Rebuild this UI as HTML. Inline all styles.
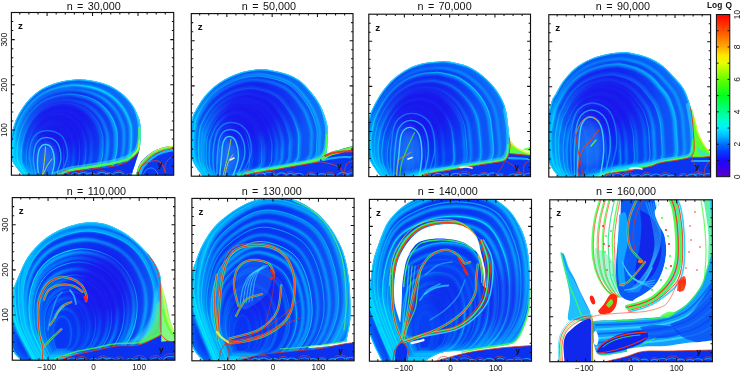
<!DOCTYPE html><html><head><meta charset="utf-8"><style>html,body{margin:0;padding:0;background:#fff;}svg{display:block;will-change:transform;}</style></head><body><svg width="742" height="372" viewBox="0 0 742 372"><defs><clipPath id="c0"><rect x="11.40" y="12.50" width="162.30" height="162.70"/></clipPath><filter id="bl" x="-5%" y="-5%" width="110%" height="110%"><feGaussianBlur stdDeviation="0.5"/></filter><filter id="bl3" x="-10%" y="-10%" width="120%" height="120%"><feGaussianBlur stdDeviation="2.5"/></filter><filter id="bl2" x="-5%" y="-5%" width="110%" height="110%"><feGaussianBlur stdDeviation="1.1"/></filter><path id="d1" d="M25.00,178.00 C22.70,174.83 13.62,165.33 11.20,159.00 C8.78,152.67 10.17,145.13 10.50,140.00 C10.83,134.87 12.20,131.78 13.20,128.20 C14.20,124.62 14.88,121.98 16.50,118.50 C18.12,115.02 20.48,110.78 22.90,107.30 C25.32,103.82 27.77,100.70 31.00,97.60 C34.23,94.50 37.73,91.25 42.30,88.70 C46.87,86.15 53.03,83.83 58.40,82.30 C63.77,80.77 69.90,79.92 74.50,79.50 C79.10,79.08 81.37,79.22 86.00,79.80 C90.63,80.38 97.43,81.52 102.30,83.00 C107.17,84.48 111.45,86.53 115.20,88.70 C118.95,90.87 121.85,93.18 124.80,96.00 C127.75,98.82 130.75,102.38 132.90,105.60 C135.05,108.82 136.48,112.33 137.70,115.30 C138.92,118.27 139.72,120.12 140.20,123.40 C140.68,126.68 140.63,131.18 140.60,135.00 C140.57,138.82 140.30,143.47 140.00,146.30 C139.70,149.13 139.28,150.12 138.80,152.00 C138.32,153.88 137.75,155.53 137.10,157.60 C136.45,159.67 135.65,162.13 134.90,164.40 C134.15,166.67 133.22,168.93 132.60,171.20 C131.98,173.47 131.43,176.87 131.20,178.00 Z"/><clipPath id="d1c"><use href="#d1"/></clipPath><linearGradient id="b1" gradientUnits="userSpaceOnUse" x1="80.0" y1="0" x2="142.0" y2="0"><stop offset="0" stop-color="#1a9cff" stop-opacity="0"/><stop offset="1" stop-color="#1a9cff" stop-opacity="0.45"/></linearGradient><radialGradient id="k1"><stop offset="0.000" stop-color="#1a14ec" stop-opacity="0.920"/><stop offset="0.400" stop-color="#1a14ec" stop-opacity="0.874"/><stop offset="0.700" stop-color="#1a14ec" stop-opacity="0.414"/><stop offset="1.000" stop-color="#1a14ec" stop-opacity="0.000"/></radialGradient><radialGradient id="g1"><stop offset="0.000" stop-color="#28b0ff" stop-opacity="0.500"/><stop offset="0.500" stop-color="#28b0ff" stop-opacity="0.400"/><stop offset="1.000" stop-color="#28b0ff" stop-opacity="0.000"/></radialGradient><clipPath id="c1"><rect x="191.30" y="13.60" width="161.70" height="162.60"/></clipPath><path id="d2" d="M204.50,179.00 C202.47,175.83 194.72,166.50 192.30,160.00 C189.88,153.50 190.05,146.78 190.00,140.00 C189.95,133.22 191.07,124.23 192.00,119.30 C192.93,114.37 194.05,113.50 195.60,110.40 C197.15,107.30 199.00,103.93 201.30,100.70 C203.60,97.47 206.45,93.95 209.40,91.00 C212.35,88.05 215.52,85.42 219.00,83.00 C222.48,80.58 226.27,78.38 230.30,76.50 C234.33,74.62 238.63,72.90 243.20,71.70 C247.77,70.50 253.52,69.63 257.70,69.30 C261.88,68.97 263.48,68.93 268.30,69.70 C273.12,70.47 281.42,72.13 286.60,73.90 C291.78,75.67 295.43,77.40 299.40,80.30 C303.37,83.20 307.05,87.35 310.40,91.30 C313.75,95.25 317.07,99.73 319.50,104.00 C321.93,108.27 323.63,112.92 325.00,116.90 C326.37,120.88 327.30,124.05 327.70,127.90 C328.10,131.75 327.58,135.92 327.40,140.00 C327.22,144.08 327.33,149.48 326.60,152.40 C325.87,155.32 324.15,155.97 323.00,157.50 C321.85,159.03 323.53,160.18 319.70,161.60 C315.87,163.02 306.62,164.60 300.00,166.00 C293.38,167.40 286.67,168.67 280.00,170.00 C273.33,171.33 265.83,172.50 260.00,174.00 C254.17,175.50 247.50,178.17 245.00,179.00 Z"/><clipPath id="d2c"><use href="#d2"/></clipPath><linearGradient id="b2" gradientUnits="userSpaceOnUse" x1="262.0" y1="0" x2="328.0" y2="0"><stop offset="0" stop-color="#1a9cff" stop-opacity="0"/><stop offset="1" stop-color="#1a9cff" stop-opacity="0.45"/></linearGradient><radialGradient id="k2"><stop offset="0.000" stop-color="#1a14ec" stop-opacity="0.920"/><stop offset="0.400" stop-color="#1a14ec" stop-opacity="0.874"/><stop offset="0.700" stop-color="#1a14ec" stop-opacity="0.414"/><stop offset="1.000" stop-color="#1a14ec" stop-opacity="0.000"/></radialGradient><radialGradient id="g2"><stop offset="0.000" stop-color="#28b0ff" stop-opacity="0.500"/><stop offset="0.500" stop-color="#28b0ff" stop-opacity="0.400"/><stop offset="1.000" stop-color="#28b0ff" stop-opacity="0.000"/></radialGradient><clipPath id="c2"><rect x="368.80" y="14.20" width="161.70" height="162.40"/></clipPath><path id="d3" d="M382.40,179.00 C380.08,175.42 371.23,164.83 368.50,157.50 C365.77,150.17 365.83,141.75 366.00,135.00 C366.17,128.25 368.63,120.92 369.50,117.00 C370.37,113.08 370.12,114.03 371.20,111.50 C372.28,108.97 374.12,105.17 376.00,101.80 C377.88,98.43 380.07,94.67 382.50,91.30 C384.93,87.93 387.63,84.57 390.60,81.60 C393.57,78.63 396.82,75.92 400.30,73.50 C403.78,71.08 407.47,68.85 411.50,67.10 C415.53,65.35 419.92,63.93 424.50,63.00 C429.08,62.07 434.95,61.73 439.00,61.50 C443.05,61.27 444.03,60.80 448.80,61.60 C453.57,62.40 461.95,63.95 467.60,66.30 C473.25,68.65 478.30,72.25 482.70,75.70 C487.10,79.15 490.72,82.92 494.00,87.00 C497.28,91.08 500.37,96.12 502.40,100.20 C504.43,104.28 505.30,107.70 506.20,111.50 C507.10,115.30 507.37,119.75 507.80,123.00 C508.23,126.25 508.53,128.50 508.80,131.00 C509.07,133.50 509.22,135.50 509.40,138.00 C509.58,140.50 509.93,143.42 509.90,146.00 C509.87,148.58 510.02,151.07 509.20,153.50 C508.38,155.93 507.50,159.07 505.00,160.60 C502.50,162.13 498.37,161.98 494.20,162.70 C490.03,163.42 486.47,163.82 480.00,164.90 C473.53,165.98 463.73,167.77 455.40,169.20 C447.07,170.63 436.73,171.87 430.00,173.50 C423.27,175.13 417.50,178.08 415.00,179.00 Z"/><clipPath id="d3c"><use href="#d3"/></clipPath><linearGradient id="b3" gradientUnits="userSpaceOnUse" x1="440.0" y1="0" x2="509.0" y2="0"><stop offset="0" stop-color="#1a9cff" stop-opacity="0"/><stop offset="1" stop-color="#1a9cff" stop-opacity="0.45"/></linearGradient><radialGradient id="k3"><stop offset="0.000" stop-color="#1a14ec" stop-opacity="0.920"/><stop offset="0.400" stop-color="#1a14ec" stop-opacity="0.874"/><stop offset="0.700" stop-color="#1a14ec" stop-opacity="0.414"/><stop offset="1.000" stop-color="#1a14ec" stop-opacity="0.000"/></radialGradient><radialGradient id="g3"><stop offset="0.000" stop-color="#28b0ff" stop-opacity="0.500"/><stop offset="0.500" stop-color="#28b0ff" stop-opacity="0.400"/><stop offset="1.000" stop-color="#28b0ff" stop-opacity="0.000"/></radialGradient><clipPath id="c3"><rect x="548.80" y="14.70" width="161.80" height="162.30"/></clipPath><path id="d4" d="M560.80,179.00 C558.83,176.12 551.47,169.87 549.00,161.70 C546.53,153.53 545.63,139.78 546.00,130.00 C546.37,120.22 549.53,109.10 551.20,103.00 C552.87,96.90 554.12,96.88 556.00,93.40 C557.88,89.92 560.07,85.60 562.50,82.10 C564.93,78.60 567.63,75.35 570.60,72.40 C573.57,69.45 576.53,66.82 580.30,64.40 C584.07,61.98 588.63,59.65 593.20,57.90 C597.77,56.15 602.87,54.83 607.70,53.90 C612.53,52.97 618.68,52.53 622.20,52.30 C625.72,52.07 624.57,51.68 628.80,52.50 C633.03,53.32 641.95,55.00 647.60,57.20 C653.25,59.40 658.30,62.40 662.70,65.70 C667.10,69.00 670.55,73.23 674.00,77.00 C677.45,80.77 680.90,84.22 683.40,88.30 C685.90,92.38 687.58,97.43 689.00,101.50 C690.42,105.57 691.28,109.45 691.90,112.70 C692.52,115.95 692.45,117.73 692.70,121.00 C692.95,124.27 693.13,127.95 693.40,132.30 C693.67,136.65 694.30,143.70 694.30,147.10 C694.30,150.50 693.87,151.00 693.40,152.70 C692.93,154.40 693.98,156.08 691.50,157.30 C689.02,158.52 683.75,159.07 678.50,160.00 C673.25,160.93 664.78,161.80 660.00,162.90 C655.22,164.00 654.82,165.32 649.80,166.60 C644.78,167.88 636.53,169.43 629.90,170.60 C623.27,171.77 615.82,172.20 610.00,173.60 C604.18,175.00 597.50,178.10 595.00,179.00 Z"/><clipPath id="d4c"><use href="#d4"/></clipPath><linearGradient id="b4" gradientUnits="userSpaceOnUse" x1="622.0" y1="0" x2="694.0" y2="0"><stop offset="0" stop-color="#1a9cff" stop-opacity="0"/><stop offset="1" stop-color="#1a9cff" stop-opacity="0.45"/></linearGradient><radialGradient id="k4"><stop offset="0.000" stop-color="#1a14ec" stop-opacity="0.920"/><stop offset="0.400" stop-color="#1a14ec" stop-opacity="0.874"/><stop offset="0.700" stop-color="#1a14ec" stop-opacity="0.414"/><stop offset="1.000" stop-color="#1a14ec" stop-opacity="0.000"/></radialGradient><radialGradient id="g4"><stop offset="0.000" stop-color="#28b0ff" stop-opacity="0.500"/><stop offset="0.500" stop-color="#28b0ff" stop-opacity="0.400"/><stop offset="1.000" stop-color="#28b0ff" stop-opacity="0.000"/></radialGradient><clipPath id="c4"><rect x="12.30" y="197.60" width="162.60" height="162.60"/></clipPath><path id="d5" d="M24.00,363.00 C22.05,360.67 14.63,356.17 12.30,349.00 C9.97,341.83 9.85,329.43 10.00,320.00 C10.15,310.57 12.30,298.43 13.20,292.40 C14.10,286.37 14.13,287.38 15.40,283.80 C16.67,280.22 18.83,275.20 20.80,270.90 C22.77,266.60 24.70,261.93 27.20,258.00 C29.70,254.07 32.57,250.70 35.80,247.30 C39.03,243.90 42.65,240.48 46.60,237.60 C50.55,234.72 54.85,232.15 59.50,230.00 C64.15,227.85 69.48,225.98 74.50,224.70 C79.52,223.42 84.48,222.42 89.60,222.30 C94.72,222.18 99.92,222.53 105.20,224.00 C110.48,225.47 116.27,228.23 121.30,231.10 C126.33,233.97 131.37,237.83 135.40,241.20 C139.43,244.57 142.47,247.93 145.50,251.30 C148.53,254.67 151.23,257.70 153.60,261.40 C155.97,265.10 158.40,268.73 159.70,273.50 C161.00,278.27 161.12,283.08 161.40,290.00 C161.68,296.92 161.43,306.67 161.40,315.00 C161.37,323.33 161.43,332.00 161.20,340.00 C160.97,348.00 160.20,359.17 160.00,363.00 Z"/><clipPath id="d5c"><use href="#d5"/></clipPath><path id="d5t" d="M42.00,364.00 C38.67,357.00 25.33,337.33 22.00,322.00 C18.67,306.67 18.17,286.33 22.00,272.00 C25.83,257.67 33.67,244.50 45.00,236.00 C56.33,227.50 75.00,221.17 90.00,221.00 C105.00,220.83 123.33,226.83 135.00,235.00 C146.67,243.17 155.33,257.50 160.00,270.00 C164.67,282.50 165.00,297.50 163.00,310.00 C161.00,322.50 155.50,336.00 148.00,345.00 C140.50,354.00 123.00,360.83 118.00,364.00 Z"/><linearGradient id="b5" gradientUnits="userSpaceOnUse" x1="118.0" y1="0" x2="162.0" y2="0"><stop offset="0" stop-color="#1a9cff" stop-opacity="0"/><stop offset="1" stop-color="#1a9cff" stop-opacity="0.40"/></linearGradient><radialGradient id="k5"><stop offset="0.000" stop-color="#1a14ec" stop-opacity="0.900"/><stop offset="0.400" stop-color="#1a14ec" stop-opacity="0.855"/><stop offset="0.700" stop-color="#1a14ec" stop-opacity="0.405"/><stop offset="1.000" stop-color="#1a14ec" stop-opacity="0.000"/></radialGradient><clipPath id="c5"><rect x="191.90" y="198.40" width="162.20" height="162.40"/></clipPath><path id="d6" d="M205.00,363.00 C202.67,359.65 193.67,353.40 191.00,342.90 C188.33,332.40 188.75,311.82 189.00,300.00 C189.25,288.18 191.55,277.90 192.50,272.00 C193.45,266.10 193.55,268.02 194.70,264.60 C195.85,261.18 197.68,255.57 199.40,251.50 C201.12,247.43 202.80,243.97 205.00,240.20 C207.20,236.43 209.77,232.35 212.60,228.90 C215.43,225.45 218.55,222.48 222.00,219.50 C225.45,216.52 229.22,213.67 233.30,211.00 C237.38,208.33 242.05,205.53 246.50,203.50 C250.95,201.47 255.75,199.92 260.00,198.80 C264.25,197.68 267.83,197.02 272.00,196.80 C276.17,196.58 280.95,196.87 285.00,197.50 C289.05,198.13 292.53,199.13 296.30,200.60 C300.07,202.07 303.83,203.93 307.60,206.30 C311.37,208.67 315.45,211.67 318.90,214.80 C322.35,217.93 325.48,221.50 328.30,225.10 C331.12,228.70 333.60,232.63 335.80,236.40 C338.00,240.17 339.93,243.93 341.50,247.70 C343.07,251.47 344.18,255.28 345.20,259.00 C346.22,262.72 346.88,265.67 347.60,270.00 C348.32,274.33 349.05,280.00 349.50,285.00 C349.95,290.00 350.17,294.25 350.30,300.00 C350.43,305.75 350.72,313.78 350.30,319.50 C349.88,325.22 348.42,330.60 347.80,334.30 C347.18,338.00 347.23,336.92 346.60,341.70 C345.97,346.48 344.43,359.45 344.00,363.00 Z"/><clipPath id="d6c"><use href="#d6"/></clipPath><path id="d6t" d="M220.00,364.00 C216.33,353.33 199.83,320.67 198.00,300.00 C196.17,279.33 201.83,255.33 209.00,240.00 C216.17,224.67 229.83,215.00 241.00,208.00 C252.17,201.00 262.67,196.67 276.00,198.00 C289.33,199.33 309.83,206.33 321.00,216.00 C332.17,225.67 338.50,240.67 343.00,256.00 C347.50,271.33 350.17,292.67 348.00,308.00 C345.83,323.33 338.33,338.67 330.00,348.00 C321.67,357.33 303.33,361.33 298.00,364.00 Z"/><linearGradient id="b6" gradientUnits="userSpaceOnUse" x1="285.0" y1="0" x2="350.0" y2="0"><stop offset="0" stop-color="#1a9cff" stop-opacity="0"/><stop offset="1" stop-color="#1a9cff" stop-opacity="0.40"/></linearGradient><radialGradient id="k6b"><stop offset="0.000" stop-color="#1a14ec" stop-opacity="0.600"/><stop offset="0.400" stop-color="#1a14ec" stop-opacity="0.570"/><stop offset="0.700" stop-color="#1a14ec" stop-opacity="0.270"/><stop offset="1.000" stop-color="#1a14ec" stop-opacity="0.000"/></radialGradient><clipPath id="c6"><rect x="369.40" y="199.40" width="162.10" height="161.80"/></clipPath><path id="d7" d="M383.20,364.00 C380.83,358.63 371.70,342.47 369.00,331.80 C366.30,321.13 366.83,307.80 367.00,300.00 C367.17,292.20 369.17,290.23 370.00,285.00 C370.83,279.77 371.25,273.43 372.00,268.60 C372.75,263.77 373.42,260.10 374.50,256.00 C375.58,251.90 377.08,248.00 378.50,244.00 C379.92,240.00 381.25,235.92 383.00,232.00 C384.75,228.08 386.00,224.50 389.00,220.50 C392.00,216.50 396.77,211.48 401.00,208.00 C405.23,204.52 409.57,202.10 414.40,199.60 C419.23,197.10 423.23,194.77 430.00,193.00 C436.77,191.23 446.67,189.17 455.00,189.00 C463.33,188.83 473.05,190.12 480.00,192.00 C486.95,193.88 491.67,197.05 496.70,200.30 C501.73,203.55 506.45,207.37 510.20,211.50 C513.95,215.63 516.75,220.58 519.20,225.10 C521.65,229.62 523.38,233.72 524.90,238.60 C526.42,243.48 527.52,248.75 528.30,254.40 C529.08,260.05 529.33,266.57 529.60,272.50 C529.87,278.43 530.08,283.68 529.90,290.00 C529.72,296.32 529.72,303.85 528.50,310.40 C527.28,316.95 524.77,324.18 522.60,329.30 C520.43,334.42 518.27,338.53 515.50,341.10 C512.73,343.67 511.52,343.52 506.00,344.70 C500.48,345.88 489.87,347.22 482.40,348.20 C474.93,349.18 468.27,349.80 461.20,350.60 C454.13,351.40 446.87,350.77 440.00,353.00 C433.13,355.23 423.33,362.17 420.00,364.00 Z"/><clipPath id="d7c"><use href="#d7"/></clipPath><path id="d7t" d="M400.00,364.00 C395.67,351.67 376.33,313.00 374.00,290.00 C371.67,267.00 378.33,241.17 386.00,226.00 C393.67,210.83 406.83,204.83 420.00,199.00 C433.17,193.17 450.83,190.17 465.00,191.00 C479.17,191.83 494.67,194.17 505.00,204.00 C515.33,213.83 523.33,232.67 527.00,250.00 C530.67,267.33 530.50,292.33 527.00,308.00 C523.50,323.67 515.50,334.67 506.00,344.00 C496.50,353.33 476.00,360.67 470.00,364.00 Z"/><linearGradient id="b7" gradientUnits="userSpaceOnUse" x1="470.0" y1="0" x2="530.0" y2="0"><stop offset="0" stop-color="#1a9cff" stop-opacity="0"/><stop offset="1" stop-color="#1a9cff" stop-opacity="0.35"/></linearGradient><radialGradient id="k7"><stop offset="0.000" stop-color="#1a14ec" stop-opacity="0.450"/><stop offset="0.400" stop-color="#1a14ec" stop-opacity="0.427"/><stop offset="0.700" stop-color="#1a14ec" stop-opacity="0.203"/><stop offset="1.000" stop-color="#1a14ec" stop-opacity="0.000"/></radialGradient><radialGradient id="g7"><stop offset="0.000" stop-color="#1020e8" stop-opacity="0.600"/><stop offset="0.500" stop-color="#1020e8" stop-opacity="0.480"/><stop offset="1.000" stop-color="#1020e8" stop-opacity="0.000"/></radialGradient><clipPath id="c7"><rect x="549.80" y="199.80" width="162.60" height="161.90"/></clipPath><linearGradient id="cbg" x1="0" y1="1" x2="0" y2="0"><stop offset="0.000" stop-color="#5a00c8"/><stop offset="0.050" stop-color="#3b00e7"/><stop offset="0.100" stop-color="#190afc"/><stop offset="0.150" stop-color="#0636ff"/><stop offset="0.200" stop-color="#006eff"/><stop offset="0.250" stop-color="#00b9ff"/><stop offset="0.300" stop-color="#00f0ff"/><stop offset="0.350" stop-color="#00ffc8"/><stop offset="0.400" stop-color="#00ff8f"/><stop offset="0.450" stop-color="#00ff56"/><stop offset="0.500" stop-color="#00ff1e"/><stop offset="0.550" stop-color="#32ff0f"/><stop offset="0.600" stop-color="#64ff00"/><stop offset="0.650" stop-color="#a5ff00"/><stop offset="0.700" stop-color="#e6ff00"/><stop offset="0.750" stop-color="#ffe600"/><stop offset="0.800" stop-color="#ffaa00"/><stop offset="0.850" stop-color="#ff7d00"/><stop offset="0.900" stop-color="#ff5000"/><stop offset="0.950" stop-color="#ff2800"/><stop offset="1.000" stop-color="#ff0000"/></linearGradient></defs><g clip-path="url(#c0)"><g clip-path="url(#d1c)"><use href="#d1" fill="#0836f2"/><use href="#d1" fill="none" stroke="#0a8cff" stroke-width="11" stroke-opacity="0.5" filter="url(#bl3)"/><g filter="url(#bl2)"><use href="#d1" transform="translate(40.00,177.00) scale(0.9053,0.9385) translate(-40.00,-177.00)" fill="none" stroke="#00d7ff" stroke-width="3.50" stroke-opacity="0.88" vector-effect="non-scaling-stroke"/><use href="#d1" transform="translate(40.00,177.00) scale(0.8351,0.8928) translate(-40.00,-177.00)" fill="none" stroke="#00d5ff" stroke-width="2.50" stroke-opacity="0.88" vector-effect="non-scaling-stroke"/><use href="#d1" transform="translate(40.00,177.00) scale(0.7530,0.8395) translate(-40.00,-177.00)" fill="none" stroke="#00d0ff" stroke-width="3.00" stroke-opacity="0.90" vector-effect="non-scaling-stroke"/><use href="#d1" transform="translate(40.00,177.00) scale(0.6713,0.7863) translate(-40.00,-177.00)" fill="none" stroke="#00d6ff" stroke-width="4.00" stroke-opacity="0.75" vector-effect="non-scaling-stroke"/><use href="#d1" transform="translate(40.00,177.00) scale(0.6086,0.7456) translate(-40.00,-177.00)" fill="none" stroke="#00baff" stroke-width="3.00" stroke-opacity="0.87" vector-effect="non-scaling-stroke"/><use href="#d1" transform="translate(40.00,177.00) scale(0.5102,0.6816) translate(-40.00,-177.00)" fill="none" stroke="#00ccff" stroke-width="2.50" stroke-opacity="0.69" vector-effect="non-scaling-stroke"/><use href="#d1" transform="translate(40.00,177.00) scale(0.4497,0.6423) translate(-40.00,-177.00)" fill="none" stroke="#00a5ff" stroke-width="2.50" stroke-opacity="0.86" vector-effect="non-scaling-stroke"/><use href="#d1" transform="translate(40.00,177.00) scale(0.3341,0.5672) translate(-40.00,-177.00)" fill="none" stroke="#00baff" stroke-width="4.00" stroke-opacity="0.83" vector-effect="non-scaling-stroke"/><use href="#d1" transform="translate(40.00,177.00) scale(0.2843,0.5348) translate(-40.00,-177.00)" fill="none" stroke="#00acff" stroke-width="4.00" stroke-opacity="0.89" vector-effect="non-scaling-stroke"/><use href="#d1" transform="translate(40.00,177.00) scale(0.1639,0.4565) translate(-40.00,-177.00)" fill="none" stroke="#00a3ff" stroke-width="2.50" stroke-opacity="0.68" vector-effect="non-scaling-stroke"/><use href="#d1" transform="translate(40.00,177.00) scale(0.0861,0.4060) translate(-40.00,-177.00)" fill="none" stroke="#00bdff" stroke-width="4.00" stroke-opacity="0.84" vector-effect="non-scaling-stroke"/></g><g filter="url(#bl)"><use href="#d1" transform="translate(40.00,177.00) scale(0.9084,0.9404) translate(-40.00,-177.00)" fill="none" stroke="#00e8ff" stroke-width="1.40" stroke-opacity="0.84" vector-effect="non-scaling-stroke"/><use href="#d1" transform="translate(40.00,177.00) scale(0.7674,0.8488) translate(-40.00,-177.00)" fill="none" stroke="#00ecff" stroke-width="1.40" stroke-opacity="0.86" vector-effect="non-scaling-stroke"/><use href="#d1" transform="translate(40.00,177.00) scale(0.6262,0.7570) translate(-40.00,-177.00)" fill="none" stroke="#00e2ff" stroke-width="1.10" stroke-opacity="0.91" vector-effect="non-scaling-stroke"/><use href="#d1" transform="translate(40.00,177.00) scale(0.4563,0.6466) translate(-40.00,-177.00)" fill="none" stroke="#00d4ff" stroke-width="0.90" stroke-opacity="0.80" vector-effect="non-scaling-stroke"/><use href="#d1" transform="translate(40.00,177.00) scale(0.3936,0.6059) translate(-40.00,-177.00)" fill="none" stroke="#00d1ff" stroke-width="0.90" stroke-opacity="0.84" vector-effect="non-scaling-stroke"/><use href="#d1" transform="translate(40.00,177.00) scale(0.2368,0.5039) translate(-40.00,-177.00)" fill="none" stroke="#00d6ff" stroke-width="1.40" stroke-opacity="0.74" vector-effect="non-scaling-stroke"/><use href="#d1" transform="translate(40.00,177.00) scale(0.1180,0.4267) translate(-40.00,-177.00)" fill="none" stroke="#00e0ff" stroke-width="1.10" stroke-opacity="0.68" vector-effect="non-scaling-stroke"/></g><rect x="80.0" y="0" width="82.0" height="372" fill="url(#b1)"/><ellipse cx="62.00" cy="124.00" rx="52.00" ry="46.00" fill="url(#k1)" transform="rotate(0.0 62.00 124.00)"/><path d="M25.00,178.00 C22.70,174.83 13.62,165.33 11.20,159.00 C8.78,152.67 10.17,145.13 10.50,140.00 C10.83,134.87 12.20,131.78 13.20,128.20 C14.20,124.62 14.88,121.98 16.50,118.50 C18.12,115.02 20.48,110.78 22.90,107.30 C25.32,103.82 27.77,100.70 31.00,97.60 C34.23,94.50 37.73,91.25 42.30,88.70 C46.87,86.15 53.03,83.83 58.40,82.30 C63.77,80.77 69.90,79.92 74.50,79.50 C79.10,79.08 81.37,79.22 86.00,79.80 C90.63,80.38 97.43,81.52 102.30,83.00 C107.17,84.48 111.45,86.53 115.20,88.70 C118.95,90.87 121.85,93.18 124.80,96.00 C127.75,98.82 130.75,102.38 132.90,105.60 C135.05,108.82 136.48,112.33 137.70,115.30 C138.92,118.27 139.72,120.12 140.20,123.40 C140.68,126.68 140.63,131.18 140.60,135.00 C140.57,138.82 140.30,143.47 140.00,146.30 C139.70,149.13 139.28,150.12 138.80,152.00 C138.32,153.88 137.75,155.53 137.10,157.60 C136.45,159.67 135.65,162.13 134.90,164.40 C134.15,166.67 133.22,168.93 132.60,171.20 C131.98,173.47 131.43,176.87 131.20,178.00 Z" fill="none" stroke="#10c0ff" stroke-width="2.60" stroke-opacity="0.90" stroke-linecap="round" stroke-linejoin="round" /><path d="M25.00,178.00 C22.70,174.83 13.62,165.33 11.20,159.00 C8.78,152.67 10.17,145.13 10.50,140.00 C10.83,134.87 12.20,131.78 13.20,128.20 C14.20,124.62 14.88,121.98 16.50,118.50 C18.12,115.02 20.48,110.78 22.90,107.30 C25.32,103.82 27.77,100.70 31.00,97.60 C34.23,94.50 37.73,91.25 42.30,88.70 C46.87,86.15 53.03,83.83 58.40,82.30 C63.77,80.77 69.90,79.92 74.50,79.50 C79.10,79.08 81.37,79.22 86.00,79.80 C90.63,80.38 97.43,81.52 102.30,83.00 C107.17,84.48 111.45,86.53 115.20,88.70 C118.95,90.87 121.85,93.18 124.80,96.00 C127.75,98.82 130.75,102.38 132.90,105.60 C135.05,108.82 136.48,112.33 137.70,115.30 C138.92,118.27 139.72,120.12 140.20,123.40 C140.68,126.68 140.63,131.18 140.60,135.00 C140.57,138.82 140.30,143.47 140.00,146.30 C139.70,149.13 139.28,150.12 138.80,152.00 C138.32,153.88 137.75,155.53 137.10,157.60 C136.45,159.67 135.65,162.13 134.90,164.40 C134.15,166.67 133.22,168.93 132.60,171.20 C131.98,173.47 131.43,176.87 131.20,178.00 Z" fill="none" stroke="#40e0ff" stroke-width="0.90" stroke-opacity="0.90" stroke-linecap="round" stroke-linejoin="round" /><path d="M137.00,110.00 C137.50,112.50 139.58,120.00 140.00,125.00 C140.42,130.00 140.17,135.67 139.50,140.00 C138.83,144.33 137.92,148.17 136.00,151.00 C134.08,153.83 132.00,155.17 128.00,157.00 C124.00,158.83 118.00,160.58 112.00,162.00 C106.00,163.42 99.00,164.33 92.00,165.50 C85.00,166.67 76.17,167.58 70.00,169.00 C63.83,170.42 57.50,173.17 55.00,174.00" fill="none" stroke="#30e0ff" stroke-width="4.50" stroke-opacity="0.60" stroke-linecap="round" stroke-linejoin="round" /><path d="M139.50,128.00 C139.50,130.33 139.92,138.08 139.50,142.00 C139.08,145.92 138.75,148.78 137.00,151.50 C135.25,154.22 132.83,156.38 129.00,158.30 C125.17,160.22 120.17,161.58 114.00,163.00 C107.83,164.42 99.33,165.55 92.00,166.80 C84.67,168.05 76.00,168.97 70.00,170.50 C64.00,172.03 58.33,175.08 56.00,176.00" fill="none" stroke="#50ff40" stroke-width="2.60" stroke-opacity="0.90" stroke-linecap="round" stroke-linejoin="round" /><path d="M139.50,140.00 C139.25,141.50 139.08,146.50 138.00,149.00 C136.92,151.50 133.83,154.00 133.00,155.00" fill="none" stroke="#e0ff30" stroke-width="1.20" stroke-opacity="0.80" stroke-linecap="round" stroke-linejoin="round" /><path d="M139.60,151.00 C138.05,152.50 133.35,157.80 130.30,160.00 C127.25,162.20 124.68,163.07 121.30,164.20 C117.92,165.33 114.98,166.00 110.00,166.80 C105.02,167.60 98.07,168.13 91.40,169.00 C84.73,169.87 75.57,170.58 70.00,172.00 C64.43,173.42 60.00,176.58 58.00,177.50 L58.00,180.00 L139.60,180.00 Z" fill="#0a30f0" fill-opacity="1.00" /><path d="M58.98,177.00 A5.46,4.37 0 0 1 69.89,177.00" fill="none" stroke="#20c0ff" stroke-width="1.10" stroke-opacity="0.70" stroke-linecap="round" stroke-linejoin="round" /><path d="M57.34,177.00 A7.09,6.38 0 0 1 71.53,177.00" fill="none" stroke="#e04020" stroke-width="0.90" stroke-opacity="0.70" stroke-linecap="round" stroke-linejoin="round" /><path d="M70.33,177.00 A5.24,4.19 0 0 1 80.81,177.00" fill="none" stroke="#20c0ff" stroke-width="1.10" stroke-opacity="0.70" stroke-linecap="round" stroke-linejoin="round" /><path d="M77.64,177.00 A5.52,4.42 0 0 1 88.68,177.00" fill="none" stroke="#20c0ff" stroke-width="1.10" stroke-opacity="0.70" stroke-linecap="round" stroke-linejoin="round" /><path d="M75.98,177.00 A7.18,6.46 0 0 1 90.33,177.00" fill="none" stroke="#e04020" stroke-width="0.90" stroke-opacity="0.70" stroke-linecap="round" stroke-linejoin="round" /><path d="M85.77,177.00 A5.35,4.28 0 0 1 96.46,177.00" fill="none" stroke="#20c0ff" stroke-width="1.10" stroke-opacity="0.70" stroke-linecap="round" stroke-linejoin="round" /><path d="M96.15,177.00 A6.00,4.80 0 0 1 108.14,177.00" fill="none" stroke="#20c0ff" stroke-width="1.10" stroke-opacity="0.70" stroke-linecap="round" stroke-linejoin="round" /><path d="M94.35,177.00 A7.80,6.60 0 0 1 109.94,177.00" fill="none" stroke="#e04020" stroke-width="0.90" stroke-opacity="0.70" stroke-linecap="round" stroke-linejoin="round" /><path d="M104.39,177.00 A4.86,3.89 0 0 1 114.12,177.00" fill="none" stroke="#20c0ff" stroke-width="1.10" stroke-opacity="0.70" stroke-linecap="round" stroke-linejoin="round" /><path d="M112.45,177.00 A6.03,4.83 0 0 1 124.52,177.00" fill="none" stroke="#20c0ff" stroke-width="1.10" stroke-opacity="0.70" stroke-linecap="round" stroke-linejoin="round" /><path d="M110.64,177.00 A7.85,6.60 0 0 1 126.33,177.00" fill="none" stroke="#e04020" stroke-width="0.90" stroke-opacity="0.70" stroke-linecap="round" stroke-linejoin="round" /><path d="M125.89,177.00 A4.26,3.41 0 0 1 134.41,177.00" fill="none" stroke="#20c0ff" stroke-width="1.10" stroke-opacity="0.70" stroke-linecap="round" stroke-linejoin="round" /><path d="M139.60,151.00 C138.05,152.50 133.35,157.80 130.30,160.00 C127.25,162.20 124.68,163.07 121.30,164.20 C117.92,165.33 114.98,166.00 110.00,166.80 C105.02,167.60 98.07,168.13 91.40,169.00 C84.73,169.87 75.57,170.58 70.00,172.00 C64.43,173.42 60.00,176.58 58.00,177.50" fill="none" stroke="#e83010" stroke-width="1.00" stroke-opacity="0.90" stroke-linecap="round" stroke-linejoin="round" /></g><ellipse cx="46.00" cy="160.00" rx="14.00" ry="22.00" fill="url(#g1)"/><path d="M39.00,178.00 C38.75,175.49 37.43,167.73 37.50,162.93 C37.57,158.12 38.09,152.26 39.42,149.19 C40.75,146.12 43.37,144.50 45.50,144.50 C47.63,144.50 50.75,146.12 52.22,149.19 C53.69,152.26 54.50,158.12 54.30,162.93 C54.10,167.73 51.55,175.49 51.00,178.00" fill="none" stroke="#40e8ff" stroke-width="1.40" stroke-opacity="0.85" stroke-linecap="round" stroke-linejoin="round" /><path d="M36.50,178.00 C36.00,174.96 33.48,165.58 33.50,159.78 C33.52,153.97 34.45,146.88 36.62,143.17 C38.79,139.46 43.03,137.50 46.50,137.50 C49.97,137.50 55.04,139.46 57.42,143.17 C59.80,146.88 61.20,153.97 60.80,159.78 C60.40,165.58 55.97,174.96 55.00,178.00" fill="none" stroke="#28c8ff" stroke-width="1.40" stroke-opacity="0.70" stroke-linecap="round" stroke-linejoin="round" /><path d="M34.00,178.00 C33.25,174.44 29.53,163.43 29.50,156.62 C29.47,149.82 30.82,141.50 33.82,137.15 C36.82,132.80 42.70,130.50 47.50,130.50 C52.30,130.50 59.32,132.80 62.62,137.15 C65.92,141.50 67.90,149.82 67.30,156.62 C66.70,163.43 60.38,174.44 59.00,178.00" fill="none" stroke="#20a8ff" stroke-width="1.40" stroke-opacity="0.55" stroke-linecap="round" stroke-linejoin="round" /><path d="M45.50,147.00 C45.33,149.17 45.00,155.33 44.50,160.00 C44.00,164.67 42.83,172.50 42.50,175.00" fill="none" stroke="#c8e030" stroke-width="1.00" stroke-opacity="0.90" stroke-linecap="round" stroke-linejoin="round" /><path d="M52.00,159.00 C51.17,160.17 48.50,163.33 47.00,166.00 C45.50,168.67 43.67,173.50 43.00,175.00" fill="none" stroke="#e0e040" stroke-width="0.90" stroke-opacity="0.90" stroke-linecap="round" stroke-linejoin="round" /><path d="M135.50,178.00 C135.58,177.42 135.35,176.77 136.00,174.50 C136.65,172.23 138.08,167.03 139.40,164.40 C140.72,161.77 142.13,160.52 143.90,158.70 C145.67,156.88 147.82,155.03 150.00,153.50 C152.18,151.97 154.17,150.67 157.00,149.50 C159.83,148.33 163.83,147.17 167.00,146.50 C170.17,145.83 174.50,145.67 176.00,145.50 L176,178 Z" fill="#0a36f2" fill-opacity="1.00" /><path d="M137.20,175.90 C137.77,174.22 139.28,168.43 140.60,165.80 C141.92,163.17 143.33,161.92 145.10,160.10 C146.87,158.28 149.02,156.43 151.20,154.90 C153.38,153.37 155.37,152.07 158.20,150.90 C161.03,149.73 165.03,148.57 168.20,147.90 C171.37,147.23 175.70,147.07 177.20,146.90" fill="none" stroke="#60ff40" stroke-width="3.00" stroke-opacity="0.95" stroke-linecap="round" stroke-linejoin="round" /><path d="M140.00,164.80 C140.75,163.85 142.73,160.92 144.50,159.10 C146.27,157.28 148.42,155.43 150.60,153.90 C152.78,152.37 154.77,151.07 157.60,149.90 C160.43,148.73 164.43,147.57 167.60,146.90 C170.77,146.23 175.10,146.07 176.60,145.90" fill="none" stroke="#f0ff30" stroke-width="1.00" stroke-opacity="0.80" stroke-linecap="round" stroke-linejoin="round" /><path d="M139.00,178.50 C139.57,176.82 141.08,171.03 142.40,168.40 C143.72,165.77 145.13,164.52 146.90,162.70 C148.67,160.88 150.82,159.03 153.00,157.50 C155.18,155.97 157.17,154.67 160.00,153.50 C162.83,152.33 166.83,151.17 170.00,150.50 C173.17,149.83 177.50,149.67 179.00,149.50" fill="none" stroke="#20d8ff" stroke-width="2.40" stroke-opacity="0.75" stroke-linecap="round" stroke-linejoin="round" /><path d="M138.00,176.00 C138.50,174.50 139.17,169.33 141.00,167.00 C142.83,164.67 146.17,163.00 149.00,162.00 C151.83,161.00 155.67,160.33 158.00,161.00 C160.33,161.67 161.67,163.50 163.00,166.00 C164.33,168.50 165.50,174.33 166.00,176.00" fill="none" stroke="#e04020" stroke-width="1.00" stroke-opacity="0.90" stroke-linecap="round" stroke-linejoin="round" /><path d="M166.00,176.00 C165.83,174.17 164.33,168.00 165.00,165.00 C165.67,162.00 168.17,159.50 170.00,158.00 C171.83,156.50 175.00,156.33 176.00,156.00" fill="none" stroke="#e04020" stroke-width="0.90" stroke-opacity="0.80" stroke-linecap="round" stroke-linejoin="round" /><path d="M137.50,177.00 C138.07,175.32 139.58,169.53 140.90,166.90 C142.22,164.27 143.63,163.02 145.40,161.20 C147.17,159.38 149.32,157.53 151.50,156.00 C153.68,154.47 155.67,153.17 158.50,152.00 C161.33,150.83 165.33,149.67 168.50,149.00 C171.67,148.33 176.00,148.17 177.50,148.00" fill="none" stroke="#f04020" stroke-width="0.90" stroke-opacity="0.85" stroke-linecap="round" stroke-linejoin="round" /><path d="M142.00,177.00 C142.67,175.83 144.33,171.50 146.00,170.00 C147.67,168.50 150.17,167.67 152.00,168.00 C153.83,168.33 156.00,170.50 157.00,172.00 C158.00,173.50 157.83,176.17 158.00,177.00" fill="none" stroke="#30d0ff" stroke-width="1.00" stroke-opacity="0.60" stroke-linecap="round" stroke-linejoin="round" /></g><g clip-path="url(#c1)"><g clip-path="url(#d2c)"><use href="#d2" fill="#0836f2"/><use href="#d2" fill="none" stroke="#0a8cff" stroke-width="11" stroke-opacity="0.5" filter="url(#bl3)"/><g filter="url(#bl2)"><use href="#d2" transform="translate(221.00,178.00) scale(0.9242,0.9507) translate(-221.00,-178.00)" fill="none" stroke="#00dfff" stroke-width="2.50" stroke-opacity="0.86" vector-effect="non-scaling-stroke"/><use href="#d2" transform="translate(221.00,178.00) scale(0.8499,0.9024) translate(-221.00,-178.00)" fill="none" stroke="#00caff" stroke-width="2.50" stroke-opacity="0.88" vector-effect="non-scaling-stroke"/><use href="#d2" transform="translate(221.00,178.00) scale(0.7356,0.8281) translate(-221.00,-178.00)" fill="none" stroke="#00cdff" stroke-width="3.00" stroke-opacity="0.75" vector-effect="non-scaling-stroke"/><use href="#d2" transform="translate(221.00,178.00) scale(0.6532,0.7746) translate(-221.00,-178.00)" fill="none" stroke="#00beff" stroke-width="3.00" stroke-opacity="0.75" vector-effect="non-scaling-stroke"/><use href="#d2" transform="translate(221.00,178.00) scale(0.5753,0.7239) translate(-221.00,-178.00)" fill="none" stroke="#00d3ff" stroke-width="4.00" stroke-opacity="0.69" vector-effect="non-scaling-stroke"/><use href="#d2" transform="translate(221.00,178.00) scale(0.5237,0.6904) translate(-221.00,-178.00)" fill="none" stroke="#00afff" stroke-width="4.00" stroke-opacity="0.68" vector-effect="non-scaling-stroke"/><use href="#d2" transform="translate(221.00,178.00) scale(0.4028,0.6118) translate(-221.00,-178.00)" fill="none" stroke="#00ccff" stroke-width="3.00" stroke-opacity="0.84" vector-effect="non-scaling-stroke"/><use href="#d2" transform="translate(221.00,178.00) scale(0.3680,0.5892) translate(-221.00,-178.00)" fill="none" stroke="#00a6ff" stroke-width="3.00" stroke-opacity="0.72" vector-effect="non-scaling-stroke"/><use href="#d2" transform="translate(221.00,178.00) scale(0.2863,0.5361) translate(-221.00,-178.00)" fill="none" stroke="#00b4ff" stroke-width="3.00" stroke-opacity="0.70" vector-effect="non-scaling-stroke"/><use href="#d2" transform="translate(221.00,178.00) scale(0.2048,0.4831) translate(-221.00,-178.00)" fill="none" stroke="#009dff" stroke-width="4.00" stroke-opacity="0.72" vector-effect="non-scaling-stroke"/><use href="#d2" transform="translate(221.00,178.00) scale(0.0932,0.4106) translate(-221.00,-178.00)" fill="none" stroke="#0094ff" stroke-width="3.00" stroke-opacity="0.72" vector-effect="non-scaling-stroke"/></g><g filter="url(#bl)"><use href="#d2" transform="translate(221.00,178.00) scale(0.9006,0.9354) translate(-221.00,-178.00)" fill="none" stroke="#00e4ff" stroke-width="0.90" stroke-opacity="0.93" vector-effect="non-scaling-stroke"/><use href="#d2" transform="translate(221.00,178.00) scale(0.7284,0.8234) translate(-221.00,-178.00)" fill="none" stroke="#00eeff" stroke-width="1.10" stroke-opacity="0.70" vector-effect="non-scaling-stroke"/><use href="#d2" transform="translate(221.00,178.00) scale(0.6413,0.7668) translate(-221.00,-178.00)" fill="none" stroke="#00daff" stroke-width="0.90" stroke-opacity="0.63" vector-effect="non-scaling-stroke"/><use href="#d2" transform="translate(221.00,178.00) scale(0.4777,0.6605) translate(-221.00,-178.00)" fill="none" stroke="#00edff" stroke-width="1.10" stroke-opacity="0.82" vector-effect="non-scaling-stroke"/><use href="#d2" transform="translate(221.00,178.00) scale(0.3826,0.5987) translate(-221.00,-178.00)" fill="none" stroke="#00dfff" stroke-width="1.40" stroke-opacity="0.68" vector-effect="non-scaling-stroke"/><use href="#d2" transform="translate(221.00,178.00) scale(0.2662,0.5230) translate(-221.00,-178.00)" fill="none" stroke="#00e0ff" stroke-width="1.40" stroke-opacity="0.92" vector-effect="non-scaling-stroke"/><use href="#d2" transform="translate(221.00,178.00) scale(0.0661,0.3930) translate(-221.00,-178.00)" fill="none" stroke="#00d3ff" stroke-width="1.40" stroke-opacity="0.93" vector-effect="non-scaling-stroke"/></g><rect x="262.0" y="0" width="86.0" height="372" fill="url(#b2)"/><ellipse cx="251.00" cy="113.00" rx="56.00" ry="46.00" fill="url(#k2)" transform="rotate(0.0 251.00 113.00)"/><path d="M204.50,179.00 C202.47,175.83 194.72,166.50 192.30,160.00 C189.88,153.50 190.05,146.78 190.00,140.00 C189.95,133.22 191.07,124.23 192.00,119.30 C192.93,114.37 194.05,113.50 195.60,110.40 C197.15,107.30 199.00,103.93 201.30,100.70 C203.60,97.47 206.45,93.95 209.40,91.00 C212.35,88.05 215.52,85.42 219.00,83.00 C222.48,80.58 226.27,78.38 230.30,76.50 C234.33,74.62 238.63,72.90 243.20,71.70 C247.77,70.50 253.52,69.63 257.70,69.30 C261.88,68.97 263.48,68.93 268.30,69.70 C273.12,70.47 281.42,72.13 286.60,73.90 C291.78,75.67 295.43,77.40 299.40,80.30 C303.37,83.20 307.05,87.35 310.40,91.30 C313.75,95.25 317.07,99.73 319.50,104.00 C321.93,108.27 323.63,112.92 325.00,116.90 C326.37,120.88 327.30,124.05 327.70,127.90 C328.10,131.75 327.58,135.92 327.40,140.00 C327.22,144.08 327.33,149.48 326.60,152.40 C325.87,155.32 324.15,155.97 323.00,157.50 C321.85,159.03 323.53,160.18 319.70,161.60 C315.87,163.02 306.62,164.60 300.00,166.00 C293.38,167.40 286.67,168.67 280.00,170.00 C273.33,171.33 265.83,172.50 260.00,174.00 C254.17,175.50 247.50,178.17 245.00,179.00 Z" fill="none" stroke="#10c0ff" stroke-width="2.60" stroke-opacity="0.90" stroke-linecap="round" stroke-linejoin="round" /><path d="M204.50,179.00 C202.47,175.83 194.72,166.50 192.30,160.00 C189.88,153.50 190.05,146.78 190.00,140.00 C189.95,133.22 191.07,124.23 192.00,119.30 C192.93,114.37 194.05,113.50 195.60,110.40 C197.15,107.30 199.00,103.93 201.30,100.70 C203.60,97.47 206.45,93.95 209.40,91.00 C212.35,88.05 215.52,85.42 219.00,83.00 C222.48,80.58 226.27,78.38 230.30,76.50 C234.33,74.62 238.63,72.90 243.20,71.70 C247.77,70.50 253.52,69.63 257.70,69.30 C261.88,68.97 263.48,68.93 268.30,69.70 C273.12,70.47 281.42,72.13 286.60,73.90 C291.78,75.67 295.43,77.40 299.40,80.30 C303.37,83.20 307.05,87.35 310.40,91.30 C313.75,95.25 317.07,99.73 319.50,104.00 C321.93,108.27 323.63,112.92 325.00,116.90 C326.37,120.88 327.30,124.05 327.70,127.90 C328.10,131.75 327.58,135.92 327.40,140.00 C327.22,144.08 327.33,149.48 326.60,152.40 C325.87,155.32 324.15,155.97 323.00,157.50 C321.85,159.03 323.53,160.18 319.70,161.60 C315.87,163.02 306.62,164.60 300.00,166.00 C293.38,167.40 286.67,168.67 280.00,170.00 C273.33,171.33 265.83,172.50 260.00,174.00 C254.17,175.50 247.50,178.17 245.00,179.00 Z" fill="none" stroke="#40e0ff" stroke-width="0.90" stroke-opacity="0.90" stroke-linecap="round" stroke-linejoin="round" /><path d="M322.00,105.00 C322.83,108.33 326.25,118.33 327.00,125.00 C327.75,131.67 327.33,139.83 326.50,145.00 C325.67,150.17 324.42,153.33 322.00,156.00 C319.58,158.67 316.20,159.67 312.00,161.00 C307.80,162.33 303.23,162.77 296.80,164.00 C290.37,165.23 281.20,166.98 273.40,168.40 C265.60,169.82 256.23,171.07 250.00,172.50 C243.77,173.93 238.33,176.25 236.00,177.00" fill="none" stroke="#30e0ff" stroke-width="4.50" stroke-opacity="0.60" stroke-linecap="round" stroke-linejoin="round" /><path d="M327.00,135.00 C326.83,137.50 327.00,146.17 326.00,150.00 C325.00,153.83 323.67,156.08 321.00,158.00 C318.33,159.92 314.03,160.45 310.00,161.50 C305.97,162.55 302.90,163.08 296.80,164.30 C290.70,165.52 281.20,167.38 273.40,168.80 C265.60,170.22 256.23,171.43 250.00,172.80 C243.77,174.17 238.33,176.30 236.00,177.00" fill="none" stroke="#50ff40" stroke-width="2.40" stroke-opacity="0.90" stroke-linecap="round" stroke-linejoin="round" /></g><ellipse cx="228.00" cy="157.00" rx="15.00" ry="24.00" fill="url(#g2)"/><path d="M219.50,178.00 C219.80,174.89 220.68,165.27 221.30,159.32 C221.92,153.38 221.89,146.11 223.22,142.31 C224.55,138.51 227.17,136.50 229.30,136.50 C231.43,136.50 234.55,138.51 236.02,142.31 C237.49,146.11 238.77,153.38 238.10,159.32 C237.43,165.27 233.02,174.89 232.00,178.00" fill="none" stroke="#40e8ff" stroke-width="1.40" stroke-opacity="0.85" stroke-linecap="round" stroke-linejoin="round" /><path d="M217.00,178.00 C217.05,174.36 216.73,163.13 217.30,156.18 C217.87,149.22 218.25,140.74 220.42,136.29 C222.59,131.84 226.83,129.50 230.30,129.50 C233.77,129.50 238.84,131.84 241.22,136.29 C243.60,140.74 245.47,149.22 244.60,156.18 C243.73,163.13 237.43,174.36 236.00,178.00" fill="none" stroke="#28c8ff" stroke-width="1.40" stroke-opacity="0.70" stroke-linecap="round" stroke-linejoin="round" /><path d="M214.50,178.00 C214.30,173.84 212.78,160.98 213.30,153.03 C213.82,145.07 214.62,135.36 217.62,130.27 C220.62,125.18 226.50,122.50 231.30,122.50 C236.10,122.50 243.12,125.18 246.42,130.27 C249.72,135.36 252.17,145.07 251.10,153.03 C250.03,160.98 241.85,173.84 240.00,178.00" fill="none" stroke="#20a8ff" stroke-width="1.40" stroke-opacity="0.55" stroke-linecap="round" stroke-linejoin="round" /><path d="M231.00,139.20 C230.50,141.83 229.35,148.87 228.00,155.00 C226.65,161.13 223.75,172.50 222.90,176.00" fill="none" stroke="#b0e030" stroke-width="1.00" stroke-opacity="0.90" stroke-linecap="round" stroke-linejoin="round" /><path d="M232.90,154.70 C232.08,156.08 229.37,159.45 228.00,163.00 C226.63,166.55 225.25,173.83 224.70,176.00" fill="none" stroke="#e0d040" stroke-width="0.90" stroke-opacity="0.90" stroke-linecap="round" stroke-linejoin="round" /><path d="M230.00,160.00 C230.67,159.67 233.33,158.33 234.00,158.00" fill="none" stroke="#ffffff" stroke-width="1.60" stroke-opacity="0.90" stroke-linecap="round" stroke-linejoin="round" /><path d="M238.00,178.00 C240.00,177.33 244.10,175.33 250.00,174.00 C255.90,172.67 265.60,171.37 273.40,170.00 C281.20,168.63 289.08,167.17 296.80,165.80 C304.52,164.43 315.88,162.47 319.70,161.80 L319.70,161.80 C320.08,161.00 320.28,158.57 322.00,157.00 C323.72,155.43 326.92,153.65 330.00,152.40 C333.08,151.15 337.00,150.47 340.50,149.50 C344.00,148.53 348.42,147.15 351.00,146.60 C353.58,146.05 355.17,146.27 356.00,146.20 L356,180 L238,180 Z" fill="#0a36f2" fill-opacity="1.00" /><path d="M322.80,158.60 C324.13,157.83 327.72,155.25 330.80,154.00 C333.88,152.75 337.80,152.07 341.30,151.10 C344.80,150.13 349.22,148.75 351.80,148.20 C354.38,147.65 355.97,147.87 356.80,147.80" fill="none" stroke="#60ff40" stroke-width="3.40" stroke-opacity="0.95" stroke-linecap="round" stroke-linejoin="round" /><path d="M325.50,155.80 C326.75,155.33 330.08,153.72 333.00,153.00 C335.92,152.28 339.83,151.80 343.00,151.50 C346.17,151.20 349.83,151.20 352.00,151.20 C354.17,151.20 355.33,151.45 356.00,151.50" fill="none" stroke="#ff2a10" stroke-width="2.20" stroke-opacity="0.95" stroke-linecap="round" stroke-linejoin="round" /><path d="M323.00,160.00 C324.83,159.67 330.33,158.50 334.00,158.00 C337.67,157.50 341.33,157.08 345.00,157.00 C348.67,156.92 354.17,157.42 356.00,157.50" fill="none" stroke="#20e0ff" stroke-width="2.20" stroke-opacity="0.70" stroke-linecap="round" stroke-linejoin="round" /><path d="M242.42,177.50 A6.28,5.02 0 0 1 254.99,177.50" fill="none" stroke="#20c0ff" stroke-width="1.10" stroke-opacity="0.70" stroke-linecap="round" stroke-linejoin="round" /><path d="M240.54,177.50 A8.17,7.35 0 0 1 256.87,177.50" fill="none" stroke="#e04020" stroke-width="0.90" stroke-opacity="0.70" stroke-linecap="round" stroke-linejoin="round" /><path d="M254.93,177.50 A5.75,4.60 0 0 1 266.43,177.50" fill="none" stroke="#20c0ff" stroke-width="1.10" stroke-opacity="0.70" stroke-linecap="round" stroke-linejoin="round" /><path d="M262.55,177.50 A6.54,5.23 0 0 1 275.63,177.50" fill="none" stroke="#20c0ff" stroke-width="1.10" stroke-opacity="0.70" stroke-linecap="round" stroke-linejoin="round" /><path d="M260.59,177.50 A8.50,7.48 0 0 1 277.59,177.50" fill="none" stroke="#e04020" stroke-width="0.90" stroke-opacity="0.70" stroke-linecap="round" stroke-linejoin="round" /><path d="M275.72,177.50 A5.83,4.67 0 0 1 287.38,177.50" fill="none" stroke="#20c0ff" stroke-width="1.10" stroke-opacity="0.70" stroke-linecap="round" stroke-linejoin="round" /><path d="M285.29,177.50 A5.14,4.11 0 0 1 295.57,177.50" fill="none" stroke="#20c0ff" stroke-width="1.10" stroke-opacity="0.70" stroke-linecap="round" stroke-linejoin="round" /><path d="M283.75,177.50 A6.68,6.01 0 0 1 297.11,177.50" fill="none" stroke="#e04020" stroke-width="0.90" stroke-opacity="0.70" stroke-linecap="round" stroke-linejoin="round" /><path d="M293.04,177.50 A5.48,4.38 0 0 1 303.99,177.50" fill="none" stroke="#20c0ff" stroke-width="1.10" stroke-opacity="0.70" stroke-linecap="round" stroke-linejoin="round" /><path d="M306.22,177.50 A4.72,3.77 0 0 1 315.65,177.50" fill="none" stroke="#20c0ff" stroke-width="1.10" stroke-opacity="0.70" stroke-linecap="round" stroke-linejoin="round" /><path d="M304.80,177.50 A6.13,5.52 0 0 1 317.06,177.50" fill="none" stroke="#e04020" stroke-width="0.90" stroke-opacity="0.70" stroke-linecap="round" stroke-linejoin="round" /><path d="M316.73,177.50 A5.13,4.10 0 0 1 326.98,177.50" fill="none" stroke="#20c0ff" stroke-width="1.10" stroke-opacity="0.70" stroke-linecap="round" stroke-linejoin="round" /><path d="M325.06,177.50 A4.65,3.72 0 0 1 334.35,177.50" fill="none" stroke="#20c0ff" stroke-width="1.10" stroke-opacity="0.70" stroke-linecap="round" stroke-linejoin="round" /><path d="M323.66,177.50 A6.04,5.44 0 0 1 335.75,177.50" fill="none" stroke="#e04020" stroke-width="0.90" stroke-opacity="0.70" stroke-linecap="round" stroke-linejoin="round" /><path d="M336.45,177.50 A6.40,5.12 0 0 1 349.26,177.50" fill="none" stroke="#20c0ff" stroke-width="1.10" stroke-opacity="0.70" stroke-linecap="round" stroke-linejoin="round" /><path d="M346.36,177.50 A6.09,4.88 0 0 1 358.55,177.50" fill="none" stroke="#20c0ff" stroke-width="1.10" stroke-opacity="0.70" stroke-linecap="round" stroke-linejoin="round" /><path d="M344.53,177.50 A7.92,7.13 0 0 1 360.38,177.50" fill="none" stroke="#e04020" stroke-width="0.90" stroke-opacity="0.70" stroke-linecap="round" stroke-linejoin="round" /><path d="M238.00,178.00 C240.00,177.33 244.10,175.33 250.00,174.00 C255.90,172.67 265.60,171.37 273.40,170.00 C281.20,168.63 289.08,167.17 296.80,165.80 C304.52,164.43 315.88,162.47 319.70,161.80" fill="none" stroke="#e83010" stroke-width="1.00" stroke-opacity="0.90" stroke-linecap="round" stroke-linejoin="round" /><path d="M319.70,161.60 C322.20,162.17 331.03,163.65 334.70,165.00 C338.37,166.35 340.15,167.70 341.70,169.70 C343.25,171.70 343.62,175.78 344.00,177.00" fill="none" stroke="#e04020" stroke-width="1.00" stroke-opacity="0.85" stroke-linecap="round" stroke-linejoin="round" /><path d="M344.00,177.00 C344.33,175.00 344.67,167.67 346.00,165.00 C347.33,162.33 350.33,161.75 352.00,161.00 C353.67,160.25 355.33,160.58 356.00,160.50" fill="none" stroke="#e04020" stroke-width="0.90" stroke-opacity="0.80" stroke-linecap="round" stroke-linejoin="round" /></g><g clip-path="url(#c2)"><g clip-path="url(#d3c)"><use href="#d3" fill="#0836f2"/><use href="#d3" fill="none" stroke="#0a8cff" stroke-width="11" stroke-opacity="0.5" filter="url(#bl3)"/><g filter="url(#bl2)"><use href="#d3" transform="translate(398.00,178.00) scale(0.9095,0.9412) translate(-398.00,-178.00)" fill="none" stroke="#00c9ff" stroke-width="2.50" stroke-opacity="0.67" vector-effect="non-scaling-stroke"/><use href="#d3" transform="translate(398.00,178.00) scale(0.8381,0.8948) translate(-398.00,-178.00)" fill="none" stroke="#00ceff" stroke-width="2.50" stroke-opacity="0.88" vector-effect="non-scaling-stroke"/><use href="#d3" transform="translate(398.00,178.00) scale(0.7405,0.8314) translate(-398.00,-178.00)" fill="none" stroke="#00bbff" stroke-width="4.00" stroke-opacity="0.67" vector-effect="non-scaling-stroke"/><use href="#d3" transform="translate(398.00,178.00) scale(0.6526,0.7742) translate(-398.00,-178.00)" fill="none" stroke="#00c7ff" stroke-width="2.50" stroke-opacity="0.89" vector-effect="non-scaling-stroke"/><use href="#d3" transform="translate(398.00,178.00) scale(0.5973,0.7383) translate(-398.00,-178.00)" fill="none" stroke="#00caff" stroke-width="2.50" stroke-opacity="0.79" vector-effect="non-scaling-stroke"/><use href="#d3" transform="translate(398.00,178.00) scale(0.5040,0.6776) translate(-398.00,-178.00)" fill="none" stroke="#00d4ff" stroke-width="2.50" stroke-opacity="0.79" vector-effect="non-scaling-stroke"/><use href="#d3" transform="translate(398.00,178.00) scale(0.4093,0.6160) translate(-398.00,-178.00)" fill="none" stroke="#00b6ff" stroke-width="2.50" stroke-opacity="0.79" vector-effect="non-scaling-stroke"/><use href="#d3" transform="translate(398.00,178.00) scale(0.3484,0.5765) translate(-398.00,-178.00)" fill="none" stroke="#00c0ff" stroke-width="2.50" stroke-opacity="0.80" vector-effect="non-scaling-stroke"/><use href="#d3" transform="translate(398.00,178.00) scale(0.2705,0.5258) translate(-398.00,-178.00)" fill="none" stroke="#00aaff" stroke-width="2.50" stroke-opacity="0.79" vector-effect="non-scaling-stroke"/><use href="#d3" transform="translate(398.00,178.00) scale(0.1877,0.4720) translate(-398.00,-178.00)" fill="none" stroke="#00abff" stroke-width="4.00" stroke-opacity="0.84" vector-effect="non-scaling-stroke"/><use href="#d3" transform="translate(398.00,178.00) scale(0.0983,0.4139) translate(-398.00,-178.00)" fill="none" stroke="#00bcff" stroke-width="3.50" stroke-opacity="0.72" vector-effect="non-scaling-stroke"/></g><g filter="url(#bl)"><use href="#d3" transform="translate(398.00,178.00) scale(0.8519,0.9037) translate(-398.00,-178.00)" fill="none" stroke="#00eaff" stroke-width="1.40" stroke-opacity="0.83" vector-effect="non-scaling-stroke"/><use href="#d3" transform="translate(398.00,178.00) scale(0.7415,0.8320) translate(-398.00,-178.00)" fill="none" stroke="#00e0ff" stroke-width="0.90" stroke-opacity="0.75" vector-effect="non-scaling-stroke"/><use href="#d3" transform="translate(398.00,178.00) scale(0.6177,0.7515) translate(-398.00,-178.00)" fill="none" stroke="#00d8ff" stroke-width="1.10" stroke-opacity="0.81" vector-effect="non-scaling-stroke"/><use href="#d3" transform="translate(398.00,178.00) scale(0.5018,0.6762) translate(-398.00,-178.00)" fill="none" stroke="#00edff" stroke-width="1.10" stroke-opacity="0.90" vector-effect="non-scaling-stroke"/><use href="#d3" transform="translate(398.00,178.00) scale(0.3333,0.5666) translate(-398.00,-178.00)" fill="none" stroke="#00eaff" stroke-width="0.90" stroke-opacity="0.92" vector-effect="non-scaling-stroke"/><use href="#d3" transform="translate(398.00,178.00) scale(0.2467,0.5103) translate(-398.00,-178.00)" fill="none" stroke="#00d1ff" stroke-width="1.10" stroke-opacity="0.64" vector-effect="non-scaling-stroke"/><use href="#d3" transform="translate(398.00,178.00) scale(0.1352,0.4379) translate(-398.00,-178.00)" fill="none" stroke="#00cdff" stroke-width="0.90" stroke-opacity="0.65" vector-effect="non-scaling-stroke"/></g><rect x="440.0" y="0" width="89.0" height="372" fill="url(#b3)"/><ellipse cx="423.00" cy="110.00" rx="54.00" ry="48.00" fill="url(#k3)" transform="rotate(0.0 423.00 110.00)"/><path d="M382.40,179.00 C380.08,175.42 371.23,164.83 368.50,157.50 C365.77,150.17 365.83,141.75 366.00,135.00 C366.17,128.25 368.63,120.92 369.50,117.00 C370.37,113.08 370.12,114.03 371.20,111.50 C372.28,108.97 374.12,105.17 376.00,101.80 C377.88,98.43 380.07,94.67 382.50,91.30 C384.93,87.93 387.63,84.57 390.60,81.60 C393.57,78.63 396.82,75.92 400.30,73.50 C403.78,71.08 407.47,68.85 411.50,67.10 C415.53,65.35 419.92,63.93 424.50,63.00 C429.08,62.07 434.95,61.73 439.00,61.50 C443.05,61.27 444.03,60.80 448.80,61.60 C453.57,62.40 461.95,63.95 467.60,66.30 C473.25,68.65 478.30,72.25 482.70,75.70 C487.10,79.15 490.72,82.92 494.00,87.00 C497.28,91.08 500.37,96.12 502.40,100.20 C504.43,104.28 505.30,107.70 506.20,111.50 C507.10,115.30 507.37,119.75 507.80,123.00 C508.23,126.25 508.53,128.50 508.80,131.00 C509.07,133.50 509.22,135.50 509.40,138.00 C509.58,140.50 509.93,143.42 509.90,146.00 C509.87,148.58 510.02,151.07 509.20,153.50 C508.38,155.93 507.50,159.07 505.00,160.60 C502.50,162.13 498.37,161.98 494.20,162.70 C490.03,163.42 486.47,163.82 480.00,164.90 C473.53,165.98 463.73,167.77 455.40,169.20 C447.07,170.63 436.73,171.87 430.00,173.50 C423.27,175.13 417.50,178.08 415.00,179.00 Z" fill="none" stroke="#10c0ff" stroke-width="2.60" stroke-opacity="0.90" stroke-linecap="round" stroke-linejoin="round" /><path d="M382.40,179.00 C380.08,175.42 371.23,164.83 368.50,157.50 C365.77,150.17 365.83,141.75 366.00,135.00 C366.17,128.25 368.63,120.92 369.50,117.00 C370.37,113.08 370.12,114.03 371.20,111.50 C372.28,108.97 374.12,105.17 376.00,101.80 C377.88,98.43 380.07,94.67 382.50,91.30 C384.93,87.93 387.63,84.57 390.60,81.60 C393.57,78.63 396.82,75.92 400.30,73.50 C403.78,71.08 407.47,68.85 411.50,67.10 C415.53,65.35 419.92,63.93 424.50,63.00 C429.08,62.07 434.95,61.73 439.00,61.50 C443.05,61.27 444.03,60.80 448.80,61.60 C453.57,62.40 461.95,63.95 467.60,66.30 C473.25,68.65 478.30,72.25 482.70,75.70 C487.10,79.15 490.72,82.92 494.00,87.00 C497.28,91.08 500.37,96.12 502.40,100.20 C504.43,104.28 505.30,107.70 506.20,111.50 C507.10,115.30 507.37,119.75 507.80,123.00 C508.23,126.25 508.53,128.50 508.80,131.00 C509.07,133.50 509.22,135.50 509.40,138.00 C509.58,140.50 509.93,143.42 509.90,146.00 C509.87,148.58 510.02,151.07 509.20,153.50 C508.38,155.93 507.50,159.07 505.00,160.60 C502.50,162.13 498.37,161.98 494.20,162.70 C490.03,163.42 486.47,163.82 480.00,164.90 C473.53,165.98 463.73,167.77 455.40,169.20 C447.07,170.63 436.73,171.87 430.00,173.50 C423.27,175.13 417.50,178.08 415.00,179.00 Z" fill="none" stroke="#40e0ff" stroke-width="0.90" stroke-opacity="0.90" stroke-linecap="round" stroke-linejoin="round" /><path d="M505.00,110.00 C505.50,113.33 507.58,123.33 508.00,130.00 C508.42,136.67 508.33,145.33 507.50,150.00 C506.67,154.67 505.25,156.25 503.00,158.00 C500.75,159.75 497.83,159.70 494.00,160.50 C490.17,161.30 486.43,161.68 480.00,162.80 C473.57,163.92 463.73,165.75 455.40,167.20 C447.07,168.65 436.57,169.87 430.00,171.50 C423.43,173.13 418.33,176.08 416.00,177.00" fill="none" stroke="#30e0ff" stroke-width="4.00" stroke-opacity="0.55" stroke-linecap="round" stroke-linejoin="round" /><path d="M508.00,145.00 C507.75,146.83 507.83,153.45 506.50,156.00 C505.17,158.55 504.42,159.08 500.00,160.30 C495.58,161.52 487.43,162.05 480.00,163.30 C472.57,164.55 463.73,166.35 455.40,167.80 C447.07,169.25 436.57,170.38 430.00,172.00 C423.43,173.62 418.33,176.58 416.00,177.50" fill="none" stroke="#50ff40" stroke-width="1.80" stroke-opacity="0.85" stroke-linecap="round" stroke-linejoin="round" /></g><ellipse cx="408.00" cy="152.00" rx="18.00" ry="30.00" fill="url(#g3)"/><path d="M396.00,178.00 C396.47,174.21 397.89,162.48 398.80,155.23 C399.71,147.98 399.61,139.12 401.44,134.48 C403.27,129.85 406.87,127.40 409.80,127.40 C412.73,127.40 417.02,129.85 419.04,134.48 C421.06,139.12 421.91,147.98 421.90,155.23 C421.89,162.48 419.48,174.21 419.00,178.00" fill="none" stroke="#40e8ff" stroke-width="1.40" stroke-opacity="0.85" stroke-linecap="round" stroke-linejoin="round" /><path d="M393.50,178.00 C393.72,173.68 393.94,160.34 394.80,152.08 C395.66,143.82 395.97,133.74 398.64,128.46 C401.31,123.18 406.53,120.40 410.80,120.40 C415.07,120.40 421.31,123.18 424.24,128.46 C427.17,133.74 428.61,143.82 428.40,152.08 C428.19,160.34 423.90,173.68 423.00,178.00" fill="none" stroke="#28c8ff" stroke-width="1.40" stroke-opacity="0.70" stroke-linecap="round" stroke-linejoin="round" /><path d="M391.00,178.00 C390.97,173.16 389.99,158.19 390.80,148.93 C391.61,139.67 392.34,128.37 395.84,122.44 C399.34,116.52 406.20,113.40 411.80,113.40 C417.40,113.40 425.59,116.52 429.44,122.44 C433.29,128.37 435.31,139.67 434.90,148.93 C434.49,158.19 428.32,173.16 427.00,178.00" fill="none" stroke="#20a8ff" stroke-width="1.40" stroke-opacity="0.55" stroke-linecap="round" stroke-linejoin="round" /><path d="M414.40,132.80 C413.33,135.08 410.13,141.47 408.00,146.50 C405.87,151.53 402.97,158.08 401.60,163.00 C400.23,167.92 400.10,173.83 399.80,176.00" fill="none" stroke="#40e040" stroke-width="1.10" stroke-opacity="0.90" stroke-linecap="round" stroke-linejoin="round" /><path d="M411.70,152.00 C410.63,152.62 407.58,154.20 405.30,155.70 C403.02,157.20 399.38,157.62 398.00,161.00 C396.62,164.38 397.17,173.50 397.00,176.00" fill="none" stroke="#e08020" stroke-width="1.00" stroke-opacity="0.90" stroke-linecap="round" stroke-linejoin="round" /><path d="M408.00,159.00 C408.67,158.75 411.33,157.75 412.00,157.50" fill="none" stroke="#ffffff" stroke-width="1.80" stroke-opacity="0.90" stroke-linecap="round" stroke-linejoin="round" /><path d="M509.20,136.00 C509.33,137.00 508.93,140.03 510.00,142.00 C511.07,143.97 513.48,146.23 515.60,147.80 C517.72,149.37 519.80,150.20 522.70,151.40 C525.60,152.60 531.28,154.40 533.00,155.00 L533,157 L509.2,153.5 Z" fill="#60ff30" fill-opacity="1.00" /><path d="M510.00,141.00 C510.93,142.00 513.48,145.40 515.60,147.00 C517.72,148.60 519.80,149.37 522.70,150.60 C525.60,151.83 531.28,153.77 533.00,154.40" fill="none" stroke="#f0f020" stroke-width="1.40" stroke-opacity="0.90" stroke-linecap="round" stroke-linejoin="round" /><path d="M512.00,150.00 C513.33,150.42 517.33,151.75 520.00,152.50 C522.67,153.25 528.00,154.25 528.00,154.50 C528.00,154.75 521.33,154.08 520.00,154.00 Z" fill="#20e0ff" fill-opacity="0.70" /><path d="M522.70,149.50 C523.58,149.17 526.28,147.92 528.00,147.50 C529.72,147.08 532.17,146.25 533.00,147.00 C533.83,147.75 533.00,151.17 533.00,152.00 Z" fill="#60ff30" fill-opacity="0.90" /><path d="M418.00,178.00 C420.00,177.25 423.77,174.97 430.00,173.50 C436.23,172.03 447.07,170.63 455.40,169.20 C463.73,167.77 473.53,165.98 480.00,164.90 C486.47,163.82 490.03,163.42 494.20,162.70 C498.37,161.98 502.50,162.13 505.00,160.60 C507.50,159.07 508.50,154.68 509.20,153.50 L509.20,153.50 C511.00,153.67 516.43,154.15 520.00,154.50 C523.57,154.85 528.27,155.35 530.60,155.60 C532.93,155.85 533.43,155.93 534.00,156.00 L534,180 L418,180 Z" fill="#0a36f2" fill-opacity="1.00" /><path d="M509.00,158.00 C510.83,158.08 515.83,158.25 520.00,158.50 C524.17,158.75 531.67,159.33 534.00,159.50" fill="none" stroke="#20d8ff" stroke-width="2.20" stroke-opacity="0.70" stroke-linecap="round" stroke-linejoin="round" /><path d="M423.25,178.00 A4.34,3.47 0 0 1 431.93,178.00" fill="none" stroke="#20c0ff" stroke-width="1.10" stroke-opacity="0.70" stroke-linecap="round" stroke-linejoin="round" /><path d="M421.95,178.00 A5.65,5.08 0 0 1 433.24,178.00" fill="none" stroke="#e04020" stroke-width="0.90" stroke-opacity="0.70" stroke-linecap="round" stroke-linejoin="round" /><path d="M432.56,178.00 A5.64,4.51 0 0 1 443.84,178.00" fill="none" stroke="#20c0ff" stroke-width="1.10" stroke-opacity="0.70" stroke-linecap="round" stroke-linejoin="round" /><path d="M441.92,178.00 A4.34,3.47 0 0 1 450.61,178.00" fill="none" stroke="#20c0ff" stroke-width="1.10" stroke-opacity="0.70" stroke-linecap="round" stroke-linejoin="round" /><path d="M440.62,178.00 A5.65,5.08 0 0 1 451.91,178.00" fill="none" stroke="#e04020" stroke-width="0.90" stroke-opacity="0.70" stroke-linecap="round" stroke-linejoin="round" /><path d="M449.91,178.00 A5.81,4.65 0 0 1 461.53,178.00" fill="none" stroke="#20c0ff" stroke-width="1.10" stroke-opacity="0.70" stroke-linecap="round" stroke-linejoin="round" /><path d="M458.70,178.00 A5.77,4.62 0 0 1 470.23,178.00" fill="none" stroke="#20c0ff" stroke-width="1.10" stroke-opacity="0.70" stroke-linecap="round" stroke-linejoin="round" /><path d="M456.96,178.00 A7.50,6.75 0 0 1 471.96,178.00" fill="none" stroke="#e04020" stroke-width="0.90" stroke-opacity="0.70" stroke-linecap="round" stroke-linejoin="round" /><path d="M471.21,178.00 A4.40,3.52 0 0 1 480.00,178.00" fill="none" stroke="#20c0ff" stroke-width="1.10" stroke-opacity="0.70" stroke-linecap="round" stroke-linejoin="round" /><path d="M479.08,178.00 A5.10,4.08 0 0 1 489.29,178.00" fill="none" stroke="#20c0ff" stroke-width="1.10" stroke-opacity="0.70" stroke-linecap="round" stroke-linejoin="round" /><path d="M477.55,178.00 A6.64,5.97 0 0 1 490.82,178.00" fill="none" stroke="#e04020" stroke-width="0.90" stroke-opacity="0.70" stroke-linecap="round" stroke-linejoin="round" /><path d="M486.43,178.00 A6.35,5.08 0 0 1 499.13,178.00" fill="none" stroke="#20c0ff" stroke-width="1.10" stroke-opacity="0.70" stroke-linecap="round" stroke-linejoin="round" /><path d="M496.45,178.00 A4.13,3.31 0 0 1 504.71,178.00" fill="none" stroke="#20c0ff" stroke-width="1.10" stroke-opacity="0.70" stroke-linecap="round" stroke-linejoin="round" /><path d="M495.21,178.00 A5.37,4.84 0 0 1 505.95,178.00" fill="none" stroke="#e04020" stroke-width="0.90" stroke-opacity="0.70" stroke-linecap="round" stroke-linejoin="round" /><path d="M508.05,178.00 A5.00,4.00 0 0 1 518.05,178.00" fill="none" stroke="#20c0ff" stroke-width="1.10" stroke-opacity="0.70" stroke-linecap="round" stroke-linejoin="round" /><path d="M514.33,178.00 A4.84,3.87 0 0 1 524.01,178.00" fill="none" stroke="#20c0ff" stroke-width="1.10" stroke-opacity="0.70" stroke-linecap="round" stroke-linejoin="round" /><path d="M512.88,178.00 A6.29,5.66 0 0 1 525.46,178.00" fill="none" stroke="#e04020" stroke-width="0.90" stroke-opacity="0.70" stroke-linecap="round" stroke-linejoin="round" /><path d="M522.66,178.00 A6.26,5.01 0 0 1 535.17,178.00" fill="none" stroke="#20c0ff" stroke-width="1.10" stroke-opacity="0.70" stroke-linecap="round" stroke-linejoin="round" /><path d="M418.00,178.00 C420.00,177.25 423.77,174.97 430.00,173.50 C436.23,172.03 447.07,170.63 455.40,169.20 C463.73,167.77 473.53,165.98 480.00,164.90 C486.47,163.82 490.03,163.42 494.20,162.70 C498.37,161.98 502.50,162.13 505.00,160.60 C507.50,159.07 508.50,154.68 509.20,153.50" fill="none" stroke="#e83010" stroke-width="1.00" stroke-opacity="0.90" stroke-linecap="round" stroke-linejoin="round" /><path d="M509.20,153.50 C511.00,153.67 516.43,154.15 520.00,154.50 C523.57,154.85 528.27,155.35 530.60,155.60 C532.93,155.85 533.43,155.93 534.00,156.00" fill="none" stroke="#e83010" stroke-width="1.00" stroke-opacity="0.85" stroke-linecap="round" stroke-linejoin="round" /><path d="M509.20,137.80 C509.33,139.00 510.00,142.38 510.00,145.00 C510.00,147.62 509.33,152.08 509.20,153.50" fill="none" stroke="#e83010" stroke-width="1.00" stroke-opacity="0.85" stroke-linecap="round" stroke-linejoin="round" /><path d="M505.00,160.60 C506.53,161.55 511.95,164.87 514.20,166.30 C516.45,167.73 517.20,167.42 518.50,169.20 C519.80,170.98 521.42,175.70 522.00,177.00" fill="none" stroke="#e83010" stroke-width="0.90" stroke-opacity="0.85" stroke-linecap="round" stroke-linejoin="round" /><path d="M505.00,160.60 C504.40,161.78 502.95,165.32 501.40,167.70 C499.85,170.08 496.93,173.18 495.70,174.90 C494.47,176.62 494.28,177.48 494.00,178.00" fill="none" stroke="#e83010" stroke-width="0.90" stroke-opacity="0.85" stroke-linecap="round" stroke-linejoin="round" /><path d="M524.00,177.00 C524.00,175.17 523.17,168.67 524.00,166.00 C524.83,163.33 527.33,162.00 529.00,161.00 C530.67,160.00 533.17,160.17 534.00,160.00" fill="none" stroke="#e04020" stroke-width="0.90" stroke-opacity="0.80" stroke-linecap="round" stroke-linejoin="round" /><path d="M460.00,167.50 C461.00,167.42 464.00,166.92 466.00,167.00 C468.00,167.08 471.00,167.83 472.00,168.00" fill="none" stroke="#ffffff" stroke-width="1.60" stroke-opacity="0.90" stroke-linecap="round" stroke-linejoin="round" /></g><g clip-path="url(#c3)"><g clip-path="url(#d4c)"><use href="#d4" fill="#0836f2"/><use href="#d4" fill="none" stroke="#0a8cff" stroke-width="11" stroke-opacity="0.5" filter="url(#bl3)"/><g filter="url(#bl2)"><use href="#d4" transform="translate(579.00,178.00) scale(0.9164,0.9456) translate(-579.00,-178.00)" fill="none" stroke="#00d1ff" stroke-width="3.00" stroke-opacity="0.70" vector-effect="non-scaling-stroke"/><use href="#d4" transform="translate(579.00,178.00) scale(0.8450,0.8993) translate(-579.00,-178.00)" fill="none" stroke="#00cdff" stroke-width="4.00" stroke-opacity="0.87" vector-effect="non-scaling-stroke"/><use href="#d4" transform="translate(579.00,178.00) scale(0.7340,0.8271) translate(-579.00,-178.00)" fill="none" stroke="#00cfff" stroke-width="2.50" stroke-opacity="0.83" vector-effect="non-scaling-stroke"/><use href="#d4" transform="translate(579.00,178.00) scale(0.6565,0.7767) translate(-579.00,-178.00)" fill="none" stroke="#00daff" stroke-width="4.00" stroke-opacity="0.69" vector-effect="non-scaling-stroke"/><use href="#d4" transform="translate(579.00,178.00) scale(0.5780,0.7257) translate(-579.00,-178.00)" fill="none" stroke="#00b1ff" stroke-width="2.50" stroke-opacity="0.84" vector-effect="non-scaling-stroke"/><use href="#d4" transform="translate(579.00,178.00) scale(0.5034,0.6772) translate(-579.00,-178.00)" fill="none" stroke="#00ccff" stroke-width="2.50" stroke-opacity="0.88" vector-effect="non-scaling-stroke"/><use href="#d4" transform="translate(579.00,178.00) scale(0.4128,0.6183) translate(-579.00,-178.00)" fill="none" stroke="#00acff" stroke-width="4.00" stroke-opacity="0.87" vector-effect="non-scaling-stroke"/><use href="#d4" transform="translate(579.00,178.00) scale(0.3588,0.5832) translate(-579.00,-178.00)" fill="none" stroke="#00cbff" stroke-width="4.00" stroke-opacity="0.72" vector-effect="non-scaling-stroke"/><use href="#d4" transform="translate(579.00,178.00) scale(0.2788,0.5312) translate(-579.00,-178.00)" fill="none" stroke="#00a2ff" stroke-width="2.50" stroke-opacity="0.87" vector-effect="non-scaling-stroke"/><use href="#d4" transform="translate(579.00,178.00) scale(0.1600,0.4540) translate(-579.00,-178.00)" fill="none" stroke="#00a3ff" stroke-width="4.00" stroke-opacity="0.68" vector-effect="non-scaling-stroke"/><use href="#d4" transform="translate(579.00,178.00) scale(0.0871,0.4066) translate(-579.00,-178.00)" fill="none" stroke="#00b1ff" stroke-width="2.50" stroke-opacity="0.89" vector-effect="non-scaling-stroke"/></g><g filter="url(#bl)"><use href="#d4" transform="translate(579.00,178.00) scale(0.8544,0.9054) translate(-579.00,-178.00)" fill="none" stroke="#00e7ff" stroke-width="1.40" stroke-opacity="0.62" vector-effect="non-scaling-stroke"/><use href="#d4" transform="translate(579.00,178.00) scale(0.7218,0.8192) translate(-579.00,-178.00)" fill="none" stroke="#00e5ff" stroke-width="1.10" stroke-opacity="0.80" vector-effect="non-scaling-stroke"/><use href="#d4" transform="translate(579.00,178.00) scale(0.6157,0.7502) translate(-579.00,-178.00)" fill="none" stroke="#00ecff" stroke-width="1.10" stroke-opacity="0.78" vector-effect="non-scaling-stroke"/><use href="#d4" transform="translate(579.00,178.00) scale(0.4802,0.6621) translate(-579.00,-178.00)" fill="none" stroke="#00e6ff" stroke-width="1.10" stroke-opacity="0.91" vector-effect="non-scaling-stroke"/><use href="#d4" transform="translate(579.00,178.00) scale(0.3609,0.5846) translate(-579.00,-178.00)" fill="none" stroke="#00dfff" stroke-width="0.90" stroke-opacity="0.78" vector-effect="non-scaling-stroke"/><use href="#d4" transform="translate(579.00,178.00) scale(0.2385,0.5050) translate(-579.00,-178.00)" fill="none" stroke="#00cdff" stroke-width="1.10" stroke-opacity="0.82" vector-effect="non-scaling-stroke"/><use href="#d4" transform="translate(579.00,178.00) scale(0.0720,0.3968) translate(-579.00,-178.00)" fill="none" stroke="#00dfff" stroke-width="1.10" stroke-opacity="0.91" vector-effect="non-scaling-stroke"/></g><rect x="622.0" y="0" width="92.0" height="372" fill="url(#b4)"/><ellipse cx="607.00" cy="103.00" rx="56.00" ry="50.00" fill="url(#k4)" transform="rotate(0.0 607.00 103.00)"/><path d="M560.80,179.00 C558.83,176.12 551.47,169.87 549.00,161.70 C546.53,153.53 545.63,139.78 546.00,130.00 C546.37,120.22 549.53,109.10 551.20,103.00 C552.87,96.90 554.12,96.88 556.00,93.40 C557.88,89.92 560.07,85.60 562.50,82.10 C564.93,78.60 567.63,75.35 570.60,72.40 C573.57,69.45 576.53,66.82 580.30,64.40 C584.07,61.98 588.63,59.65 593.20,57.90 C597.77,56.15 602.87,54.83 607.70,53.90 C612.53,52.97 618.68,52.53 622.20,52.30 C625.72,52.07 624.57,51.68 628.80,52.50 C633.03,53.32 641.95,55.00 647.60,57.20 C653.25,59.40 658.30,62.40 662.70,65.70 C667.10,69.00 670.55,73.23 674.00,77.00 C677.45,80.77 680.90,84.22 683.40,88.30 C685.90,92.38 687.58,97.43 689.00,101.50 C690.42,105.57 691.28,109.45 691.90,112.70 C692.52,115.95 692.45,117.73 692.70,121.00 C692.95,124.27 693.13,127.95 693.40,132.30 C693.67,136.65 694.30,143.70 694.30,147.10 C694.30,150.50 693.87,151.00 693.40,152.70 C692.93,154.40 693.98,156.08 691.50,157.30 C689.02,158.52 683.75,159.07 678.50,160.00 C673.25,160.93 664.78,161.80 660.00,162.90 C655.22,164.00 654.82,165.32 649.80,166.60 C644.78,167.88 636.53,169.43 629.90,170.60 C623.27,171.77 615.82,172.20 610.00,173.60 C604.18,175.00 597.50,178.10 595.00,179.00 Z" fill="none" stroke="#10c0ff" stroke-width="2.60" stroke-opacity="0.90" stroke-linecap="round" stroke-linejoin="round" /><path d="M560.80,179.00 C558.83,176.12 551.47,169.87 549.00,161.70 C546.53,153.53 545.63,139.78 546.00,130.00 C546.37,120.22 549.53,109.10 551.20,103.00 C552.87,96.90 554.12,96.88 556.00,93.40 C557.88,89.92 560.07,85.60 562.50,82.10 C564.93,78.60 567.63,75.35 570.60,72.40 C573.57,69.45 576.53,66.82 580.30,64.40 C584.07,61.98 588.63,59.65 593.20,57.90 C597.77,56.15 602.87,54.83 607.70,53.90 C612.53,52.97 618.68,52.53 622.20,52.30 C625.72,52.07 624.57,51.68 628.80,52.50 C633.03,53.32 641.95,55.00 647.60,57.20 C653.25,59.40 658.30,62.40 662.70,65.70 C667.10,69.00 670.55,73.23 674.00,77.00 C677.45,80.77 680.90,84.22 683.40,88.30 C685.90,92.38 687.58,97.43 689.00,101.50 C690.42,105.57 691.28,109.45 691.90,112.70 C692.52,115.95 692.45,117.73 692.70,121.00 C692.95,124.27 693.13,127.95 693.40,132.30 C693.67,136.65 694.30,143.70 694.30,147.10 C694.30,150.50 693.87,151.00 693.40,152.70 C692.93,154.40 693.98,156.08 691.50,157.30 C689.02,158.52 683.75,159.07 678.50,160.00 C673.25,160.93 664.78,161.80 660.00,162.90 C655.22,164.00 654.82,165.32 649.80,166.60 C644.78,167.88 636.53,169.43 629.90,170.60 C623.27,171.77 615.82,172.20 610.00,173.60 C604.18,175.00 597.50,178.10 595.00,179.00 Z" fill="none" stroke="#40e0ff" stroke-width="0.90" stroke-opacity="0.90" stroke-linecap="round" stroke-linejoin="round" /><path d="M688.00,105.00 C688.67,109.17 691.33,122.50 692.00,130.00 C692.67,137.50 692.67,145.67 692.00,150.00 C691.33,154.33 690.25,154.67 688.00,156.00 C685.75,157.33 683.17,157.18 678.50,158.00 C673.83,158.82 664.78,159.80 660.00,160.90 C655.22,162.00 654.82,163.32 649.80,164.60 C644.78,165.88 636.53,167.43 629.90,168.60 C623.27,169.77 615.65,170.20 610.00,171.60 C604.35,173.00 598.33,176.10 596.00,177.00" fill="none" stroke="#30e0ff" stroke-width="4.00" stroke-opacity="0.55" stroke-linecap="round" stroke-linejoin="round" /><path d="M693.00,140.00 C692.67,142.25 692.33,150.57 691.00,153.50 C689.67,156.43 688.50,156.52 685.00,157.60 C681.50,158.68 675.87,158.73 670.00,160.00 C664.13,161.27 656.48,163.67 649.80,165.20 C643.12,166.73 636.53,168.03 629.90,169.20 C623.27,170.37 615.65,170.82 610.00,172.20 C604.35,173.58 598.33,176.62 596.00,177.50" fill="none" stroke="#50ff40" stroke-width="1.80" stroke-opacity="0.85" stroke-linecap="round" stroke-linejoin="round" /></g><ellipse cx="589.00" cy="146.00" rx="20.00" ry="34.00" fill="url(#g4)"/><path d="M577.00,178.00 C577.25,173.43 577.77,159.29 578.50,150.55 C579.23,141.81 579.38,131.13 581.38,125.54 C583.38,119.95 587.30,117.00 590.50,117.00 C593.70,117.00 598.38,119.95 600.58,125.54 C602.78,131.13 603.80,141.81 603.70,150.55 C603.60,159.29 600.62,173.43 600.00,178.00" fill="none" stroke="#40e8ff" stroke-width="1.40" stroke-opacity="0.85" stroke-linecap="round" stroke-linejoin="round" /><path d="M574.50,178.00 C574.50,172.90 573.82,157.15 574.50,147.40 C575.18,137.65 575.75,125.75 578.58,119.52 C581.41,113.29 586.97,110.00 591.50,110.00 C596.03,110.00 602.66,113.29 605.78,119.52 C608.90,125.75 610.50,137.65 610.20,147.40 C609.90,157.15 605.03,172.90 604.00,178.00" fill="none" stroke="#28c8ff" stroke-width="1.40" stroke-opacity="0.70" stroke-linecap="round" stroke-linejoin="round" /><path d="M572.00,178.00 C571.75,172.38 569.87,155.00 570.50,144.25 C571.13,133.50 572.11,120.38 575.78,113.50 C579.45,106.62 586.63,103.00 592.50,103.00 C598.37,103.00 606.95,106.62 610.98,113.50 C615.01,120.38 617.20,133.50 616.70,144.25 C616.20,155.00 609.45,172.38 608.00,178.00" fill="none" stroke="#20a8ff" stroke-width="1.40" stroke-opacity="0.55" stroke-linecap="round" stroke-linejoin="round" /><path d="M599.00,129.80 C597.58,131.57 593.33,136.87 590.50,140.40 C587.67,143.93 584.12,146.03 582.00,151.00 C579.88,155.97 578.13,165.87 577.80,170.20 C577.47,174.53 579.63,175.87 580.00,177.00" fill="none" stroke="#e04020" stroke-width="1.10" stroke-opacity="0.90" stroke-linecap="round" stroke-linejoin="round" /><path d="M575.70,134.00 C576.75,131.88 579.53,124.13 582.00,121.30 C584.47,118.47 587.67,117.00 590.50,117.00 C593.33,117.00 597.58,120.58 599.00,121.30" fill="none" stroke="#e08020" stroke-width="1.00" stroke-opacity="0.90" stroke-linecap="round" stroke-linejoin="round" /><path d="M575.70,134.00 C576.05,136.50 576.58,142.25 577.80,149.00 C579.02,155.75 582.13,170.25 583.00,174.50" fill="none" stroke="#d03020" stroke-width="1.00" stroke-opacity="0.90" stroke-linecap="round" stroke-linejoin="round" /><path d="M591.00,146.00 C591.83,145.00 595.17,141.00 596.00,140.00" fill="none" stroke="#60ff40" stroke-width="1.20" stroke-opacity="0.90" stroke-linecap="round" stroke-linejoin="round" /><path d="M692.00,108.00 C692.55,110.17 694.13,116.67 695.30,121.00 C696.47,125.33 697.47,129.97 699.00,134.00 C700.53,138.03 702.67,142.08 704.50,145.20 C706.33,148.32 708.58,151.07 710.00,152.70 C711.42,154.33 712.50,154.62 713.00,155.00 L713,158 L691.5,157.3 L694.3,147.1 Z" fill="#60ff30" fill-opacity="1.00" /><path d="M694.50,118.00 C695.00,120.33 696.08,127.75 697.50,132.00 C698.92,136.25 701.08,140.33 703.00,143.50 C704.92,146.67 707.33,149.25 709.00,151.00 C710.67,152.75 712.33,153.50 713.00,154.00" fill="none" stroke="#f0f020" stroke-width="1.30" stroke-opacity="0.85" stroke-linecap="round" stroke-linejoin="round" /><path d="M696.00,146.00 C697.17,146.83 700.67,149.50 703.00,151.00 C705.33,152.50 710.50,154.25 710.00,155.00 C709.50,155.75 701.67,155.42 700.00,155.50 Z" fill="#20e0ff" fill-opacity="0.60" /><path d="M598.00,178.50 C600.00,177.68 604.68,174.92 610.00,173.60 C615.32,172.28 623.27,171.77 629.90,170.60 C636.53,169.43 644.78,167.88 649.80,166.60 C654.82,165.32 655.22,164.00 660.00,162.90 C664.78,161.80 673.25,160.93 678.50,160.00 C683.75,159.07 689.33,157.75 691.50,157.30 L691.50,157.30 C693.05,157.30 697.72,157.45 700.80,157.30 C703.88,157.15 707.80,156.58 710.00,156.40 C712.20,156.22 713.33,156.23 714.00,156.20 L714,180 L598,180 Z" fill="#0a36f2" fill-opacity="1.00" /><path d="M692.00,161.00 C693.67,161.00 698.33,161.08 702.00,161.00 C705.67,160.92 712.00,160.58 714.00,160.50" fill="none" stroke="#20d8ff" stroke-width="2.00" stroke-opacity="0.70" stroke-linecap="round" stroke-linejoin="round" /><path d="M604.45,178.50 A4.61,3.69 0 0 1 613.68,178.50" fill="none" stroke="#20c0ff" stroke-width="1.10" stroke-opacity="0.70" stroke-linecap="round" stroke-linejoin="round" /><path d="M603.07,178.50 A5.99,5.40 0 0 1 615.06,178.50" fill="none" stroke="#e04020" stroke-width="0.90" stroke-opacity="0.70" stroke-linecap="round" stroke-linejoin="round" /><path d="M611.13,178.50 A6.16,4.93 0 0 1 623.45,178.50" fill="none" stroke="#20c0ff" stroke-width="1.10" stroke-opacity="0.70" stroke-linecap="round" stroke-linejoin="round" /><path d="M622.37,178.50 A5.65,4.52 0 0 1 633.67,178.50" fill="none" stroke="#20c0ff" stroke-width="1.10" stroke-opacity="0.70" stroke-linecap="round" stroke-linejoin="round" /><path d="M620.67,178.50 A7.35,6.62 0 0 1 635.37,178.50" fill="none" stroke="#e04020" stroke-width="0.90" stroke-opacity="0.70" stroke-linecap="round" stroke-linejoin="round" /><path d="M632.05,178.50 A4.96,3.97 0 0 1 641.96,178.50" fill="none" stroke="#20c0ff" stroke-width="1.10" stroke-opacity="0.70" stroke-linecap="round" stroke-linejoin="round" /><path d="M641.41,178.50 A5.40,4.32 0 0 1 652.20,178.50" fill="none" stroke="#20c0ff" stroke-width="1.10" stroke-opacity="0.70" stroke-linecap="round" stroke-linejoin="round" /><path d="M639.79,178.50 A7.02,6.31 0 0 1 653.82,178.50" fill="none" stroke="#e04020" stroke-width="0.90" stroke-opacity="0.70" stroke-linecap="round" stroke-linejoin="round" /><path d="M650.49,178.50 A5.59,4.47 0 0 1 661.67,178.50" fill="none" stroke="#20c0ff" stroke-width="1.10" stroke-opacity="0.70" stroke-linecap="round" stroke-linejoin="round" /><path d="M660.31,178.50 A5.09,4.07 0 0 1 670.48,178.50" fill="none" stroke="#20c0ff" stroke-width="1.10" stroke-opacity="0.70" stroke-linecap="round" stroke-linejoin="round" /><path d="M658.79,178.50 A6.61,5.95 0 0 1 672.01,178.50" fill="none" stroke="#e04020" stroke-width="0.90" stroke-opacity="0.70" stroke-linecap="round" stroke-linejoin="round" /><path d="M667.32,178.50 A4.43,3.54 0 0 1 676.17,178.50" fill="none" stroke="#20c0ff" stroke-width="1.10" stroke-opacity="0.70" stroke-linecap="round" stroke-linejoin="round" /><path d="M678.63,178.50 A4.47,3.57 0 0 1 687.57,178.50" fill="none" stroke="#20c0ff" stroke-width="1.10" stroke-opacity="0.70" stroke-linecap="round" stroke-linejoin="round" /><path d="M677.29,178.50 A5.81,5.23 0 0 1 688.91,178.50" fill="none" stroke="#e04020" stroke-width="0.90" stroke-opacity="0.70" stroke-linecap="round" stroke-linejoin="round" /><path d="M686.41,178.50 A5.50,4.40 0 0 1 697.41,178.50" fill="none" stroke="#20c0ff" stroke-width="1.10" stroke-opacity="0.70" stroke-linecap="round" stroke-linejoin="round" /><path d="M692.74,178.50 A5.87,4.69 0 0 1 704.48,178.50" fill="none" stroke="#20c0ff" stroke-width="1.10" stroke-opacity="0.70" stroke-linecap="round" stroke-linejoin="round" /><path d="M690.98,178.50 A7.63,6.87 0 0 1 706.24,178.50" fill="none" stroke="#e04020" stroke-width="0.90" stroke-opacity="0.70" stroke-linecap="round" stroke-linejoin="round" /><path d="M701.53,178.50 A6.06,4.84 0 0 1 713.65,178.50" fill="none" stroke="#20c0ff" stroke-width="1.10" stroke-opacity="0.70" stroke-linecap="round" stroke-linejoin="round" /><path d="M598.00,178.50 C600.00,177.68 604.68,174.92 610.00,173.60 C615.32,172.28 623.27,171.77 629.90,170.60 C636.53,169.43 644.78,167.88 649.80,166.60 C654.82,165.32 655.22,164.00 660.00,162.90 C664.78,161.80 673.25,160.93 678.50,160.00 C683.75,159.07 689.33,157.75 691.50,157.30" fill="none" stroke="#e83010" stroke-width="1.00" stroke-opacity="0.90" stroke-linecap="round" stroke-linejoin="round" /><path d="M691.50,157.30 C693.05,157.30 697.72,157.45 700.80,157.30 C703.88,157.15 707.80,156.58 710.00,156.40 C712.20,156.22 713.33,156.23 714.00,156.20" fill="none" stroke="#e83010" stroke-width="1.00" stroke-opacity="0.85" stroke-linecap="round" stroke-linejoin="round" /><path d="M690.60,108.00 C690.92,110.17 692.03,116.95 692.50,121.00 C692.97,125.05 693.10,127.95 693.40,132.30 C693.70,136.65 694.30,143.70 694.30,147.10 C694.30,150.50 693.87,151.00 693.40,152.70 C692.93,154.40 691.82,156.53 691.50,157.30" fill="none" stroke="#e83010" stroke-width="1.00" stroke-opacity="0.90" stroke-linecap="round" stroke-linejoin="round" /><path d="M691.50,157.30 C692.13,158.70 694.05,163.08 695.30,165.70 C696.55,168.32 698.22,170.95 699.00,173.00 C699.78,175.05 699.83,177.17 700.00,178.00" fill="none" stroke="#e83010" stroke-width="0.90" stroke-opacity="0.85" stroke-linecap="round" stroke-linejoin="round" /><path d="M704.00,178.00 C704.17,176.33 704.17,170.67 705.00,168.00 C705.83,165.33 707.50,163.17 709.00,162.00 C710.50,160.83 713.17,161.17 714.00,161.00" fill="none" stroke="#e04020" stroke-width="0.90" stroke-opacity="0.80" stroke-linecap="round" stroke-linejoin="round" /><path d="M630.00,168.50 C631.00,168.42 634.00,167.92 636.00,168.00 C638.00,168.08 641.00,168.83 642.00,169.00" fill="none" stroke="#ffffff" stroke-width="1.60" stroke-opacity="0.90" stroke-linecap="round" stroke-linejoin="round" /></g><g clip-path="url(#c4)"><g clip-path="url(#d5c)"><use href="#d5" fill="#0836f2"/><use href="#d5" fill="none" stroke="#0a8cff" stroke-width="11" stroke-opacity="0.5" filter="url(#bl3)"/><g filter="url(#bl2)"><use href="#d5t" transform="translate(58.00,345.00) scale(1.2374,1.2089) translate(-58.00,-345.00)" fill="none" stroke="#00e0ff" stroke-width="3.00" stroke-opacity="0.81" vector-effect="non-scaling-stroke"/><use href="#d5t" transform="translate(58.00,345.00) scale(1.1717,1.1511) translate(-58.00,-345.00)" fill="none" stroke="#00e6ff" stroke-width="3.00" stroke-opacity="0.68" vector-effect="non-scaling-stroke"/><use href="#d5t" transform="translate(58.00,345.00) scale(1.0778,1.0685) translate(-58.00,-345.00)" fill="none" stroke="#00cfff" stroke-width="3.50" stroke-opacity="0.66" vector-effect="non-scaling-stroke"/><use href="#d5t" transform="translate(58.00,345.00) scale(0.9697,0.9734) translate(-58.00,-345.00)" fill="none" stroke="#00dfff" stroke-width="2.50" stroke-opacity="0.90" vector-effect="non-scaling-stroke"/><use href="#d5t" transform="translate(58.00,345.00) scale(0.9197,0.9294) translate(-58.00,-345.00)" fill="none" stroke="#00c7ff" stroke-width="3.50" stroke-opacity="0.86" vector-effect="non-scaling-stroke"/><use href="#d5t" transform="translate(58.00,345.00) scale(0.8281,0.8488) translate(-58.00,-345.00)" fill="none" stroke="#00e1ff" stroke-width="3.50" stroke-opacity="0.74" vector-effect="non-scaling-stroke"/><use href="#d5t" transform="translate(58.00,345.00) scale(0.7146,0.7488) translate(-58.00,-345.00)" fill="none" stroke="#00dbff" stroke-width="4.00" stroke-opacity="0.82" vector-effect="non-scaling-stroke"/><use href="#d5t" transform="translate(58.00,345.00) scale(0.6618,0.7024) translate(-58.00,-345.00)" fill="none" stroke="#00cfff" stroke-width="2.50" stroke-opacity="0.74" vector-effect="non-scaling-stroke"/><use href="#d5t" transform="translate(58.00,345.00) scale(0.5596,0.6124) translate(-58.00,-345.00)" fill="none" stroke="#00caff" stroke-width="3.50" stroke-opacity="0.82" vector-effect="non-scaling-stroke"/><use href="#d5t" transform="translate(58.00,345.00) scale(0.4705,0.5341) translate(-58.00,-345.00)" fill="none" stroke="#00caff" stroke-width="3.00" stroke-opacity="0.76" vector-effect="non-scaling-stroke"/><use href="#d5t" transform="translate(58.00,345.00) scale(0.3927,0.4656) translate(-58.00,-345.00)" fill="none" stroke="#00bbff" stroke-width="3.50" stroke-opacity="0.70" vector-effect="non-scaling-stroke"/><use href="#d5t" transform="translate(58.00,345.00) scale(0.2950,0.3796) translate(-58.00,-345.00)" fill="none" stroke="#00a6ff" stroke-width="4.00" stroke-opacity="0.72" vector-effect="non-scaling-stroke"/><use href="#d5t" transform="translate(58.00,345.00) scale(0.1955,0.2920) translate(-58.00,-345.00)" fill="none" stroke="#00c0ff" stroke-width="4.00" stroke-opacity="0.79" vector-effect="non-scaling-stroke"/><use href="#d5t" transform="translate(58.00,345.00) scale(0.1234,0.2286) translate(-58.00,-345.00)" fill="none" stroke="#00bbff" stroke-width="3.50" stroke-opacity="0.68" vector-effect="non-scaling-stroke"/></g><g filter="url(#bl)"><use href="#d5t" transform="translate(58.00,345.00) scale(1.2146,1.1889) translate(-58.00,-345.00)" fill="none" stroke="#00f2f8" stroke-width="1.40" stroke-opacity="0.70" vector-effect="non-scaling-stroke"/><use href="#d5t" transform="translate(58.00,345.00) scale(1.1228,1.1081) translate(-58.00,-345.00)" fill="none" stroke="#00e6ff" stroke-width="1.10" stroke-opacity="0.91" vector-effect="non-scaling-stroke"/><use href="#d5t" transform="translate(58.00,345.00) scale(1.0255,1.0225) translate(-58.00,-345.00)" fill="none" stroke="#00e5ff" stroke-width="1.40" stroke-opacity="0.70" vector-effect="non-scaling-stroke"/><use href="#d5t" transform="translate(58.00,345.00) scale(0.9074,0.9185) translate(-58.00,-345.00)" fill="none" stroke="#00e3ff" stroke-width="1.10" stroke-opacity="0.74" vector-effect="non-scaling-stroke"/><use href="#d5t" transform="translate(58.00,345.00) scale(0.7453,0.7759) translate(-58.00,-345.00)" fill="none" stroke="#00f1fb" stroke-width="1.40" stroke-opacity="0.90" vector-effect="non-scaling-stroke"/><use href="#d5t" transform="translate(58.00,345.00) scale(0.6238,0.6689) translate(-58.00,-345.00)" fill="none" stroke="#00daff" stroke-width="1.40" stroke-opacity="0.87" vector-effect="non-scaling-stroke"/><use href="#d5t" transform="translate(58.00,345.00) scale(0.5047,0.5641) translate(-58.00,-345.00)" fill="none" stroke="#00e5ff" stroke-width="1.40" stroke-opacity="0.76" vector-effect="non-scaling-stroke"/><use href="#d5t" transform="translate(58.00,345.00) scale(0.3543,0.4318) translate(-58.00,-345.00)" fill="none" stroke="#00e3ff" stroke-width="1.40" stroke-opacity="0.67" vector-effect="non-scaling-stroke"/><use href="#d5t" transform="translate(58.00,345.00) scale(0.2598,0.3486) translate(-58.00,-345.00)" fill="none" stroke="#00ceff" stroke-width="0.90" stroke-opacity="0.61" vector-effect="non-scaling-stroke"/><use href="#d5t" transform="translate(58.00,345.00) scale(0.1253,0.2302) translate(-58.00,-345.00)" fill="none" stroke="#00e1ff" stroke-width="1.40" stroke-opacity="0.90" vector-effect="non-scaling-stroke"/></g><rect x="118.0" y="0" width="64.0" height="372" fill="url(#b5)"/><ellipse cx="104.00" cy="287.00" rx="46.00" ry="54.00" fill="url(#k5)" transform="rotate(0.0 104.00 287.00)"/><path d="M24.00,363.00 C22.05,360.67 14.63,356.17 12.30,349.00 C9.97,341.83 9.85,329.43 10.00,320.00 C10.15,310.57 12.30,298.43 13.20,292.40 C14.10,286.37 14.13,287.38 15.40,283.80 C16.67,280.22 18.83,275.20 20.80,270.90 C22.77,266.60 24.70,261.93 27.20,258.00 C29.70,254.07 32.57,250.70 35.80,247.30 C39.03,243.90 42.65,240.48 46.60,237.60 C50.55,234.72 54.85,232.15 59.50,230.00 C64.15,227.85 69.48,225.98 74.50,224.70 C79.52,223.42 84.48,222.42 89.60,222.30 C94.72,222.18 99.92,222.53 105.20,224.00 C110.48,225.47 116.27,228.23 121.30,231.10 C126.33,233.97 131.37,237.83 135.40,241.20 C139.43,244.57 142.47,247.93 145.50,251.30 C148.53,254.67 151.23,257.70 153.60,261.40 C155.97,265.10 158.40,268.73 159.70,273.50 C161.00,278.27 161.12,283.08 161.40,290.00 C161.68,296.92 161.43,306.67 161.40,315.00 C161.37,323.33 161.43,332.00 161.20,340.00 C160.97,348.00 160.20,359.17 160.00,363.00 Z" fill="none" stroke="#10c0ff" stroke-width="2.60" stroke-opacity="0.90" stroke-linecap="round" stroke-linejoin="round" /><path d="M24.00,363.00 C22.05,360.67 14.63,356.17 12.30,349.00 C9.97,341.83 9.85,329.43 10.00,320.00 C10.15,310.57 12.30,298.43 13.20,292.40 C14.10,286.37 14.13,287.38 15.40,283.80 C16.67,280.22 18.83,275.20 20.80,270.90 C22.77,266.60 24.70,261.93 27.20,258.00 C29.70,254.07 32.57,250.70 35.80,247.30 C39.03,243.90 42.65,240.48 46.60,237.60 C50.55,234.72 54.85,232.15 59.50,230.00 C64.15,227.85 69.48,225.98 74.50,224.70 C79.52,223.42 84.48,222.42 89.60,222.30 C94.72,222.18 99.92,222.53 105.20,224.00 C110.48,225.47 116.27,228.23 121.30,231.10 C126.33,233.97 131.37,237.83 135.40,241.20 C139.43,244.57 142.47,247.93 145.50,251.30 C148.53,254.67 151.23,257.70 153.60,261.40 C155.97,265.10 158.40,268.73 159.70,273.50 C161.00,278.27 161.12,283.08 161.40,290.00 C161.68,296.92 161.43,306.67 161.40,315.00 C161.37,323.33 161.43,332.00 161.20,340.00 C160.97,348.00 160.20,359.17 160.00,363.00 Z" fill="none" stroke="#40e0ff" stroke-width="0.90" stroke-opacity="0.90" stroke-linecap="round" stroke-linejoin="round" /></g><path d="M161.30,283.00 C161.67,284.50 162.72,289.17 163.50,292.00 C164.28,294.83 165.25,297.00 166.00,300.00 C166.75,303.00 167.33,306.83 168.00,310.00 C168.67,313.17 169.17,316.00 170.00,319.00 C170.83,322.00 171.83,325.67 173.00,328.00 C174.17,330.33 176.33,332.17 177.00,333.00 L177,343 L161,343 L161.3,300 Z" fill="#70f870" fill-opacity="0.85" /><path d="M162.50,290.00 C162.83,292.00 163.75,297.83 164.50,302.00 C165.25,306.17 165.92,310.83 167.00,315.00 C168.08,319.17 169.50,323.67 171.00,327.00 C172.50,330.33 175.17,333.67 176.00,335.00" fill="none" stroke="#e8ff30" stroke-width="1.40" stroke-opacity="0.80" stroke-linecap="round" stroke-linejoin="round" /><path d="M163.00,310.00 C163.50,312.00 164.50,318.00 166.00,322.00 C167.50,326.00 170.17,331.33 172.00,334.00 C173.83,336.67 176.17,337.33 177.00,338.00" fill="none" stroke="#60ff20" stroke-width="2.00" stroke-opacity="0.80" stroke-linecap="round" stroke-linejoin="round" /><g filter="url(#bl2)"><path d="M160.00,300.00 C160.08,303.33 160.50,314.00 160.50,320.00 C160.50,326.00 161.75,332.50 160.00,336.00 C158.25,339.50 153.67,339.83 150.00,341.00 C146.33,342.17 138.67,344.17 138.00,343.00 C137.33,341.83 143.50,337.50 146.00,334.00 C148.50,330.50 151.33,326.83 153.00,322.00 C154.67,317.17 155.50,307.83 156.00,305.00 Z" fill="#60f060" fill-opacity="0.85" /><path d="M158.00,285.00 C158.17,287.50 159.33,294.17 159.00,300.00 C158.67,305.83 157.83,314.17 156.00,320.00 C154.17,325.83 151.50,331.33 148.00,335.00 C144.50,338.67 138.83,340.50 135.00,342.00 C131.17,343.50 124.17,345.33 125.00,344.00 C125.83,342.67 135.83,338.33 140.00,334.00 C144.17,329.67 147.67,324.00 150.00,318.00 C152.33,312.00 153.33,301.33 154.00,298.00 Z" fill="#30e0ff" fill-opacity="0.60" /></g><path d="M148.00,254.50 C149.17,256.25 153.12,261.08 155.00,265.00 C156.88,268.92 158.38,273.83 159.30,278.00 C160.22,282.17 160.25,284.67 160.50,290.00 C160.75,295.33 160.73,302.50 160.80,310.00 C160.87,317.50 160.88,330.83 160.90,335.00" fill="none" stroke="#ff2810" stroke-width="0.90" stroke-opacity="0.95" stroke-linecap="round" stroke-linejoin="round" /><path d="M161.20,333.00 C157.50,334.58 146.37,340.75 139.00,342.50 C131.63,344.25 124.33,342.58 117.00,343.50 C109.67,344.42 102.00,346.58 95.00,348.00 C88.00,349.42 81.67,350.17 75.00,352.00 C68.33,353.83 58.33,357.83 55.00,359.00" fill="none" stroke="#40ff40" stroke-width="1.60" stroke-opacity="0.75" stroke-linecap="round" stroke-linejoin="round" /><path d="M161.20,335.00 C157.50,336.67 146.37,343.17 139.00,345.00 C131.63,346.83 124.33,345.07 117.00,346.00 C109.67,346.93 102.00,349.10 95.00,350.60 C88.00,352.10 81.67,353.10 75.00,355.00 C68.33,356.90 58.33,360.83 55.00,362.00 L55.00,365.00 L161.20,365.00 Z" fill="#0a30f0" fill-opacity="1.00" /><path d="M160.00,342.00 C161.33,341.83 165.17,341.08 168.00,341.00 C170.83,340.92 175.50,341.42 177.00,341.50 L177.00,365.00 L160.00,365.00 Z" fill="#0a30f0" fill-opacity="1.00" /><path d="M58.29,362.50 A5.23,4.19 0 0 1 68.75,362.50" fill="none" stroke="#20c0ff" stroke-width="1.10" stroke-opacity="0.70" stroke-linecap="round" stroke-linejoin="round" /><path d="M56.72,362.50 A6.80,6.12 0 0 1 70.32,362.50" fill="none" stroke="#e04020" stroke-width="0.90" stroke-opacity="0.70" stroke-linecap="round" stroke-linejoin="round" /><path d="M66.33,362.50 A5.96,4.77 0 0 1 78.24,362.50" fill="none" stroke="#20c0ff" stroke-width="1.10" stroke-opacity="0.70" stroke-linecap="round" stroke-linejoin="round" /><path d="M76.31,362.50 A5.35,4.28 0 0 1 87.00,362.50" fill="none" stroke="#20c0ff" stroke-width="1.10" stroke-opacity="0.70" stroke-linecap="round" stroke-linejoin="round" /><path d="M74.70,362.50 A6.95,6.26 0 0 1 88.60,362.50" fill="none" stroke="#e04020" stroke-width="0.90" stroke-opacity="0.70" stroke-linecap="round" stroke-linejoin="round" /><path d="M88.53,362.50 A4.99,4.00 0 0 1 98.52,362.50" fill="none" stroke="#20c0ff" stroke-width="1.10" stroke-opacity="0.70" stroke-linecap="round" stroke-linejoin="round" /><path d="M97.03,362.50 A5.75,4.60 0 0 1 108.53,362.50" fill="none" stroke="#20c0ff" stroke-width="1.10" stroke-opacity="0.70" stroke-linecap="round" stroke-linejoin="round" /><path d="M95.30,362.50 A7.48,6.73 0 0 1 110.26,362.50" fill="none" stroke="#e04020" stroke-width="0.90" stroke-opacity="0.70" stroke-linecap="round" stroke-linejoin="round" /><path d="M104.67,362.50 A5.52,4.42 0 0 1 115.71,362.50" fill="none" stroke="#20c0ff" stroke-width="1.10" stroke-opacity="0.70" stroke-linecap="round" stroke-linejoin="round" /><path d="M114.53,362.50 A4.91,3.93 0 0 1 124.34,362.50" fill="none" stroke="#20c0ff" stroke-width="1.10" stroke-opacity="0.70" stroke-linecap="round" stroke-linejoin="round" /><path d="M113.05,362.50 A6.38,5.74 0 0 1 125.82,362.50" fill="none" stroke="#e04020" stroke-width="0.90" stroke-opacity="0.70" stroke-linecap="round" stroke-linejoin="round" /><path d="M125.16,362.50 A5.01,4.01 0 0 1 135.18,362.50" fill="none" stroke="#20c0ff" stroke-width="1.10" stroke-opacity="0.70" stroke-linecap="round" stroke-linejoin="round" /><path d="M133.18,362.50 A6.03,4.82 0 0 1 145.24,362.50" fill="none" stroke="#20c0ff" stroke-width="1.10" stroke-opacity="0.70" stroke-linecap="round" stroke-linejoin="round" /><path d="M131.37,362.50 A7.84,7.05 0 0 1 147.05,362.50" fill="none" stroke="#e04020" stroke-width="0.90" stroke-opacity="0.70" stroke-linecap="round" stroke-linejoin="round" /><path d="M139.80,362.50 A4.68,3.74 0 0 1 149.15,362.50" fill="none" stroke="#20c0ff" stroke-width="1.10" stroke-opacity="0.70" stroke-linecap="round" stroke-linejoin="round" /><path d="M149.42,362.50 A5.94,4.75 0 0 1 161.31,362.50" fill="none" stroke="#20c0ff" stroke-width="1.10" stroke-opacity="0.70" stroke-linecap="round" stroke-linejoin="round" /><path d="M147.64,362.50 A7.72,6.95 0 0 1 163.09,362.50" fill="none" stroke="#e04020" stroke-width="0.90" stroke-opacity="0.70" stroke-linecap="round" stroke-linejoin="round" /><path d="M162.53,362.50 A7.88,6.31 0 0 1 178.30,362.50" fill="none" stroke="#20c0ff" stroke-width="1.10" stroke-opacity="0.70" stroke-linecap="round" stroke-linejoin="round" /><path d="M160.17,362.50 A10.25,9.22 0 0 1 180.66,362.50" fill="none" stroke="#e04020" stroke-width="0.90" stroke-opacity="0.70" stroke-linecap="round" stroke-linejoin="round" /><path d="M161.20,335.00 C157.50,336.67 146.37,343.17 139.00,345.00 C131.63,346.83 124.33,345.07 117.00,346.00 C109.67,346.93 102.00,349.10 95.00,350.60 C88.00,352.10 81.67,353.10 75.00,355.00 C68.33,356.90 58.33,360.83 55.00,362.00" fill="none" stroke="#ff2810" stroke-width="0.90" stroke-opacity="0.95" stroke-linecap="round" stroke-linejoin="round" /><path d="M161.20,335.00 C162.33,336.00 165.37,339.87 168.00,341.00 C170.63,342.13 175.50,341.67 177.00,341.80" fill="none" stroke="#ff2810" stroke-width="0.90" stroke-opacity="0.95" stroke-linecap="round" stroke-linejoin="round" /><path d="M41.70,362.00 C41.90,359.83 43.32,354.03 42.90,349.00 C42.48,343.97 40.02,337.97 39.20,331.80 C38.38,325.63 38.00,317.35 38.00,312.00 C38.00,306.65 37.77,304.23 39.20,299.70 C40.63,295.17 43.30,288.52 46.60,284.80 C49.90,281.08 54.88,278.42 59.00,277.40 C63.12,276.38 67.60,277.47 71.30,278.70 C75.00,279.93 78.72,282.13 81.20,284.80 C83.68,287.47 85.40,292.00 86.20,294.70 C87.00,297.40 86.03,299.95 86.00,301.00" fill="none" stroke="#30e8ff" stroke-width="2.90" stroke-opacity="0.35" stroke-linecap="round" stroke-linejoin="round" /><path d="M41.70,362.00 C41.90,359.83 43.32,354.03 42.90,349.00 C42.48,343.97 40.02,337.97 39.20,331.80 C38.38,325.63 38.00,317.35 38.00,312.00 C38.00,306.65 37.77,304.23 39.20,299.70 C40.63,295.17 43.30,288.52 46.60,284.80 C49.90,281.08 54.88,278.42 59.00,277.40 C63.12,276.38 67.60,277.47 71.30,278.70 C75.00,279.93 78.72,282.13 81.20,284.80 C83.68,287.47 85.40,292.00 86.20,294.70 C87.00,297.40 86.03,299.95 86.00,301.00" fill="none" stroke="#60ff40" stroke-width="2.10" stroke-opacity="0.65" stroke-linecap="round" stroke-linejoin="round" /><path d="M41.70,362.00 C41.90,359.83 43.32,354.03 42.90,349.00 C42.48,343.97 40.02,337.97 39.20,331.80 C38.38,325.63 38.00,317.35 38.00,312.00 C38.00,306.65 37.77,304.23 39.20,299.70 C40.63,295.17 43.30,288.52 46.60,284.80 C49.90,281.08 54.88,278.42 59.00,277.40 C63.12,276.38 67.60,277.47 71.30,278.70 C75.00,279.93 78.72,282.13 81.20,284.80 C83.68,287.47 85.40,292.00 86.20,294.70 C87.00,297.40 86.03,299.95 86.00,301.00" fill="none" stroke="#ff2810" stroke-width="1.10" stroke-opacity="0.95" stroke-linecap="round" stroke-linejoin="round" /><path d="M84.50,297.00 C84.83,297.67 86.17,300.33 86.50,301.00" fill="none" stroke="#ff2000" stroke-width="2.40" stroke-opacity="0.90" stroke-linecap="round" stroke-linejoin="round" /><path d="M44.00,299.70 C44.83,298.05 46.10,292.28 49.00,289.80 C51.90,287.32 57.27,285.43 61.40,284.80 C65.53,284.17 70.28,284.80 73.80,286.00 C77.32,287.20 81.05,291.00 82.50,292.00" fill="none" stroke="#30e8ff" stroke-width="2.70" stroke-opacity="0.35" stroke-linecap="round" stroke-linejoin="round" /><path d="M44.00,299.70 C44.83,298.05 46.10,292.28 49.00,289.80 C51.90,287.32 57.27,285.43 61.40,284.80 C65.53,284.17 70.28,284.80 73.80,286.00 C77.32,287.20 81.05,291.00 82.50,292.00" fill="none" stroke="#60ff40" stroke-width="1.90" stroke-opacity="0.65" stroke-linecap="round" stroke-linejoin="round" /><path d="M44.00,299.70 C44.83,298.05 46.10,292.28 49.00,289.80 C51.90,287.32 57.27,285.43 61.40,284.80 C65.53,284.17 70.28,284.80 73.80,286.00 C77.32,287.20 81.05,291.00 82.50,292.00" fill="none" stroke="#ff2810" stroke-width="0.90" stroke-opacity="0.95" stroke-linecap="round" stroke-linejoin="round" /><path d="M71.30,302.00 C69.65,302.83 64.28,304.10 61.40,307.00 C58.52,309.90 55.90,316.40 54.00,319.40 C52.10,322.40 50.67,324.07 50.00,325.00" fill="none" stroke="#30e8ff" stroke-width="2.70" stroke-opacity="0.35" stroke-linecap="round" stroke-linejoin="round" /><path d="M71.30,302.00 C69.65,302.83 64.28,304.10 61.40,307.00 C58.52,309.90 55.90,316.40 54.00,319.40 C52.10,322.40 50.67,324.07 50.00,325.00" fill="none" stroke="#60ff40" stroke-width="1.90" stroke-opacity="0.65" stroke-linecap="round" stroke-linejoin="round" /><path d="M71.30,302.00 C69.65,302.83 64.28,304.10 61.40,307.00 C58.52,309.90 55.90,316.40 54.00,319.40 C52.10,322.40 50.67,324.07 50.00,325.00" fill="none" stroke="#ff2810" stroke-width="0.90" stroke-opacity="0.95" stroke-linecap="round" stroke-linejoin="round" /><path d="M61.40,329.30 C59.83,330.75 54.90,335.12 52.00,338.00 C49.10,340.88 45.33,345.17 44.00,346.60" fill="none" stroke="#30e8ff" stroke-width="2.70" stroke-opacity="0.35" stroke-linecap="round" stroke-linejoin="round" /><path d="M61.40,329.30 C59.83,330.75 54.90,335.12 52.00,338.00 C49.10,340.88 45.33,345.17 44.00,346.60" fill="none" stroke="#60ff40" stroke-width="1.90" stroke-opacity="0.65" stroke-linecap="round" stroke-linejoin="round" /><path d="M61.40,329.30 C59.83,330.75 54.90,335.12 52.00,338.00 C49.10,340.88 45.33,345.17 44.00,346.60" fill="none" stroke="#ff2810" stroke-width="0.90" stroke-opacity="0.95" stroke-linecap="round" stroke-linejoin="round" /><path d="M55.00,318.00 C55.50,317.00 56.50,314.00 58.00,312.00 C59.50,310.00 63.00,307.00 64.00,306.00" fill="none" stroke="#30e0ff" stroke-width="2.00" stroke-opacity="0.50" stroke-linecap="round" stroke-linejoin="round" /><path d="M48.00,330.00 C48.33,328.33 48.67,325.00 50.00,320.00 C51.33,315.00 54.00,304.67 56.00,300.00 C58.00,295.33 61.00,293.33 62.00,292.00" fill="none" stroke="#30d0ff" stroke-width="1.50" stroke-opacity="0.50" stroke-linecap="round" stroke-linejoin="round" /><path d="M70.00,290.00 C70.67,291.00 73.00,293.67 74.00,296.00 C75.00,298.33 75.67,302.67 76.00,304.00" fill="none" stroke="#40f0ff" stroke-width="1.80" stroke-opacity="0.60" stroke-linecap="round" stroke-linejoin="round" /></g><g clip-path="url(#c5)"><g clip-path="url(#d6c)"><use href="#d6" fill="#0836f2"/><use href="#d6" fill="none" stroke="#0a8cff" stroke-width="11" stroke-opacity="0.5" filter="url(#bl3)"/><g filter="url(#bl2)"><use href="#d6t" transform="translate(238.00,348.00) scale(1.2010,1.1769) translate(-238.00,-348.00)" fill="none" stroke="#00e4ff" stroke-width="3.50" stroke-opacity="0.72" vector-effect="non-scaling-stroke"/><use href="#d6t" transform="translate(238.00,348.00) scale(1.1352,1.1190) translate(-238.00,-348.00)" fill="none" stroke="#00e1ff" stroke-width="3.50" stroke-opacity="0.68" vector-effect="non-scaling-stroke"/><use href="#d6t" transform="translate(238.00,348.00) scale(1.0238,1.0210) translate(-238.00,-348.00)" fill="none" stroke="#00d5ff" stroke-width="4.00" stroke-opacity="0.71" vector-effect="non-scaling-stroke"/><use href="#d6t" transform="translate(238.00,348.00) scale(0.9686,0.9724) translate(-238.00,-348.00)" fill="none" stroke="#00d2ff" stroke-width="4.00" stroke-opacity="0.68" vector-effect="non-scaling-stroke"/><use href="#d6t" transform="translate(238.00,348.00) scale(0.8938,0.9065) translate(-238.00,-348.00)" fill="none" stroke="#00c8ff" stroke-width="3.00" stroke-opacity="0.69" vector-effect="non-scaling-stroke"/><use href="#d6t" transform="translate(238.00,348.00) scale(0.8238,0.8449) translate(-238.00,-348.00)" fill="none" stroke="#00d4ff" stroke-width="3.00" stroke-opacity="0.73" vector-effect="non-scaling-stroke"/><use href="#d6t" transform="translate(238.00,348.00) scale(0.7197,0.7534) translate(-238.00,-348.00)" fill="none" stroke="#00d4ff" stroke-width="2.50" stroke-opacity="0.73" vector-effect="non-scaling-stroke"/><use href="#d6t" transform="translate(238.00,348.00) scale(0.6406,0.6838) translate(-238.00,-348.00)" fill="none" stroke="#00d9ff" stroke-width="4.00" stroke-opacity="0.81" vector-effect="non-scaling-stroke"/><use href="#d6t" transform="translate(238.00,348.00) scale(0.5875,0.6370) translate(-238.00,-348.00)" fill="none" stroke="#00cdff" stroke-width="4.00" stroke-opacity="0.85" vector-effect="non-scaling-stroke"/><use href="#d6t" transform="translate(238.00,348.00) scale(0.5252,0.5821) translate(-238.00,-348.00)" fill="none" stroke="#00a9ff" stroke-width="3.50" stroke-opacity="0.79" vector-effect="non-scaling-stroke"/><use href="#d6t" transform="translate(238.00,348.00) scale(0.4469,0.5133) translate(-238.00,-348.00)" fill="none" stroke="#00c9ff" stroke-width="2.50" stroke-opacity="0.89" vector-effect="non-scaling-stroke"/><use href="#d6t" transform="translate(238.00,348.00) scale(0.3456,0.4242) translate(-238.00,-348.00)" fill="none" stroke="#00c4ff" stroke-width="4.00" stroke-opacity="0.71" vector-effect="non-scaling-stroke"/><use href="#d6t" transform="translate(238.00,348.00) scale(0.2769,0.3637) translate(-238.00,-348.00)" fill="none" stroke="#00c9ff" stroke-width="3.50" stroke-opacity="0.66" vector-effect="non-scaling-stroke"/><use href="#d6t" transform="translate(238.00,348.00) scale(0.1770,0.2757) translate(-238.00,-348.00)" fill="none" stroke="#009fff" stroke-width="3.00" stroke-opacity="0.71" vector-effect="non-scaling-stroke"/><use href="#d6t" transform="translate(238.00,348.00) scale(0.1111,0.2178) translate(-238.00,-348.00)" fill="none" stroke="#009eff" stroke-width="3.00" stroke-opacity="0.73" vector-effect="non-scaling-stroke"/></g><g filter="url(#bl)"><use href="#d6t" transform="translate(238.00,348.00) scale(1.1832,1.1612) translate(-238.00,-348.00)" fill="none" stroke="#00e1ff" stroke-width="1.10" stroke-opacity="0.90" vector-effect="non-scaling-stroke"/><use href="#d6t" transform="translate(238.00,348.00) scale(1.0958,1.0843) translate(-238.00,-348.00)" fill="none" stroke="#00f0fe" stroke-width="1.40" stroke-opacity="0.78" vector-effect="non-scaling-stroke"/><use href="#d6t" transform="translate(238.00,348.00) scale(0.9883,0.9897) translate(-238.00,-348.00)" fill="none" stroke="#00e6ff" stroke-width="1.40" stroke-opacity="0.61" vector-effect="non-scaling-stroke"/><use href="#d6t" transform="translate(238.00,348.00) scale(0.9068,0.9180) translate(-238.00,-348.00)" fill="none" stroke="#00e7ff" stroke-width="0.90" stroke-opacity="0.75" vector-effect="non-scaling-stroke"/><use href="#d6t" transform="translate(238.00,348.00) scale(0.7772,0.8039) translate(-238.00,-348.00)" fill="none" stroke="#00e4ff" stroke-width="0.90" stroke-opacity="0.85" vector-effect="non-scaling-stroke"/><use href="#d6t" transform="translate(238.00,348.00) scale(0.6690,0.7088) translate(-238.00,-348.00)" fill="none" stroke="#00e7ff" stroke-width="1.40" stroke-opacity="0.92" vector-effect="non-scaling-stroke"/><use href="#d6t" transform="translate(238.00,348.00) scale(0.5288,0.5854) translate(-238.00,-348.00)" fill="none" stroke="#00e8ff" stroke-width="1.10" stroke-opacity="0.93" vector-effect="non-scaling-stroke"/><use href="#d6t" transform="translate(238.00,348.00) scale(0.4690,0.5328) translate(-238.00,-348.00)" fill="none" stroke="#00d7ff" stroke-width="0.90" stroke-opacity="0.81" vector-effect="non-scaling-stroke"/><use href="#d6t" transform="translate(238.00,348.00) scale(0.3087,0.3917) translate(-238.00,-348.00)" fill="none" stroke="#00e1ff" stroke-width="0.90" stroke-opacity="0.67" vector-effect="non-scaling-stroke"/><use href="#d6t" transform="translate(238.00,348.00) scale(0.2172,0.3111) translate(-238.00,-348.00)" fill="none" stroke="#00d9ff" stroke-width="1.10" stroke-opacity="0.71" vector-effect="non-scaling-stroke"/><use href="#d6t" transform="translate(238.00,348.00) scale(0.1119,0.2185) translate(-238.00,-348.00)" fill="none" stroke="#00d4ff" stroke-width="0.90" stroke-opacity="0.85" vector-effect="non-scaling-stroke"/></g><rect x="285.0" y="0" width="85.0" height="372" fill="url(#b6)"/><ellipse cx="256.00" cy="292.00" rx="34.00" ry="40.00" fill="url(#k6b)" transform="rotate(0.0 256.00 292.00)"/><path d="M205.00,363.00 C202.67,359.65 193.67,353.40 191.00,342.90 C188.33,332.40 188.75,311.82 189.00,300.00 C189.25,288.18 191.55,277.90 192.50,272.00 C193.45,266.10 193.55,268.02 194.70,264.60 C195.85,261.18 197.68,255.57 199.40,251.50 C201.12,247.43 202.80,243.97 205.00,240.20 C207.20,236.43 209.77,232.35 212.60,228.90 C215.43,225.45 218.55,222.48 222.00,219.50 C225.45,216.52 229.22,213.67 233.30,211.00 C237.38,208.33 242.05,205.53 246.50,203.50 C250.95,201.47 255.75,199.92 260.00,198.80 C264.25,197.68 267.83,197.02 272.00,196.80 C276.17,196.58 280.95,196.87 285.00,197.50 C289.05,198.13 292.53,199.13 296.30,200.60 C300.07,202.07 303.83,203.93 307.60,206.30 C311.37,208.67 315.45,211.67 318.90,214.80 C322.35,217.93 325.48,221.50 328.30,225.10 C331.12,228.70 333.60,232.63 335.80,236.40 C338.00,240.17 339.93,243.93 341.50,247.70 C343.07,251.47 344.18,255.28 345.20,259.00 C346.22,262.72 346.88,265.67 347.60,270.00 C348.32,274.33 349.05,280.00 349.50,285.00 C349.95,290.00 350.17,294.25 350.30,300.00 C350.43,305.75 350.72,313.78 350.30,319.50 C349.88,325.22 348.42,330.60 347.80,334.30 C347.18,338.00 347.23,336.92 346.60,341.70 C345.97,346.48 344.43,359.45 344.00,363.00 Z" fill="none" stroke="#10c0ff" stroke-width="2.40" stroke-opacity="0.90" stroke-linecap="round" stroke-linejoin="round" /><path d="M205.00,363.00 C202.67,359.65 193.67,353.40 191.00,342.90 C188.33,332.40 188.75,311.82 189.00,300.00 C189.25,288.18 191.55,277.90 192.50,272.00 C193.45,266.10 193.55,268.02 194.70,264.60 C195.85,261.18 197.68,255.57 199.40,251.50 C201.12,247.43 202.80,243.97 205.00,240.20 C207.20,236.43 209.77,232.35 212.60,228.90 C215.43,225.45 218.55,222.48 222.00,219.50 C225.45,216.52 229.22,213.67 233.30,211.00 C237.38,208.33 242.05,205.53 246.50,203.50 C250.95,201.47 255.75,199.92 260.00,198.80 C264.25,197.68 267.83,197.02 272.00,196.80 C276.17,196.58 280.95,196.87 285.00,197.50 C289.05,198.13 292.53,199.13 296.30,200.60 C300.07,202.07 303.83,203.93 307.60,206.30 C311.37,208.67 315.45,211.67 318.90,214.80 C322.35,217.93 325.48,221.50 328.30,225.10 C331.12,228.70 333.60,232.63 335.80,236.40 C338.00,240.17 339.93,243.93 341.50,247.70 C343.07,251.47 344.18,255.28 345.20,259.00 C346.22,262.72 346.88,265.67 347.60,270.00 C348.32,274.33 349.05,280.00 349.50,285.00 C349.95,290.00 350.17,294.25 350.30,300.00 C350.43,305.75 350.72,313.78 350.30,319.50 C349.88,325.22 348.42,330.60 347.80,334.30 C347.18,338.00 347.23,336.92 346.60,341.70 C345.97,346.48 344.43,359.45 344.00,363.00 Z" fill="none" stroke="#40e0ff" stroke-width="0.90" stroke-opacity="0.90" stroke-linecap="round" stroke-linejoin="round" /></g><path d="M238.00,306.00 C237.67,302.50 235.67,291.33 236.00,285.00 C236.33,278.67 237.33,271.83 240.00,268.00 C242.67,264.17 247.67,262.50 252.00,262.00 C256.33,261.50 262.67,262.67 266.00,265.00 C269.33,267.33 271.67,271.50 272.00,276.00 C272.33,280.50 270.33,287.67 268.00,292.00 C265.67,296.33 261.83,299.00 258.00,302.00 C254.17,305.00 247.17,308.67 245.00,310.00 Z" fill="#10a0ff" fill-opacity="0.30" /><path d="M240.00,305.00 C240.50,302.17 241.33,293.00 243.00,288.00 C244.67,283.00 247.17,278.00 250.00,275.00 C252.83,272.00 258.33,270.83 260.00,270.00" fill="none" stroke="#40e8ff" stroke-width="1.10" stroke-opacity="0.60" stroke-linecap="round" stroke-linejoin="round" /><path d="M243.00,304.00 C243.50,301.00 244.33,291.17 246.00,286.00 C247.67,280.83 250.33,275.83 253.00,273.00 C255.67,270.17 260.50,269.67 262.00,269.00" fill="none" stroke="#40e8ff" stroke-width="1.10" stroke-opacity="0.60" stroke-linecap="round" stroke-linejoin="round" /><path d="M246.00,303.00 C246.50,299.83 247.33,289.33 249.00,284.00 C250.67,278.67 253.50,273.67 256.00,271.00 C258.50,268.33 262.67,268.50 264.00,268.00" fill="none" stroke="#40e8ff" stroke-width="1.10" stroke-opacity="0.60" stroke-linecap="round" stroke-linejoin="round" /><path d="M249.00,302.00 C249.50,298.67 250.33,287.50 252.00,282.00 C253.67,276.50 256.67,271.50 259.00,269.00 C261.33,266.50 264.83,267.33 266.00,267.00" fill="none" stroke="#40e8ff" stroke-width="1.10" stroke-opacity="0.60" stroke-linecap="round" stroke-linejoin="round" /><path d="M252.00,301.00 C252.50,297.50 253.33,285.67 255.00,280.00 C256.67,274.33 259.83,269.33 262.00,267.00 C264.17,264.67 267.00,266.17 268.00,266.00" fill="none" stroke="#40e8ff" stroke-width="1.10" stroke-opacity="0.60" stroke-linecap="round" stroke-linejoin="round" /><path d="M294.00,201.00 C296.67,202.33 305.00,205.50 310.00,209.00 C315.00,212.50 320.17,217.50 324.00,222.00 C327.83,226.50 330.33,231.00 333.00,236.00 C335.67,241.00 338.25,247.00 340.00,252.00 C341.75,257.00 342.58,260.50 343.50,266.00 C344.42,271.50 345.08,277.67 345.50,285.00 C345.92,292.33 346.25,302.50 346.00,310.00 C345.75,317.50 344.33,326.67 344.00,330.00" fill="none" stroke="#50ff50" stroke-width="1.10" stroke-opacity="0.70" stroke-linecap="round" stroke-linejoin="round" /><path d="M217.70,340.00 C217.95,334.83 218.45,319.10 219.20,309.00 C219.95,298.90 220.72,287.78 222.20,279.40 C223.68,271.02 225.40,263.88 228.10,258.70 C230.80,253.52 233.23,250.53 238.40,248.30 C243.57,246.07 252.68,245.05 259.10,245.30 C265.52,245.55 271.97,247.08 276.90,249.80 C281.83,252.52 285.75,256.18 288.70,261.60 C291.65,267.02 294.10,274.42 294.60,282.30 C295.10,290.18 293.67,302.00 291.70,308.90 C289.73,315.80 287.25,319.27 282.80,323.70 C278.35,328.13 271.40,332.55 265.00,335.50 C258.60,338.45 250.30,340.15 244.40,341.40 C238.50,342.65 232.07,342.73 229.60,343.00" fill="none" stroke="#30e8ff" stroke-width="2.80" stroke-opacity="0.35" stroke-linecap="round" stroke-linejoin="round" /><path d="M217.70,340.00 C217.95,334.83 218.45,319.10 219.20,309.00 C219.95,298.90 220.72,287.78 222.20,279.40 C223.68,271.02 225.40,263.88 228.10,258.70 C230.80,253.52 233.23,250.53 238.40,248.30 C243.57,246.07 252.68,245.05 259.10,245.30 C265.52,245.55 271.97,247.08 276.90,249.80 C281.83,252.52 285.75,256.18 288.70,261.60 C291.65,267.02 294.10,274.42 294.60,282.30 C295.10,290.18 293.67,302.00 291.70,308.90 C289.73,315.80 287.25,319.27 282.80,323.70 C278.35,328.13 271.40,332.55 265.00,335.50 C258.60,338.45 250.30,340.15 244.40,341.40 C238.50,342.65 232.07,342.73 229.60,343.00" fill="none" stroke="#60ff40" stroke-width="2.00" stroke-opacity="0.65" stroke-linecap="round" stroke-linejoin="round" /><path d="M217.70,340.00 C217.95,334.83 218.45,319.10 219.20,309.00 C219.95,298.90 220.72,287.78 222.20,279.40 C223.68,271.02 225.40,263.88 228.10,258.70 C230.80,253.52 233.23,250.53 238.40,248.30 C243.57,246.07 252.68,245.05 259.10,245.30 C265.52,245.55 271.97,247.08 276.90,249.80 C281.83,252.52 285.75,256.18 288.70,261.60 C291.65,267.02 294.10,274.42 294.60,282.30 C295.10,290.18 293.67,302.00 291.70,308.90 C289.73,315.80 287.25,319.27 282.80,323.70 C278.35,328.13 271.40,332.55 265.00,335.50 C258.60,338.45 250.30,340.15 244.40,341.40 C238.50,342.65 232.07,342.73 229.60,343.00" fill="none" stroke="#ff2810" stroke-width="1.00" stroke-opacity="0.95" stroke-linecap="round" stroke-linejoin="round" /><path d="M215.70,337.80 C215.95,332.63 216.45,316.90 217.20,306.80 C217.95,296.70 218.72,285.58 220.20,277.20 C221.68,268.82 223.40,261.68 226.10,256.50 C228.80,251.32 230.90,248.33 236.40,246.10 C241.90,243.87 252.35,242.85 259.10,243.10 C265.85,243.35 271.97,244.88 276.90,247.60 C281.83,250.32 285.75,253.98 288.70,259.40 C291.65,264.82 294.10,272.22 294.60,280.10 C295.10,287.98 293.67,299.80 291.70,306.70 C289.73,313.60 287.25,317.07 282.80,321.50 C278.35,325.93 271.40,330.35 265.00,333.30 C258.60,336.25 250.63,337.95 244.40,339.20 C238.17,340.45 230.40,340.53 227.60,340.80" fill="none" stroke="#ff6010" stroke-width="0.80" stroke-opacity="0.95" stroke-linecap="round" stroke-linejoin="round" /><path d="M238.40,306.00 C237.67,302.55 234.00,291.72 234.00,285.30 C234.00,278.88 235.68,271.70 238.40,267.50 C241.12,263.30 245.37,260.83 250.30,260.10 C255.23,259.37 264.07,260.88 268.00,263.10 C271.93,265.32 272.92,271.68 273.90,273.40" fill="none" stroke="#30e8ff" stroke-width="2.70" stroke-opacity="0.35" stroke-linecap="round" stroke-linejoin="round" /><path d="M238.40,306.00 C237.67,302.55 234.00,291.72 234.00,285.30 C234.00,278.88 235.68,271.70 238.40,267.50 C241.12,263.30 245.37,260.83 250.30,260.10 C255.23,259.37 264.07,260.88 268.00,263.10 C271.93,265.32 272.92,271.68 273.90,273.40" fill="none" stroke="#60ff40" stroke-width="1.90" stroke-opacity="0.65" stroke-linecap="round" stroke-linejoin="round" /><path d="M238.40,306.00 C237.67,302.55 234.00,291.72 234.00,285.30 C234.00,278.88 235.68,271.70 238.40,267.50 C241.12,263.30 245.37,260.83 250.30,260.10 C255.23,259.37 264.07,260.88 268.00,263.10 C271.93,265.32 272.92,271.68 273.90,273.40" fill="none" stroke="#ff2810" stroke-width="0.90" stroke-opacity="0.95" stroke-linecap="round" stroke-linejoin="round" /><path d="M271.00,270.00 C271.50,271.00 274.00,274.50 274.00,276.00 C274.00,277.50 271.50,278.50 271.00,279.00" fill="none" stroke="#ff2000" stroke-width="2.20" stroke-opacity="0.90" stroke-linecap="round" stroke-linejoin="round" /><path d="M262.00,294.10 C259.55,294.85 250.73,296.62 247.30,298.60 C243.87,300.58 243.28,303.10 241.40,306.00 C239.52,308.90 236.90,314.33 236.00,316.00" fill="none" stroke="#30e8ff" stroke-width="2.60" stroke-opacity="0.35" stroke-linecap="round" stroke-linejoin="round" /><path d="M262.00,294.10 C259.55,294.85 250.73,296.62 247.30,298.60 C243.87,300.58 243.28,303.10 241.40,306.00 C239.52,308.90 236.90,314.33 236.00,316.00" fill="none" stroke="#60ff40" stroke-width="1.80" stroke-opacity="0.65" stroke-linecap="round" stroke-linejoin="round" /><path d="M262.00,294.10 C259.55,294.85 250.73,296.62 247.30,298.60 C243.87,300.58 243.28,303.10 241.40,306.00 C239.52,308.90 236.90,314.33 236.00,316.00" fill="none" stroke="#ff2810" stroke-width="0.80" stroke-opacity="0.95" stroke-linecap="round" stroke-linejoin="round" /><path d="M281.30,285.30 C280.57,289.73 280.60,304.52 276.90,311.90 C273.20,319.28 266.98,325.17 259.10,329.60 C251.22,334.03 234.52,337.02 229.60,338.50" fill="none" stroke="#30e8ff" stroke-width="2.70" stroke-opacity="0.35" stroke-linecap="round" stroke-linejoin="round" /><path d="M281.30,285.30 C280.57,289.73 280.60,304.52 276.90,311.90 C273.20,319.28 266.98,325.17 259.10,329.60 C251.22,334.03 234.52,337.02 229.60,338.50" fill="none" stroke="#60ff40" stroke-width="1.90" stroke-opacity="0.65" stroke-linecap="round" stroke-linejoin="round" /><path d="M281.30,285.30 C280.57,289.73 280.60,304.52 276.90,311.90 C273.20,319.28 266.98,325.17 259.10,329.60 C251.22,334.03 234.52,337.02 229.60,338.50" fill="none" stroke="#ff2810" stroke-width="0.90" stroke-opacity="0.95" stroke-linecap="round" stroke-linejoin="round" /><path d="M216.70,275.00 C216.32,278.90 214.58,290.60 214.40,298.40 C214.22,306.20 215.00,315.95 215.60,321.80 C216.20,327.65 217.60,331.55 218.00,333.50" fill="none" stroke="#30e8ff" stroke-width="2.70" stroke-opacity="0.35" stroke-linecap="round" stroke-linejoin="round" /><path d="M216.70,275.00 C216.32,278.90 214.58,290.60 214.40,298.40 C214.22,306.20 215.00,315.95 215.60,321.80 C216.20,327.65 217.60,331.55 218.00,333.50" fill="none" stroke="#60ff40" stroke-width="1.90" stroke-opacity="0.65" stroke-linecap="round" stroke-linejoin="round" /><path d="M216.70,275.00 C216.32,278.90 214.58,290.60 214.40,298.40 C214.22,306.20 215.00,315.95 215.60,321.80 C216.20,327.65 217.60,331.55 218.00,333.50" fill="none" stroke="#ff2810" stroke-width="0.90" stroke-opacity="0.95" stroke-linecap="round" stroke-linejoin="round" /><path d="M226.00,342.90 C229.92,341.72 241.33,339.32 249.50,335.80 C257.67,332.28 266.58,327.77 275.00,321.80 C283.42,315.83 295.83,303.63 300.00,300.00" fill="none" stroke="#ff2810" stroke-width="0.80" stroke-opacity="0.95" stroke-linecap="round" stroke-linejoin="round" /><path d="M226.00,345.20 C230.00,344.33 241.83,342.73 250.00,340.00 C258.17,337.27 266.67,332.47 275.00,328.80 C283.33,325.13 295.83,319.80 300.00,318.00" fill="none" stroke="#ff2810" stroke-width="0.80" stroke-opacity="0.95" stroke-linecap="round" stroke-linejoin="round" /><path d="M226.00,343.00 C225.17,344.17 222.17,346.83 221.00,350.00 C219.83,353.17 219.33,360.00 219.00,362.00" fill="none" stroke="#e03010" stroke-width="0.90" stroke-opacity="0.90" stroke-linecap="round" stroke-linejoin="round" /><path d="M226.00,343.00 C226.50,344.50 228.60,348.83 229.00,352.00 C229.40,355.17 228.50,360.33 228.40,362.00" fill="none" stroke="#e03010" stroke-width="0.90" stroke-opacity="0.90" stroke-linecap="round" stroke-linejoin="round" /><path d="M217.00,332.00 C217.67,332.83 219.17,335.33 221.00,337.00 C222.83,338.67 226.83,341.17 228.00,342.00" fill="none" stroke="#ffff40" stroke-width="2.20" stroke-opacity="0.80" stroke-linecap="round" stroke-linejoin="round" /><path d="M275.00,270.00 C274.57,274.12 274.07,285.22 272.40,294.70 C270.73,304.18 266.23,321.53 265.00,326.90" fill="none" stroke="#e03010" stroke-width="0.80" stroke-opacity="0.70" stroke-linecap="round" stroke-linejoin="round" /><path d="M309.50,347.00 C312.92,346.67 323.82,345.75 330.00,345.00 C336.18,344.25 343.83,342.92 346.60,342.50" fill="none" stroke="#ffffff" stroke-width="2.20" stroke-opacity="0.90" stroke-linecap="round" stroke-linejoin="round" /><path d="M280.00,349.00 C283.33,348.75 293.33,348.08 300.00,347.50 C306.67,346.92 312.23,346.58 320.00,345.50 C327.77,344.42 342.17,341.75 346.60,341.00" fill="none" stroke="#50ff50" stroke-width="1.20" stroke-opacity="0.70" stroke-linecap="round" stroke-linejoin="round" /><path d="M232.00,362.00 C236.67,360.83 250.33,356.75 260.00,355.00 C269.67,353.25 280.00,352.58 290.00,351.50 C300.00,350.42 310.57,349.83 320.00,348.50 C329.43,347.17 340.60,344.42 346.60,343.50 C352.60,342.58 354.43,343.08 356.00,343.00 L356.00,365.00 L232.00,365.00 Z" fill="#0a30f0" fill-opacity="1.00" /><path d="M239.12,362.50 A5.70,4.56 0 0 1 250.51,362.50" fill="none" stroke="#20c0ff" stroke-width="1.10" stroke-opacity="0.70" stroke-linecap="round" stroke-linejoin="round" /><path d="M237.41,362.50 A7.40,6.66 0 0 1 252.22,362.50" fill="none" stroke="#e04020" stroke-width="0.90" stroke-opacity="0.70" stroke-linecap="round" stroke-linejoin="round" /><path d="M250.61,362.50 A5.12,4.10 0 0 1 260.86,362.50" fill="none" stroke="#20c0ff" stroke-width="1.10" stroke-opacity="0.70" stroke-linecap="round" stroke-linejoin="round" /><path d="M257.43,362.50 A6.03,4.82 0 0 1 269.48,362.50" fill="none" stroke="#20c0ff" stroke-width="1.10" stroke-opacity="0.70" stroke-linecap="round" stroke-linejoin="round" /><path d="M255.62,362.50 A7.83,7.05 0 0 1 271.28,362.50" fill="none" stroke="#e04020" stroke-width="0.90" stroke-opacity="0.70" stroke-linecap="round" stroke-linejoin="round" /><path d="M268.56,362.50 A5.22,4.17 0 0 1 279.00,362.50" fill="none" stroke="#20c0ff" stroke-width="1.10" stroke-opacity="0.70" stroke-linecap="round" stroke-linejoin="round" /><path d="M277.97,362.50 A5.15,4.12 0 0 1 288.27,362.50" fill="none" stroke="#20c0ff" stroke-width="1.10" stroke-opacity="0.70" stroke-linecap="round" stroke-linejoin="round" /><path d="M276.43,362.50 A6.69,6.02 0 0 1 289.81,362.50" fill="none" stroke="#e04020" stroke-width="0.90" stroke-opacity="0.70" stroke-linecap="round" stroke-linejoin="round" /><path d="M285.96,362.50 A5.88,4.70 0 0 1 297.71,362.50" fill="none" stroke="#20c0ff" stroke-width="1.10" stroke-opacity="0.70" stroke-linecap="round" stroke-linejoin="round" /><path d="M298.39,362.50 A6.01,4.81 0 0 1 310.42,362.50" fill="none" stroke="#20c0ff" stroke-width="1.10" stroke-opacity="0.70" stroke-linecap="round" stroke-linejoin="round" /><path d="M296.59,362.50 A7.82,7.04 0 0 1 312.23,362.50" fill="none" stroke="#e04020" stroke-width="0.90" stroke-opacity="0.70" stroke-linecap="round" stroke-linejoin="round" /><path d="M307.87,362.50 A5.17,4.13 0 0 1 318.20,362.50" fill="none" stroke="#20c0ff" stroke-width="1.10" stroke-opacity="0.70" stroke-linecap="round" stroke-linejoin="round" /><path d="M317.20,362.50 A4.70,3.76 0 0 1 326.60,362.50" fill="none" stroke="#20c0ff" stroke-width="1.10" stroke-opacity="0.70" stroke-linecap="round" stroke-linejoin="round" /><path d="M315.79,362.50 A6.11,5.50 0 0 1 328.01,362.50" fill="none" stroke="#e04020" stroke-width="0.90" stroke-opacity="0.70" stroke-linecap="round" stroke-linejoin="round" /><path d="M327.68,362.50 A5.07,4.05 0 0 1 337.81,362.50" fill="none" stroke="#20c0ff" stroke-width="1.10" stroke-opacity="0.70" stroke-linecap="round" stroke-linejoin="round" /><path d="M333.95,362.50 A6.72,5.38 0 0 1 347.39,362.50" fill="none" stroke="#20c0ff" stroke-width="1.10" stroke-opacity="0.70" stroke-linecap="round" stroke-linejoin="round" /><path d="M331.93,362.50 A8.74,7.86 0 0 1 349.40,362.50" fill="none" stroke="#e04020" stroke-width="0.90" stroke-opacity="0.70" stroke-linecap="round" stroke-linejoin="round" /><path d="M343.81,362.50 A6.72,5.37 0 0 1 357.24,362.50" fill="none" stroke="#20c0ff" stroke-width="1.10" stroke-opacity="0.70" stroke-linecap="round" stroke-linejoin="round" /><path d="M232.00,362.00 C236.67,360.83 250.33,356.75 260.00,355.00 C269.67,353.25 280.00,352.58 290.00,351.50 C300.00,350.42 310.57,349.83 320.00,348.50 C329.43,347.17 340.60,344.42 346.60,343.50 C352.60,342.58 354.43,343.08 356.00,343.00" fill="none" stroke="#e03010" stroke-width="0.90" stroke-opacity="0.85" stroke-linecap="round" stroke-linejoin="round" /></g><g clip-path="url(#c6)"><g clip-path="url(#d7c)"><use href="#d7" fill="#0836f2"/><use href="#d7" fill="none" stroke="#0a8cff" stroke-width="11" stroke-opacity="0.5" filter="url(#bl3)"/><g filter="url(#bl2)"><use href="#d7t" transform="translate(422.00,345.00) scale(1.2078,1.1829) translate(-422.00,-345.00)" fill="none" stroke="#00e3ff" stroke-width="2.50" stroke-opacity="0.78" vector-effect="non-scaling-stroke"/><use href="#d7t" transform="translate(422.00,345.00) scale(1.1220,1.1073) translate(-422.00,-345.00)" fill="none" stroke="#00ebff" stroke-width="3.50" stroke-opacity="0.80" vector-effect="non-scaling-stroke"/><use href="#d7t" transform="translate(422.00,345.00) scale(1.0575,1.0506) translate(-422.00,-345.00)" fill="none" stroke="#00ccff" stroke-width="4.00" stroke-opacity="0.73" vector-effect="non-scaling-stroke"/><use href="#d7t" transform="translate(422.00,345.00) scale(0.9698,0.9734) translate(-422.00,-345.00)" fill="none" stroke="#00caff" stroke-width="3.50" stroke-opacity="0.87" vector-effect="non-scaling-stroke"/><use href="#d7t" transform="translate(422.00,345.00) scale(0.8857,0.8994) translate(-422.00,-345.00)" fill="none" stroke="#00d8ff" stroke-width="2.50" stroke-opacity="0.88" vector-effect="non-scaling-stroke"/><use href="#d7t" transform="translate(422.00,345.00) scale(0.8163,0.8384) translate(-422.00,-345.00)" fill="none" stroke="#00d0ff" stroke-width="2.50" stroke-opacity="0.85" vector-effect="non-scaling-stroke"/><use href="#d7t" transform="translate(422.00,345.00) scale(0.7562,0.7855) translate(-422.00,-345.00)" fill="none" stroke="#00bdff" stroke-width="4.00" stroke-opacity="0.84" vector-effect="non-scaling-stroke"/><use href="#d7t" transform="translate(422.00,345.00) scale(0.6821,0.7202) translate(-422.00,-345.00)" fill="none" stroke="#00d1ff" stroke-width="3.50" stroke-opacity="0.79" vector-effect="non-scaling-stroke"/><use href="#d7t" transform="translate(422.00,345.00) scale(0.6134,0.6598) translate(-422.00,-345.00)" fill="none" stroke="#00b6ff" stroke-width="4.00" stroke-opacity="0.71" vector-effect="non-scaling-stroke"/><use href="#d7t" transform="translate(422.00,345.00) scale(0.5420,0.5970) translate(-422.00,-345.00)" fill="none" stroke="#00cdff" stroke-width="3.00" stroke-opacity="0.75" vector-effect="non-scaling-stroke"/><use href="#d7t" transform="translate(422.00,345.00) scale(0.4508,0.5167) translate(-422.00,-345.00)" fill="none" stroke="#00c4ff" stroke-width="2.50" stroke-opacity="0.79" vector-effect="non-scaling-stroke"/><use href="#d7t" transform="translate(422.00,345.00) scale(0.3915,0.4645) translate(-422.00,-345.00)" fill="none" stroke="#00ceff" stroke-width="4.00" stroke-opacity="0.80" vector-effect="non-scaling-stroke"/><use href="#d7t" transform="translate(422.00,345.00) scale(0.3209,0.4024) translate(-422.00,-345.00)" fill="none" stroke="#00c5ff" stroke-width="4.00" stroke-opacity="0.74" vector-effect="non-scaling-stroke"/><use href="#d7t" transform="translate(422.00,345.00) scale(0.2641,0.3524) translate(-422.00,-345.00)" fill="none" stroke="#00c4ff" stroke-width="2.50" stroke-opacity="0.71" vector-effect="non-scaling-stroke"/><use href="#d7t" transform="translate(422.00,345.00) scale(0.1525,0.2542) translate(-422.00,-345.00)" fill="none" stroke="#00a3ff" stroke-width="2.50" stroke-opacity="0.82" vector-effect="non-scaling-stroke"/><use href="#d7t" transform="translate(422.00,345.00) scale(0.1067,0.2139) translate(-422.00,-345.00)" fill="none" stroke="#00bdff" stroke-width="4.00" stroke-opacity="0.72" vector-effect="non-scaling-stroke"/></g><g filter="url(#bl)"><use href="#d7t" transform="translate(422.00,345.00) scale(1.2256,1.1985) translate(-422.00,-345.00)" fill="none" stroke="#00e1ff" stroke-width="1.40" stroke-opacity="0.83" vector-effect="non-scaling-stroke"/><use href="#d7t" transform="translate(422.00,345.00) scale(1.1153,1.1014) translate(-422.00,-345.00)" fill="none" stroke="#00f1fc" stroke-width="0.90" stroke-opacity="0.63" vector-effect="non-scaling-stroke"/><use href="#d7t" transform="translate(422.00,345.00) scale(0.9957,0.9962) translate(-422.00,-345.00)" fill="none" stroke="#00f3f5" stroke-width="0.90" stroke-opacity="0.69" vector-effect="non-scaling-stroke"/><use href="#d7t" transform="translate(422.00,345.00) scale(0.9187,0.9284) translate(-422.00,-345.00)" fill="none" stroke="#00e1ff" stroke-width="1.40" stroke-opacity="0.61" vector-effect="non-scaling-stroke"/><use href="#d7t" transform="translate(422.00,345.00) scale(0.8123,0.8349) translate(-422.00,-345.00)" fill="none" stroke="#00f1fc" stroke-width="1.40" stroke-opacity="0.86" vector-effect="non-scaling-stroke"/><use href="#d7t" transform="translate(422.00,345.00) scale(0.7107,0.7454) translate(-422.00,-345.00)" fill="none" stroke="#00e0ff" stroke-width="0.90" stroke-opacity="0.76" vector-effect="non-scaling-stroke"/><use href="#d7t" transform="translate(422.00,345.00) scale(0.6185,0.6643) translate(-422.00,-345.00)" fill="none" stroke="#00e4ff" stroke-width="1.40" stroke-opacity="0.77" vector-effect="non-scaling-stroke"/><use href="#d7t" transform="translate(422.00,345.00) scale(0.4950,0.5556) translate(-422.00,-345.00)" fill="none" stroke="#00d5ff" stroke-width="0.90" stroke-opacity="0.67" vector-effect="non-scaling-stroke"/><use href="#d7t" transform="translate(422.00,345.00) scale(0.3990,0.4711) translate(-422.00,-345.00)" fill="none" stroke="#00deff" stroke-width="1.40" stroke-opacity="0.81" vector-effect="non-scaling-stroke"/><use href="#d7t" transform="translate(422.00,345.00) scale(0.2811,0.3673) translate(-422.00,-345.00)" fill="none" stroke="#00d0ff" stroke-width="0.90" stroke-opacity="0.85" vector-effect="non-scaling-stroke"/><use href="#d7t" transform="translate(422.00,345.00) scale(0.2289,0.3214) translate(-422.00,-345.00)" fill="none" stroke="#00dfff" stroke-width="1.10" stroke-opacity="0.86" vector-effect="non-scaling-stroke"/><use href="#d7t" transform="translate(422.00,345.00) scale(0.0907,0.1998) translate(-422.00,-345.00)" fill="none" stroke="#00dcff" stroke-width="0.90" stroke-opacity="0.78" vector-effect="non-scaling-stroke"/></g><rect x="470.0" y="0" width="80.0" height="372" fill="url(#b7)"/><ellipse cx="500.00" cy="300.00" rx="30.00" ry="45.00" fill="url(#k7)" transform="rotate(0.0 500.00 300.00)"/><path d="M383.20,364.00 C380.83,358.63 371.70,342.47 369.00,331.80 C366.30,321.13 366.83,307.80 367.00,300.00 C367.17,292.20 369.17,290.23 370.00,285.00 C370.83,279.77 371.25,273.43 372.00,268.60 C372.75,263.77 373.42,260.10 374.50,256.00 C375.58,251.90 377.08,248.00 378.50,244.00 C379.92,240.00 381.25,235.92 383.00,232.00 C384.75,228.08 386.00,224.50 389.00,220.50 C392.00,216.50 396.77,211.48 401.00,208.00 C405.23,204.52 409.57,202.10 414.40,199.60 C419.23,197.10 423.23,194.77 430.00,193.00 C436.77,191.23 446.67,189.17 455.00,189.00 C463.33,188.83 473.05,190.12 480.00,192.00 C486.95,193.88 491.67,197.05 496.70,200.30 C501.73,203.55 506.45,207.37 510.20,211.50 C513.95,215.63 516.75,220.58 519.20,225.10 C521.65,229.62 523.38,233.72 524.90,238.60 C526.42,243.48 527.52,248.75 528.30,254.40 C529.08,260.05 529.33,266.57 529.60,272.50 C529.87,278.43 530.08,283.68 529.90,290.00 C529.72,296.32 529.72,303.85 528.50,310.40 C527.28,316.95 524.77,324.18 522.60,329.30 C520.43,334.42 518.27,338.53 515.50,341.10 C512.73,343.67 511.52,343.52 506.00,344.70 C500.48,345.88 489.87,347.22 482.40,348.20 C474.93,349.18 468.27,349.80 461.20,350.60 C454.13,351.40 446.87,350.77 440.00,353.00 C433.13,355.23 423.33,362.17 420.00,364.00 Z" fill="none" stroke="#10c0ff" stroke-width="2.20" stroke-opacity="0.90" stroke-linecap="round" stroke-linejoin="round" /><path d="M383.20,364.00 C380.83,358.63 371.70,342.47 369.00,331.80 C366.30,321.13 366.83,307.80 367.00,300.00 C367.17,292.20 369.17,290.23 370.00,285.00 C370.83,279.77 371.25,273.43 372.00,268.60 C372.75,263.77 373.42,260.10 374.50,256.00 C375.58,251.90 377.08,248.00 378.50,244.00 C379.92,240.00 381.25,235.92 383.00,232.00 C384.75,228.08 386.00,224.50 389.00,220.50 C392.00,216.50 396.77,211.48 401.00,208.00 C405.23,204.52 409.57,202.10 414.40,199.60 C419.23,197.10 423.23,194.77 430.00,193.00 C436.77,191.23 446.67,189.17 455.00,189.00 C463.33,188.83 473.05,190.12 480.00,192.00 C486.95,193.88 491.67,197.05 496.70,200.30 C501.73,203.55 506.45,207.37 510.20,211.50 C513.95,215.63 516.75,220.58 519.20,225.10 C521.65,229.62 523.38,233.72 524.90,238.60 C526.42,243.48 527.52,248.75 528.30,254.40 C529.08,260.05 529.33,266.57 529.60,272.50 C529.87,278.43 530.08,283.68 529.90,290.00 C529.72,296.32 529.72,303.85 528.50,310.40 C527.28,316.95 524.77,324.18 522.60,329.30 C520.43,334.42 518.27,338.53 515.50,341.10 C512.73,343.67 511.52,343.52 506.00,344.70 C500.48,345.88 489.87,347.22 482.40,348.20 C474.93,349.18 468.27,349.80 461.20,350.60 C454.13,351.40 446.87,350.77 440.00,353.00 C433.13,355.23 423.33,362.17 420.00,364.00 Z" fill="none" stroke="#40e0ff" stroke-width="0.90" stroke-opacity="0.90" stroke-linecap="round" stroke-linejoin="round" /></g><path d="M403.90,335.00 C404.88,330.67 407.83,317.28 409.80,309.00 C411.77,300.72 413.73,292.22 415.70,285.30 C417.67,278.38 419.13,272.43 421.60,267.50 C424.07,262.57 426.55,258.65 430.50,255.70 C434.45,252.75 440.87,250.05 445.30,249.80 C449.73,249.55 453.90,251.98 457.10,254.20 C460.30,256.42 462.35,261.80 464.50,263.10 C466.65,264.40 467.78,261.75 470.00,262.00 C472.22,262.25 476.63,261.60 477.80,264.60 C478.97,267.60 477.48,275.07 477.00,280.00 C476.52,284.93 477.23,288.87 474.90,294.20 C472.57,299.53 468.43,306.58 463.00,312.00 C457.57,317.42 449.68,322.53 442.30,326.70 C434.92,330.87 422.63,335.28 418.70,337.00 Z" fill="#0a48f6" fill-opacity="0.55" /><ellipse cx="445.00" cy="295.00" rx="22.00" ry="30.00" fill="url(#g7)"/><path d="M401.00,340.00 C401.33,337.50 402.33,330.33 403.00,325.00 C403.67,319.67 404.33,313.50 405.00,308.00 C405.67,302.50 406.50,297.00 407.00,292.00 C407.50,287.00 407.67,282.33 408.00,278.00 C408.33,273.67 408.83,268.00 409.00,266.00" fill="none" stroke="#30e0ff" stroke-width="1.40" stroke-opacity="0.70" stroke-linecap="round" stroke-linejoin="round" /><path d="M401.78,340.00 C402.20,337.50 403.33,330.33 404.30,325.00 C405.27,319.67 406.72,313.50 407.60,308.00 C408.48,302.50 409.06,297.00 409.60,292.00 C410.14,287.00 410.44,282.33 410.86,278.00 C411.28,273.67 411.91,268.00 412.12,266.00" fill="none" stroke="#60ff40" stroke-width="1.00" stroke-opacity="0.80" stroke-linecap="round" stroke-linejoin="round" /><path d="M402.56,340.00 C403.07,337.50 404.33,330.33 405.60,325.00 C406.87,319.67 409.10,313.50 410.20,308.00 C411.30,302.50 411.61,297.00 412.20,292.00 C412.79,287.00 413.21,282.33 413.72,278.00 C414.23,273.67 414.99,268.00 415.24,266.00" fill="none" stroke="#30e0ff" stroke-width="1.20" stroke-opacity="0.60" stroke-linecap="round" stroke-linejoin="round" /><path d="M403.34,340.00 C403.93,337.50 405.32,330.33 406.90,325.00 C408.48,319.67 411.48,313.50 412.80,308.00 C414.12,302.50 414.17,297.00 414.80,292.00 C415.43,287.00 415.99,282.33 416.58,278.00 C417.17,273.67 418.06,268.00 418.36,266.00" fill="none" stroke="#ff3010" stroke-width="0.80" stroke-opacity="0.80" stroke-linecap="round" stroke-linejoin="round" /><path d="M404.12,340.00 C404.80,337.50 406.32,330.33 408.20,325.00 C410.08,319.67 413.87,313.50 415.40,308.00 C416.93,302.50 416.73,297.00 417.40,292.00 C418.07,287.00 418.76,282.33 419.44,278.00 C420.12,273.67 421.14,268.00 421.48,266.00" fill="none" stroke="#60ff40" stroke-width="1.20" stroke-opacity="0.70" stroke-linecap="round" stroke-linejoin="round" /><path d="M405.00,330.00 C405.83,328.00 408.50,323.00 410.00,318.00 C411.50,313.00 412.83,305.50 414.00,300.00 C415.17,294.50 416.50,287.50 417.00,285.00" fill="none" stroke="#ff3010" stroke-width="0.80" stroke-opacity="0.80" stroke-linecap="round" stroke-linejoin="round" /><path d="M420.00,300.00 C421.33,298.33 424.67,292.67 428.00,290.00 C431.33,287.33 438.00,285.00 440.00,284.00" fill="none" stroke="#30e0ff" stroke-width="1.60" stroke-opacity="0.60" stroke-linecap="round" stroke-linejoin="round" /><path d="M430.00,320.00 C432.50,318.33 440.33,314.00 445.00,310.00 C449.67,306.00 454.67,301.00 458.00,296.00 C461.33,291.00 463.83,282.67 465.00,280.00" fill="none" stroke="#30d0ff" stroke-width="1.40" stroke-opacity="0.50" stroke-linecap="round" stroke-linejoin="round" /><path d="M425.00,275.00 C427.17,273.33 433.50,267.17 438.00,265.00 C442.50,262.83 449.67,262.50 452.00,262.00" fill="none" stroke="#30d0ff" stroke-width="1.40" stroke-opacity="0.50" stroke-linecap="round" stroke-linejoin="round" /><path d="M393.00,303.00 C392.83,300.50 392.00,293.00 392.00,288.00 C392.00,283.00 392.42,277.67 393.00,273.00 C393.58,268.33 394.33,263.92 395.50,260.00 C396.67,256.08 398.25,252.83 400.00,249.50 C401.75,246.17 403.83,242.83 406.00,240.00 C408.17,237.17 410.33,234.75 413.00,232.50 C415.67,230.25 418.50,228.08 422.00,226.50 C425.50,224.92 429.33,223.75 434.00,223.00 C438.67,222.25 445.17,221.67 450.00,222.00 C454.83,222.33 459.25,223.25 463.00,225.00 C466.75,226.75 470.25,230.00 472.50,232.50 C474.75,235.00 475.42,236.92 476.50,240.00 C477.58,243.08 478.08,247.17 479.00,251.00 C479.92,254.83 481.17,258.83 482.00,263.00 C482.83,267.17 483.67,272.33 484.00,276.00 C484.33,279.67 484.00,283.50 484.00,285.00" fill="none" stroke="#40ff40" stroke-width="3.00" stroke-opacity="0.90" stroke-linecap="round" stroke-linejoin="round" /><path d="M393.70,303.70 C393.53,301.20 392.70,293.70 392.70,288.70 C392.70,283.70 393.12,278.37 393.70,273.70 C394.28,269.03 395.03,264.62 396.20,260.70 C397.37,256.78 398.95,253.53 400.70,250.20 C402.45,246.87 404.53,243.53 406.70,240.70 C408.87,237.87 411.03,235.45 413.70,233.20 C416.37,230.95 419.20,228.78 422.70,227.20 C426.20,225.62 430.03,224.45 434.70,223.70 C439.37,222.95 445.87,222.37 450.70,222.70 C455.53,223.03 459.95,223.95 463.70,225.70 C467.45,227.45 470.95,230.70 473.20,233.20 C475.45,235.70 476.12,237.62 477.20,240.70 C478.28,243.78 478.78,247.87 479.70,251.70 C480.62,255.53 481.87,259.53 482.70,263.70 C483.53,267.87 484.37,273.03 484.70,276.70 C485.03,280.37 484.70,284.20 484.70,285.70" fill="none" stroke="#ff3010" stroke-width="1.60" stroke-opacity="0.90" stroke-linecap="round" stroke-linejoin="round" /><path d="M389.50,285.50 C389.67,283.00 389.92,275.17 390.50,270.50 C391.08,265.83 391.83,261.42 393.00,257.50 C394.17,253.58 395.75,250.33 397.50,247.00 C399.25,243.67 401.33,240.33 403.50,237.50 C405.67,234.67 407.83,232.25 410.50,230.00 C413.17,227.75 416.00,225.58 419.50,224.00 C423.00,222.42 426.83,221.25 431.50,220.50 C436.17,219.75 442.67,219.17 447.50,219.50 C452.33,219.83 456.75,220.75 460.50,222.50 C464.25,224.25 467.75,227.50 470.00,230.00 C472.25,232.50 472.92,234.42 474.00,237.50 C475.08,240.58 475.58,244.67 476.50,248.50 C477.42,252.33 478.67,256.33 479.50,260.50 C480.33,264.67 481.17,269.83 481.50,273.50 C481.83,277.17 481.50,281.00 481.50,282.50" fill="none" stroke="#ffd020" stroke-width="1.00" stroke-opacity="0.70" stroke-linecap="round" stroke-linejoin="round" /><path d="M400.00,322.00 C399.17,319.17 396.00,310.33 395.00,305.00 C394.00,299.67 394.00,295.00 394.00,290.00 C394.00,285.00 394.42,279.67 395.00,275.00 C395.58,270.33 396.33,265.92 397.50,262.00 C398.67,258.08 400.25,254.83 402.00,251.50 C403.75,248.17 405.83,244.83 408.00,242.00 C410.17,239.17 412.33,236.75 415.00,234.50 C417.67,232.25 420.50,230.08 424.00,228.50 C427.50,226.92 431.33,225.75 436.00,225.00 C440.67,224.25 447.17,223.67 452.00,224.00 C456.83,224.33 461.25,225.25 465.00,227.00 C468.75,228.75 472.25,232.00 474.50,234.50 C476.75,237.00 477.42,238.92 478.50,242.00 C479.58,245.08 480.08,249.17 481.00,253.00 C481.92,256.83 483.17,260.83 484.00,265.00 C484.83,269.17 485.67,274.33 486.00,278.00 C486.33,281.67 486.00,285.50 486.00,287.00 L485.00,288.00 C484.83,286.00 484.50,280.00 484.00,276.00 C483.50,272.00 482.83,267.50 482.00,264.00 C481.17,260.50 480.50,257.55 479.00,255.00 C477.50,252.45 475.58,250.78 473.00,248.70 C470.42,246.62 467.00,244.03 463.50,242.50 C460.00,240.97 456.58,240.17 452.00,239.50 C447.42,238.83 441.33,238.17 436.00,238.50 C430.67,238.83 423.83,239.92 420.00,241.50 C416.17,243.08 414.83,245.83 413.00,248.00 C411.17,250.17 410.17,252.17 409.00,254.50 C407.83,256.83 406.83,259.08 406.00,262.00 C405.17,264.92 404.62,268.17 404.00,272.00 C403.38,275.83 402.67,280.33 402.30,285.00 C401.93,289.67 402.10,293.83 401.80,300.00 C401.50,306.17 400.72,318.33 400.50,322.00 Z" fill="#ffffff" fill-opacity="1.00" /><path d="M474.30,250.20 C472.72,249.17 468.30,245.53 464.80,244.00 C461.30,242.47 457.88,241.67 453.30,241.00 C448.72,240.33 442.63,239.67 437.30,240.00 C431.97,240.33 425.13,241.42 421.30,243.00 C417.47,244.58 416.13,247.33 414.30,249.50 C412.47,251.67 411.47,253.67 410.30,256.00 C409.13,258.33 408.13,260.58 407.30,263.50 C406.47,266.42 405.92,269.67 405.30,273.50 C404.68,277.33 403.88,284.33 403.60,286.50" fill="none" stroke="#40ff60" stroke-width="1.30" stroke-opacity="0.85" stroke-linecap="round" stroke-linejoin="round" /><path d="M480.00,240.00 C480.67,242.50 483.00,249.67 484.00,255.00 C485.00,260.33 486.33,264.73 486.00,272.00 C485.67,279.27 484.57,291.40 482.00,298.60 C479.43,305.80 475.27,310.47 470.60,315.20 C465.93,319.93 461.07,324.20 454.00,327.00 C446.93,329.80 436.87,329.67 428.20,332.00 C419.53,334.33 406.37,339.50 402.00,341.00" fill="none" stroke="#ff3010" stroke-width="1.20" stroke-opacity="0.90" stroke-linecap="round" stroke-linejoin="round" /><path d="M481.25,240.00 C482.12,242.50 485.29,249.67 486.50,255.00 C487.71,260.33 488.83,264.73 488.50,272.00 C488.17,279.27 487.07,291.40 484.50,298.60 C481.93,305.80 477.98,310.34 473.10,315.20 C468.23,320.06 462.73,324.74 455.25,327.75 C447.77,330.76 437.07,331.04 428.20,333.25 C419.32,335.46 406.37,339.71 402.00,341.00" fill="none" stroke="#40ff40" stroke-width="1.60" stroke-opacity="0.90" stroke-linecap="round" stroke-linejoin="round" /><path d="M482.25,240.00 C483.29,242.50 487.12,249.67 488.50,255.00 C489.88,260.33 490.83,264.73 490.50,272.00 C490.17,279.27 489.07,291.40 486.50,298.60 C483.93,305.80 480.14,310.24 475.10,315.20 C470.06,320.16 464.07,325.18 456.25,328.35 C448.43,331.53 437.24,332.14 428.20,334.25 C419.16,336.36 406.37,339.88 402.00,341.00" fill="none" stroke="#ff3010" stroke-width="0.90" stroke-opacity="0.90" stroke-linecap="round" stroke-linejoin="round" /><path d="M483.50,240.00 C484.75,242.50 489.42,249.67 491.00,255.00 C492.58,260.33 493.33,264.73 493.00,272.00 C492.67,279.27 491.57,291.40 489.00,298.60 C486.43,305.80 482.85,310.12 477.60,315.20 C472.35,320.28 465.73,325.72 457.50,329.10 C449.27,332.48 437.45,333.52 428.20,335.50 C418.95,337.48 406.37,340.08 402.00,341.00" fill="none" stroke="#30e0ff" stroke-width="1.40" stroke-opacity="0.90" stroke-linecap="round" stroke-linejoin="round" /><path d="M403.90,335.00 C404.88,330.67 407.83,317.28 409.80,309.00 C411.77,300.72 413.73,292.22 415.70,285.30 C417.67,278.38 419.13,272.43 421.60,267.50 C424.07,262.57 426.55,258.65 430.50,255.70 C434.45,252.75 440.87,250.05 445.30,249.80 C449.73,249.55 453.90,251.98 457.10,254.20 C460.30,256.42 462.35,261.80 464.50,263.10 C466.65,264.40 469.08,262.18 470.00,262.00" fill="none" stroke="#30e8ff" stroke-width="2.80" stroke-opacity="0.35" stroke-linecap="round" stroke-linejoin="round" /><path d="M403.90,335.00 C404.88,330.67 407.83,317.28 409.80,309.00 C411.77,300.72 413.73,292.22 415.70,285.30 C417.67,278.38 419.13,272.43 421.60,267.50 C424.07,262.57 426.55,258.65 430.50,255.70 C434.45,252.75 440.87,250.05 445.30,249.80 C449.73,249.55 453.90,251.98 457.10,254.20 C460.30,256.42 462.35,261.80 464.50,263.10 C466.65,264.40 469.08,262.18 470.00,262.00" fill="none" stroke="#60ff40" stroke-width="2.00" stroke-opacity="0.65" stroke-linecap="round" stroke-linejoin="round" /><path d="M403.90,335.00 C404.88,330.67 407.83,317.28 409.80,309.00 C411.77,300.72 413.73,292.22 415.70,285.30 C417.67,278.38 419.13,272.43 421.60,267.50 C424.07,262.57 426.55,258.65 430.50,255.70 C434.45,252.75 440.87,250.05 445.30,249.80 C449.73,249.55 453.90,251.98 457.10,254.20 C460.30,256.42 462.35,261.80 464.50,263.10 C466.65,264.40 469.08,262.18 470.00,262.00" fill="none" stroke="#ff2810" stroke-width="1.00" stroke-opacity="0.95" stroke-linecap="round" stroke-linejoin="round" /><path d="M458.00,258.00 C458.83,259.33 461.42,263.25 463.00,266.00 C464.58,268.75 467.33,273.83 467.50,274.50 C467.67,275.17 464.58,270.75 464.00,270.00" fill="none" stroke="#ff2000" stroke-width="2.00" stroke-opacity="0.90" stroke-linecap="round" stroke-linejoin="round" /><path d="M477.80,264.60 C477.50,267.17 476.48,275.07 476.00,280.00 C475.52,284.93 477.07,288.87 474.90,294.20 C472.73,299.53 468.43,306.58 463.00,312.00 C457.57,317.42 449.68,322.53 442.30,326.70 C434.92,330.87 425.08,334.45 418.70,337.00 C412.32,339.55 406.45,341.17 404.00,342.00" fill="none" stroke="#30e8ff" stroke-width="2.80" stroke-opacity="0.35" stroke-linecap="round" stroke-linejoin="round" /><path d="M477.80,264.60 C477.50,267.17 476.48,275.07 476.00,280.00 C475.52,284.93 477.07,288.87 474.90,294.20 C472.73,299.53 468.43,306.58 463.00,312.00 C457.57,317.42 449.68,322.53 442.30,326.70 C434.92,330.87 425.08,334.45 418.70,337.00 C412.32,339.55 406.45,341.17 404.00,342.00" fill="none" stroke="#60ff40" stroke-width="2.00" stroke-opacity="0.65" stroke-linecap="round" stroke-linejoin="round" /><path d="M477.80,264.60 C477.50,267.17 476.48,275.07 476.00,280.00 C475.52,284.93 477.07,288.87 474.90,294.20 C472.73,299.53 468.43,306.58 463.00,312.00 C457.57,317.42 449.68,322.53 442.30,326.70 C434.92,330.87 425.08,334.45 418.70,337.00 C412.32,339.55 406.45,341.17 404.00,342.00" fill="none" stroke="#ff2810" stroke-width="1.00" stroke-opacity="0.95" stroke-linecap="round" stroke-linejoin="round" /><path d="M424.60,294.20 C426.33,293.17 431.05,289.48 435.00,288.00 C438.95,286.52 446.08,285.75 448.30,285.30" fill="none" stroke="#30e0ff" stroke-width="1.80" stroke-opacity="0.70" stroke-linecap="round" stroke-linejoin="round" /><path d="M411.60,343.00 C412.67,342.75 416.03,342.00 418.00,341.50 C419.97,341.00 422.50,340.25 423.40,340.00" fill="none" stroke="#ffffff" stroke-width="2.40" stroke-opacity="0.95" stroke-linecap="round" stroke-linejoin="round" /><path d="M391.50,275.00 C391.58,279.17 391.42,292.17 392.00,300.00 C392.58,307.83 393.33,315.17 395.00,322.00 C396.67,328.83 400.83,337.83 402.00,341.00" fill="none" stroke="#30e8ff" stroke-width="2.80" stroke-opacity="0.35" stroke-linecap="round" stroke-linejoin="round" /><path d="M391.50,275.00 C391.58,279.17 391.42,292.17 392.00,300.00 C392.58,307.83 393.33,315.17 395.00,322.00 C396.67,328.83 400.83,337.83 402.00,341.00" fill="none" stroke="#60ff40" stroke-width="2.00" stroke-opacity="0.65" stroke-linecap="round" stroke-linejoin="round" /><path d="M391.50,275.00 C391.58,279.17 391.42,292.17 392.00,300.00 C392.58,307.83 393.33,315.17 395.00,322.00 C396.67,328.83 400.83,337.83 402.00,341.00" fill="none" stroke="#ff2810" stroke-width="1.00" stroke-opacity="0.95" stroke-linecap="round" stroke-linejoin="round" /><path d="M402.00,341.00 C400.83,342.50 396.50,346.67 395.00,350.00 C393.50,353.33 393.33,359.17 393.00,361.00" fill="none" stroke="#e03010" stroke-width="1.10" stroke-opacity="0.90" stroke-linecap="round" stroke-linejoin="round" /><path d="M402.00,341.00 C403.00,342.50 407.17,346.67 408.00,350.00 C408.83,353.33 407.17,359.17 407.00,361.00" fill="none" stroke="#e03010" stroke-width="1.10" stroke-opacity="0.90" stroke-linecap="round" stroke-linejoin="round" /><path d="M395.00,362.00 C395.17,360.00 394.83,353.17 396.00,350.00 C397.17,346.83 400.17,343.00 402.00,343.00 C403.83,343.00 406.33,346.83 407.00,350.00 C407.67,353.17 406.17,360.00 406.00,362.00 Z" fill="#0820f0" fill-opacity="0.90" /><path d="M462.00,353.50 C465.40,352.83 475.07,350.75 482.40,349.50 C489.73,348.25 500.48,347.17 506.00,346.00 C511.52,344.83 512.73,345.00 515.50,342.50 C518.27,340.00 520.43,336.08 522.60,331.00 C524.77,325.92 527.27,317.17 528.50,312.00 C529.73,306.83 529.75,302.00 530.00,300.00 L533,300 L533,346 L470,354 Z" fill="#ffffff" fill-opacity="1.00" /><path d="M462.00,352.00 C465.40,351.33 475.07,349.25 482.40,348.00 C489.73,346.75 500.48,345.67 506.00,344.50 C511.52,343.33 512.73,343.53 515.50,341.00 C518.27,338.47 520.43,334.40 522.60,329.30 C524.77,324.20 527.28,316.95 528.50,310.40 C529.72,303.85 529.67,293.40 529.90,290.00" fill="none" stroke="#40ff40" stroke-width="1.60" stroke-opacity="0.85" stroke-linecap="round" stroke-linejoin="round" /><path d="M430.00,363.00 C436.00,361.33 454.33,355.50 466.00,353.00 C477.67,350.50 488.83,349.25 500.00,348.00 C511.17,346.75 527.50,345.92 533.00,345.50 L533.00,365.00 L430.00,365.00 Z" fill="#0a30f0" fill-opacity="1.00" /><path d="M438.32,363.00 A5.63,4.50 0 0 1 449.57,363.00" fill="none" stroke="#20c0ff" stroke-width="1.10" stroke-opacity="0.70" stroke-linecap="round" stroke-linejoin="round" /><path d="M436.63,363.00 A7.31,6.58 0 0 1 451.26,363.00" fill="none" stroke="#e04020" stroke-width="0.90" stroke-opacity="0.70" stroke-linecap="round" stroke-linejoin="round" /><path d="M445.51,363.00 A6.47,5.18 0 0 1 458.45,363.00" fill="none" stroke="#20c0ff" stroke-width="1.10" stroke-opacity="0.70" stroke-linecap="round" stroke-linejoin="round" /><path d="M458.03,363.00 A6.51,5.21 0 0 1 471.05,363.00" fill="none" stroke="#20c0ff" stroke-width="1.10" stroke-opacity="0.70" stroke-linecap="round" stroke-linejoin="round" /><path d="M456.08,363.00 A8.46,7.61 0 0 1 473.00,363.00" fill="none" stroke="#e04020" stroke-width="0.90" stroke-opacity="0.70" stroke-linecap="round" stroke-linejoin="round" /><path d="M466.95,363.00 A4.65,3.72 0 0 1 476.25,363.00" fill="none" stroke="#20c0ff" stroke-width="1.10" stroke-opacity="0.70" stroke-linecap="round" stroke-linejoin="round" /><path d="M475.43,363.00 A4.64,3.71 0 0 1 484.70,363.00" fill="none" stroke="#20c0ff" stroke-width="1.10" stroke-opacity="0.70" stroke-linecap="round" stroke-linejoin="round" /><path d="M474.04,363.00 A6.03,5.42 0 0 1 486.10,363.00" fill="none" stroke="#e04020" stroke-width="0.90" stroke-opacity="0.70" stroke-linecap="round" stroke-linejoin="round" /><path d="M483.45,363.00 A5.79,4.63 0 0 1 495.04,363.00" fill="none" stroke="#20c0ff" stroke-width="1.10" stroke-opacity="0.70" stroke-linecap="round" stroke-linejoin="round" /><path d="M493.83,363.00 A6.08,4.86 0 0 1 505.99,363.00" fill="none" stroke="#20c0ff" stroke-width="1.10" stroke-opacity="0.70" stroke-linecap="round" stroke-linejoin="round" /><path d="M492.01,363.00 A7.91,7.11 0 0 1 507.82,363.00" fill="none" stroke="#e04020" stroke-width="0.90" stroke-opacity="0.70" stroke-linecap="round" stroke-linejoin="round" /><path d="M505.80,363.00 A5.00,4.00 0 0 1 515.79,363.00" fill="none" stroke="#20c0ff" stroke-width="1.10" stroke-opacity="0.70" stroke-linecap="round" stroke-linejoin="round" /><path d="M512.72,363.00 A4.99,3.99 0 0 1 522.71,363.00" fill="none" stroke="#20c0ff" stroke-width="1.10" stroke-opacity="0.70" stroke-linecap="round" stroke-linejoin="round" /><path d="M511.23,363.00 A6.49,5.84 0 0 1 524.21,363.00" fill="none" stroke="#e04020" stroke-width="0.90" stroke-opacity="0.70" stroke-linecap="round" stroke-linejoin="round" /><path d="M520.78,363.00 A5.69,4.55 0 0 1 532.16,363.00" fill="none" stroke="#20c0ff" stroke-width="1.10" stroke-opacity="0.70" stroke-linecap="round" stroke-linejoin="round" /><path d="M430.00,363.00 C436.00,361.33 454.33,355.50 466.00,353.00 C477.67,350.50 488.83,349.25 500.00,348.00 C511.17,346.75 527.50,345.92 533.00,345.50" fill="none" stroke="#e03010" stroke-width="0.90" stroke-opacity="0.85" stroke-linecap="round" stroke-linejoin="round" /></g><g clip-path="url(#c7)"><path d="M560.50,252.00 C561.13,252.50 562.88,252.33 564.30,255.00 C565.72,257.67 567.25,263.97 569.00,268.00 C570.75,272.03 572.97,275.20 574.80,279.20 C576.63,283.20 578.13,287.97 580.00,292.00 C581.87,296.03 584.17,299.57 586.00,303.40 C587.83,307.23 590.33,312.23 591.00,315.00 C591.67,317.77 591.33,319.00 590.00,320.00 C588.67,321.00 585.50,321.00 583.00,321.00 C580.50,321.00 577.50,320.33 575.00,320.00 C572.50,319.67 568.83,322.33 568.00,319.00 C567.17,315.67 570.00,305.67 570.00,300.00 C570.00,294.33 569.00,290.33 568.00,285.00 C567.00,279.67 564.67,270.83 564.00,268.00 Z" fill="#20c0ff" fill-opacity="1.00" /><path d="M561.00,254.00 C561.67,256.67 563.50,264.45 565.00,270.00 C566.50,275.55 568.17,282.13 570.00,287.30 C571.83,292.47 574.12,296.38 576.00,301.00 C577.88,305.62 580.42,312.67 581.30,315.00" fill="none" stroke="#40ff50" stroke-width="1.30" stroke-opacity="0.85" stroke-linecap="round" stroke-linejoin="round" /><path d="M563.00,254.00 C563.67,256.33 565.03,263.50 567.00,268.00 C568.97,272.50 572.30,276.33 574.80,281.00 C577.30,285.67 579.47,290.83 582.00,296.00 C584.53,301.17 588.67,309.33 590.00,312.00" fill="none" stroke="#0a60ff" stroke-width="1.00" stroke-opacity="0.50" stroke-linecap="round" stroke-linejoin="round" /><path d="M601.00,196.00 C599.95,199.73 596.15,211.18 594.70,218.40 C593.25,225.62 592.58,232.53 592.30,239.30 C592.02,246.07 592.05,252.72 593.00,259.00 C593.95,265.28 595.67,271.67 598.00,277.00 C600.33,282.33 604.00,287.67 607.00,291.00 C610.00,294.33 614.50,296.00 616.00,297.00" fill="none" stroke="#40ff40" stroke-width="1.60" stroke-opacity="0.85" stroke-linecap="round" stroke-linejoin="round" /><path d="M602.08,196.00 C601.05,199.73 597.33,211.18 595.90,218.40 C594.47,225.62 593.78,232.53 593.50,239.30 C593.22,246.07 593.29,252.72 594.20,259.00 C595.11,265.28 596.71,271.67 598.96,277.00 C601.21,282.33 604.82,287.67 607.72,291.00 C610.62,294.33 614.92,296.00 616.36,297.00" fill="none" stroke="#ff3010" stroke-width="0.80" stroke-opacity="0.85" stroke-linecap="round" stroke-linejoin="round" /><path d="M605.50,196.00 C604.53,199.73 601.07,211.18 599.70,218.40 C598.33,225.62 597.58,232.53 597.30,239.30 C597.02,246.07 597.22,252.72 598.00,259.00 C598.78,265.28 600.00,271.67 602.00,277.00 C604.00,282.33 607.42,287.67 610.00,291.00 C612.58,294.33 616.25,296.00 617.50,297.00" fill="none" stroke="#40ff40" stroke-width="1.30" stroke-opacity="0.85" stroke-linecap="round" stroke-linejoin="round" /><path d="M606.58,196.00 C605.63,199.73 602.25,211.18 600.90,218.40 C599.55,225.62 598.78,232.53 598.50,239.30 C598.22,246.07 598.46,252.72 599.20,259.00 C599.94,265.28 601.04,271.67 602.96,277.00 C604.88,282.33 608.24,287.67 610.72,291.00 C613.20,294.33 616.67,296.00 617.86,297.00" fill="none" stroke="#ff3010" stroke-width="0.70" stroke-opacity="0.85" stroke-linecap="round" stroke-linejoin="round" /><path d="M610.00,196.00 C609.12,199.73 605.98,211.18 604.70,218.40 C603.42,225.62 602.58,232.53 602.30,239.30 C602.02,246.07 602.38,252.72 603.00,259.00 C603.62,265.28 604.33,271.67 606.00,277.00 C607.67,282.33 610.83,287.67 613.00,291.00 C615.17,294.33 618.00,296.00 619.00,297.00" fill="none" stroke="#40ff40" stroke-width="1.20" stroke-opacity="0.85" stroke-linecap="round" stroke-linejoin="round" /><path d="M611.08,196.00 C610.22,199.73 607.16,211.18 605.90,218.40 C604.64,225.62 603.78,232.53 603.50,239.30 C603.22,246.07 603.62,252.72 604.20,259.00 C604.78,265.28 605.37,271.67 606.96,277.00 C608.55,282.33 611.65,287.67 613.72,291.00 C615.79,294.33 618.42,296.00 619.36,297.00" fill="none" stroke="#ff3010" stroke-width="0.70" stroke-opacity="0.85" stroke-linecap="round" stroke-linejoin="round" /><path d="M615.40,196.00 C614.62,199.73 611.88,211.18 610.70,218.40 C609.52,225.62 608.58,232.53 608.30,239.30 C608.02,246.07 608.58,252.72 609.00,259.00 C609.42,265.28 609.53,271.67 610.80,277.00 C612.07,282.33 614.93,287.67 616.60,291.00 C618.27,294.33 620.10,296.00 620.80,297.00" fill="none" stroke="#30e090" stroke-width="1.20" stroke-opacity="0.85" stroke-linecap="round" stroke-linejoin="round" /><path d="M619.00,196.00 C618.28,199.73 615.82,211.18 614.70,218.40 C613.58,225.62 612.58,232.53 612.30,239.30 C612.02,246.07 612.72,252.72 613.00,259.00 C613.28,265.28 613.00,271.67 614.00,277.00 C615.00,282.33 617.67,287.67 619.00,291.00 C620.33,294.33 621.50,296.00 622.00,297.00" fill="none" stroke="#40ff40" stroke-width="1.40" stroke-opacity="0.85" stroke-linecap="round" stroke-linejoin="round" /><path d="M620.80,196.00 C620.12,199.73 617.78,211.18 616.70,218.40 C615.62,225.62 614.58,232.53 614.30,239.30 C614.02,246.07 614.78,252.72 615.00,259.00 C615.22,265.28 614.73,271.67 615.60,277.00 C616.47,282.33 619.03,287.67 620.20,291.00 C621.37,294.33 622.20,296.00 622.60,297.00" fill="none" stroke="#ff3010" stroke-width="0.80" stroke-opacity="0.85" stroke-linecap="round" stroke-linejoin="round" /><circle cx="603.0" cy="226.0" r="1.0" fill="#ff3010"/><circle cx="606.0" cy="236.0" r="1.0" fill="#40ff40"/><circle cx="609.0" cy="246.0" r="1.0" fill="#ff3010"/><circle cx="605.0" cy="252.0" r="1.0" fill="#40ff40"/><circle cx="611.0" cy="231.0" r="1.0" fill="#30e0a0"/><circle cx="604.0" cy="244.0" r="1.0" fill="#ff3010"/><circle cx="610.0" cy="262.0" r="1.0" fill="#40ff40"/><circle cx="607.0" cy="270.0" r="1.0" fill="#ff3010"/><circle cx="613.0" cy="275.0" r="1.0" fill="#30e0ff"/><path d="M595.00,248.00 C596.50,248.67 601.00,249.67 604.00,252.00 C607.00,254.33 610.67,257.33 613.00,262.00 C615.33,266.67 617.50,275.00 618.00,280.00 C618.50,285.00 617.67,290.67 616.00,292.00 C614.33,293.33 610.83,290.67 608.00,288.00 C605.17,285.33 601.33,280.33 599.00,276.00 C596.67,271.67 594.83,264.33 594.00,262.00 Z" fill="#40f0a0" fill-opacity="0.45" /><path d="M621.00,196.00 C620.92,199.17 620.85,209.17 620.50,215.00 C620.15,220.83 619.43,225.60 618.90,231.00 C618.37,236.40 617.78,241.73 617.30,247.40 C616.82,253.07 616.05,258.73 616.00,265.00 C615.95,271.27 616.00,279.67 617.00,285.00 C618.00,290.33 619.33,294.33 622.00,297.00 C624.67,299.67 629.13,301.00 633.00,301.00 C636.87,301.00 641.42,299.33 645.20,297.00 C648.98,294.67 652.78,291.17 655.70,287.00 C658.62,282.83 660.95,277.75 662.70,272.00 C664.45,266.25 665.90,258.67 666.20,252.50 C666.50,246.33 665.53,240.42 664.50,235.00 C663.47,229.58 661.42,224.67 660.00,220.00 C658.58,215.33 657.00,211.00 656.00,207.00 C655.00,203.00 654.33,197.83 654.00,196.00 Z" fill="#0a5afa" fill-opacity="1.00" /><path d="M640.00,210.00 C642.00,211.33 648.67,213.83 652.00,218.00 C655.33,222.17 658.50,228.83 660.00,235.00 C661.50,241.17 661.83,248.83 661.00,255.00 C660.17,261.17 657.67,267.50 655.00,272.00 C652.33,276.50 648.33,279.83 645.00,282.00 C641.67,284.17 636.50,287.83 635.00,285.00 C633.50,282.17 635.17,271.67 636.00,265.00 C636.83,258.33 639.08,251.67 640.00,245.00 C640.92,238.33 641.25,228.33 641.50,225.00 Z" fill="#1220e6" fill-opacity="0.90" /><path d="M619.00,215.00 C620.17,214.83 624.50,209.83 626.00,214.00 C627.50,218.17 628.33,232.00 628.00,240.00 C627.67,248.00 624.50,254.50 624.00,262.00 C623.50,269.50 625.83,281.67 625.00,285.00 C624.17,288.33 620.25,287.00 619.00,282.00 C617.75,277.00 617.75,259.50 617.50,255.00 Z" fill="#10b0ff" fill-opacity="0.85" /><path d="M638.20,196.00 C636.87,199.17 631.95,209.17 630.20,215.00 C628.45,220.83 627.70,225.60 627.70,231.00 C627.70,236.40 628.72,243.32 630.20,247.40 C631.68,251.48 634.63,253.23 636.60,255.50 C638.57,257.77 641.10,260.08 642.00,261.00" fill="none" stroke="#30e8ff" stroke-width="2.70" stroke-opacity="0.35" stroke-linecap="round" stroke-linejoin="round" /><path d="M638.20,196.00 C636.87,199.17 631.95,209.17 630.20,215.00 C628.45,220.83 627.70,225.60 627.70,231.00 C627.70,236.40 628.72,243.32 630.20,247.40 C631.68,251.48 634.63,253.23 636.60,255.50 C638.57,257.77 641.10,260.08 642.00,261.00" fill="none" stroke="#60ff40" stroke-width="1.90" stroke-opacity="0.65" stroke-linecap="round" stroke-linejoin="round" /><path d="M638.20,196.00 C636.87,199.17 631.95,209.17 630.20,215.00 C628.45,220.83 627.70,225.60 627.70,231.00 C627.70,236.40 628.72,243.32 630.20,247.40 C631.68,251.48 634.63,253.23 636.60,255.50 C638.57,257.77 641.10,260.08 642.00,261.00" fill="none" stroke="#ff2810" stroke-width="0.90" stroke-opacity="0.95" stroke-linecap="round" stroke-linejoin="round" /><path d="M643.00,199.00 C641.83,201.67 637.67,209.00 636.00,215.00 C634.33,221.00 633.17,229.17 633.00,235.00 C632.83,240.83 634.67,247.50 635.00,250.00" fill="none" stroke="#ff2810" stroke-width="0.70" stroke-opacity="0.95" stroke-linecap="round" stroke-linejoin="round" /><path d="M646.00,203.00 C647.00,206.17 650.50,215.00 652.00,222.00 C653.50,229.00 655.33,237.83 655.00,245.00 C654.67,252.17 652.50,259.17 650.00,265.00 C647.50,270.83 643.67,275.50 640.00,280.00 C636.33,284.50 630.00,290.00 628.00,292.00" fill="none" stroke="#30c8ff" stroke-width="1.30" stroke-opacity="0.45" stroke-linecap="round" stroke-linejoin="round" /><path d="M648.50,203.00 C649.33,206.17 652.25,215.00 653.50,222.00 C654.75,229.00 656.50,237.83 656.00,245.00 C655.50,252.17 653.00,259.17 650.50,265.00 C648.00,270.83 644.42,275.50 641.00,280.00 C637.58,284.50 631.83,290.00 630.00,292.00" fill="none" stroke="#30c8ff" stroke-width="1.30" stroke-opacity="0.45" stroke-linecap="round" stroke-linejoin="round" /><path d="M651.00,203.00 C651.67,206.17 654.00,215.00 655.00,222.00 C656.00,229.00 657.67,237.83 657.00,245.00 C656.33,252.17 653.50,259.17 651.00,265.00 C648.50,270.83 645.17,275.50 642.00,280.00 C638.83,284.50 633.67,290.00 632.00,292.00" fill="none" stroke="#30c8ff" stroke-width="1.30" stroke-opacity="0.45" stroke-linecap="round" stroke-linejoin="round" /><path d="M653.50,203.00 C654.00,206.17 655.75,215.00 656.50,222.00 C657.25,229.00 658.83,237.83 658.00,245.00 C657.17,252.17 654.00,259.17 651.50,265.00 C649.00,270.83 645.92,275.50 643.00,280.00 C640.08,284.50 635.50,290.00 634.00,292.00" fill="none" stroke="#30c8ff" stroke-width="1.30" stroke-opacity="0.45" stroke-linecap="round" stroke-linejoin="round" /><path d="M656.00,203.00 C656.33,206.17 657.50,215.00 658.00,222.00 C658.50,229.00 660.00,237.83 659.00,245.00 C658.00,252.17 654.50,259.17 652.00,265.00 C649.50,270.83 646.67,275.50 644.00,280.00 C641.33,284.50 637.33,290.00 636.00,292.00" fill="none" stroke="#30c8ff" stroke-width="1.30" stroke-opacity="0.45" stroke-linecap="round" stroke-linejoin="round" /><path d="M658.50,203.00 C658.67,206.17 659.25,215.00 659.50,222.00 C659.75,229.00 661.17,237.83 660.00,245.00 C658.83,252.17 655.00,259.17 652.50,265.00 C650.00,270.83 647.42,275.50 645.00,280.00 C642.58,284.50 639.17,290.00 638.00,292.00" fill="none" stroke="#30c8ff" stroke-width="1.30" stroke-opacity="0.45" stroke-linecap="round" stroke-linejoin="round" /><path d="M622.00,262.00 C623.33,264.17 626.67,271.67 630.00,275.00 C633.33,278.33 637.83,281.17 642.00,282.00 C646.17,282.83 652.83,280.33 655.00,280.00" fill="none" stroke="#40e0ff" stroke-width="1.20" stroke-opacity="0.55" stroke-linecap="round" stroke-linejoin="round" /><path d="M624.00,266.00 C625.33,267.83 628.83,274.17 632.00,277.00 C635.17,279.83 639.17,282.00 643.00,283.00 C646.83,284.00 653.00,283.00 655.00,283.00" fill="none" stroke="#40e0ff" stroke-width="1.20" stroke-opacity="0.55" stroke-linecap="round" stroke-linejoin="round" /><path d="M626.00,270.00 C627.33,271.50 631.00,276.67 634.00,279.00 C637.00,281.33 640.50,282.83 644.00,284.00 C647.50,285.17 653.17,285.67 655.00,286.00" fill="none" stroke="#40e0ff" stroke-width="1.20" stroke-opacity="0.55" stroke-linecap="round" stroke-linejoin="round" /><path d="M628.00,274.00 C629.33,275.17 633.17,279.17 636.00,281.00 C638.83,282.83 641.83,283.67 645.00,285.00 C648.17,286.33 653.33,288.33 655.00,289.00" fill="none" stroke="#40e0ff" stroke-width="1.20" stroke-opacity="0.55" stroke-linecap="round" stroke-linejoin="round" /><ellipse cx="640.5" cy="261.5" rx="2.8" ry="1.8" fill="#ff6a10"/><path d="M620.00,285.00 C621.33,284.50 625.00,284.33 628.00,282.00 C631.00,279.67 635.17,274.33 638.00,271.00 C640.83,267.67 643.83,263.50 645.00,262.00" fill="none" stroke="#30e8ff" stroke-width="2.60" stroke-opacity="0.35" stroke-linecap="round" stroke-linejoin="round" /><path d="M620.00,285.00 C621.33,284.50 625.00,284.33 628.00,282.00 C631.00,279.67 635.17,274.33 638.00,271.00 C640.83,267.67 643.83,263.50 645.00,262.00" fill="none" stroke="#60ff40" stroke-width="1.80" stroke-opacity="0.65" stroke-linecap="round" stroke-linejoin="round" /><path d="M620.00,285.00 C621.33,284.50 625.00,284.33 628.00,282.00 C631.00,279.67 635.17,274.33 638.00,271.00 C640.83,267.67 643.83,263.50 645.00,262.00" fill="none" stroke="#ff2810" stroke-width="0.80" stroke-opacity="0.95" stroke-linecap="round" stroke-linejoin="round" /><path d="M625.00,290.00 C626.67,289.67 631.67,289.67 635.00,288.00 C638.33,286.33 642.17,283.33 645.00,280.00 C647.83,276.67 650.83,270.00 652.00,268.00" fill="none" stroke="#30e0ff" stroke-width="1.50" stroke-opacity="0.70" stroke-linecap="round" stroke-linejoin="round" /><path d="M658.00,205.50 C657.45,206.75 654.53,209.75 654.70,213.00 C654.87,216.25 657.37,221.17 659.00,225.00 C660.63,228.83 663.30,231.42 664.50,236.00 C665.70,240.58 666.50,246.83 666.20,252.50 C665.90,258.17 664.45,264.75 662.70,270.00 C660.95,275.25 658.62,280.17 655.70,284.00 C652.78,287.83 648.98,290.25 645.20,293.00 C641.42,295.75 633.87,299.17 633.00,300.50 C632.13,301.83 636.50,302.08 640.00,301.00 C643.50,299.92 649.33,297.72 654.00,294.00 C658.67,290.28 664.50,284.20 668.00,278.70 C671.50,273.20 673.83,268.28 675.00,261.00 C676.17,253.72 675.50,242.17 675.00,235.00 C674.50,227.83 673.50,222.50 672.00,218.00 C670.50,213.50 667.00,209.67 666.00,208.00 Z" fill="#ffffff" fill-opacity="1.00" /><circle cx="662.0" cy="218.0" r="1.1" fill="#40ff40"/><circle cx="666.0" cy="230.0" r="1.1" fill="#ff3010"/><circle cx="669.0" cy="244.0" r="1.1" fill="#ff3010"/><circle cx="670.0" cy="256.0" r="1.1" fill="#40ff40"/><circle cx="666.0" cy="268.0" r="1.1" fill="#40ff40"/><circle cx="661.0" cy="280.0" r="1.1" fill="#30e0a0"/><circle cx="652.0" cy="290.0" r="1.1" fill="#40ff40"/><circle cx="668.0" cy="236.0" r="1.1" fill="#40ff40"/><circle cx="671.0" cy="266.0" r="1.1" fill="#ff3010"/><path d="M668.00,196.00 C668.83,198.33 671.67,203.50 673.00,210.00 C674.33,216.50 675.58,226.50 676.00,235.00 C676.42,243.50 676.67,253.67 675.50,261.00 C674.33,268.33 672.42,273.33 669.00,279.00 C665.58,284.67 659.67,291.17 655.00,295.00 C650.33,298.83 645.83,300.17 641.00,302.00 C636.17,303.83 628.17,304.83 626.00,306.00 C623.83,307.17 625.17,309.00 628.00,309.00 C630.83,309.00 637.83,307.67 643.00,306.00 C648.17,304.33 653.83,302.83 659.00,299.00 C664.17,295.17 670.17,289.17 674.00,283.00 C677.83,276.83 680.50,270.00 682.00,262.00 C683.50,254.00 683.33,243.33 683.00,235.00 C682.67,226.67 681.00,218.50 680.00,212.00 C679.00,205.50 677.50,198.67 677.00,196.00 Z" fill="#20d0ff" fill-opacity="0.70" /><path d="M668.00,196.00 C668.83,198.33 671.67,203.50 673.00,210.00 C674.33,216.50 675.58,226.50 676.00,235.00 C676.42,243.50 676.67,253.67 675.50,261.00 C674.33,268.33 672.42,273.33 669.00,279.00 C665.58,284.67 659.67,291.17 655.00,295.00 C650.33,298.83 645.83,300.17 641.00,302.00 C636.17,303.83 628.50,305.33 626.00,306.00" fill="none" stroke="#40ff40" stroke-width="2.20" stroke-opacity="0.92" stroke-linecap="round" stroke-linejoin="round" /><path d="M670.00,196.00 C670.83,198.33 673.67,203.50 675.00,210.00 C676.33,216.50 677.58,226.27 678.00,235.00 C678.42,243.73 678.67,254.83 677.50,262.40 C676.33,269.97 674.62,274.73 671.00,280.40 C667.38,286.07 660.67,292.57 655.80,296.40 C650.93,300.23 646.63,301.57 641.80,303.40 C636.97,305.23 629.30,306.73 626.80,307.40" fill="none" stroke="#ff3010" stroke-width="1.30" stroke-opacity="0.92" stroke-linecap="round" stroke-linejoin="round" /><path d="M672.30,196.00 C673.13,198.33 675.97,203.50 677.30,210.00 C678.63,216.50 679.88,226.00 680.30,235.00 C680.72,244.00 680.97,256.18 679.80,264.01 C678.63,271.84 677.15,276.34 673.30,282.01 C669.45,287.68 661.82,294.18 656.72,298.01 C651.62,301.84 647.55,303.18 642.72,305.01 C637.89,306.84 630.22,308.34 627.72,309.01" fill="none" stroke="#40ff40" stroke-width="2.00" stroke-opacity="0.92" stroke-linecap="round" stroke-linejoin="round" /><path d="M674.40,196.00 C675.23,198.33 678.07,203.50 679.40,210.00 C680.73,216.50 681.98,225.75 682.40,235.00 C682.82,244.25 683.07,257.40 681.90,265.48 C680.73,273.56 679.46,277.81 675.40,283.48 C671.34,289.15 662.87,295.65 657.56,299.48 C652.25,303.31 648.39,304.65 643.56,306.48 C638.73,308.31 631.06,309.81 628.56,310.48" fill="none" stroke="#ff3010" stroke-width="1.00" stroke-opacity="0.92" stroke-linecap="round" stroke-linejoin="round" /><path d="M676.20,196.00 C677.03,198.33 679.87,203.50 681.20,210.00 C682.53,216.50 683.78,225.54 684.20,235.00 C684.62,244.46 684.87,258.45 683.70,266.74 C682.53,275.03 681.44,279.07 677.20,284.74 C672.96,290.41 663.77,296.91 658.28,300.74 C652.79,304.57 649.11,305.91 644.28,307.74 C639.45,309.57 631.78,311.07 629.28,311.74" fill="none" stroke="#20d0ff" stroke-width="1.60" stroke-opacity="0.92" stroke-linecap="round" stroke-linejoin="round" /><circle cx="690.0" cy="226.0" r="0.8" fill="#ff3010"/><circle cx="691.0" cy="240.0" r="0.8" fill="#ff3010"/><circle cx="689.0" cy="252.0" r="0.8" fill="#ff3010"/><circle cx="686.0" cy="268.0" r="0.8" fill="#ff3010"/><circle cx="680.0" cy="283.0" r="0.8" fill="#ff3010"/><circle cx="683.0" cy="286.0" r="0.8" fill="#ff3010"/><circle cx="695.0" cy="212.0" r="0.8" fill="#ff3010"/><circle cx="700.0" cy="247.0" r="0.8" fill="#ff3010"/><circle cx="697.0" cy="270.0" r="0.8" fill="#ff3010"/><path d="M679.00,282.00 C679.67,281.50 681.83,279.00 683.00,279.00 C684.17,279.00 685.83,280.17 686.00,282.00 C686.17,283.83 685.17,288.33 684.00,290.00 C682.83,291.67 679.83,291.67 679.00,292.00 Z" fill="#ff2a10" fill-opacity="0.90" /><path d="M680.50,284.00 C680.92,283.83 682.58,282.33 683.00,283.00 C683.42,283.67 683.42,287.00 683.00,288.00 C682.58,289.00 680.92,288.83 680.50,289.00 Z" fill="#50ff40" fill-opacity="0.90" /><path d="M703.00,196.00 C703.50,199.17 705.08,208.50 706.00,215.00 C706.92,221.50 708.17,227.17 708.50,235.00 C708.83,242.83 708.33,254.50 708.00,262.00 C707.67,269.50 707.00,273.67 706.50,280.00 C706.00,286.33 705.75,293.33 705.00,300.00 C704.25,306.67 702.83,312.50 702.00,320.00 C701.17,327.50 698.00,340.83 700.00,345.00 C702.00,349.17 711.67,369.83 714.00,345.00 C716.33,320.17 714.00,220.83 714.00,196.00 Z" fill="#50f0a0" fill-opacity="0.90" /><path d="M709.50,196.00 C709.75,200.00 710.58,211.00 711.00,220.00 C711.42,229.00 712.08,240.83 712.00,250.00 C711.92,259.17 711.17,266.67 710.50,275.00 C709.83,283.33 708.92,292.50 708.00,300.00 C707.08,307.50 705.83,312.50 705.00,320.00 C704.17,327.50 701.50,340.83 703.00,345.00 C704.50,349.17 712.17,369.83 714.00,345.00 C715.83,320.17 714.00,220.83 714.00,196.00 Z" fill="#20c8ff" fill-opacity="0.85" /><path d="M708.00,290.00 C708.67,288.67 711.00,283.33 712.00,282.00 C713.00,280.67 713.67,271.50 714.00,282.00 C714.33,292.50 715.83,334.50 714.00,345.00 C712.17,355.50 704.50,349.17 703.00,345.00 C701.50,340.83 704.67,324.17 705.00,320.00 Z" fill="#0a70fa" fill-opacity="0.75" /><path d="M701.00,200.00 C701.58,204.17 703.67,216.67 704.50,225.00 C705.33,233.33 705.92,242.17 706.00,250.00 C706.08,257.83 705.50,265.00 705.00,272.00 C704.50,279.00 704.17,286.50 703.00,292.00 C701.83,297.50 698.83,302.83 698.00,305.00" fill="none" stroke="#40ff40" stroke-width="1.20" stroke-opacity="0.80" stroke-linecap="round" stroke-linejoin="round" /><path d="M709.00,280.00 C708.67,283.33 707.83,292.50 707.00,300.00 C706.17,307.50 704.83,317.67 704.00,325.00 C703.17,332.33 702.33,340.83 702.00,344.00" fill="none" stroke="#e04020" stroke-width="0.80" stroke-opacity="0.70" stroke-linecap="round" stroke-linejoin="round" /><ellipse cx="592.5" cy="300" rx="2.2" ry="4.6" fill="#ff2010" transform="rotate(-20 592.5 300)"/><path d="M598.00,311.00 C599.00,309.83 601.95,306.75 604.00,304.00 C606.05,301.25 608.18,295.83 610.30,294.50 C612.42,293.17 615.75,294.08 616.70,296.00 C617.65,297.92 617.12,303.17 616.00,306.00 C614.88,308.83 612.67,311.67 610.00,313.00 C607.33,314.33 601.67,313.83 600.00,314.00 Z" fill="#ff2a10" fill-opacity="1.00" /><path d="M606.00,305.00 C606.83,304.00 609.83,299.33 611.00,299.00 C612.17,298.67 613.33,301.50 613.00,303.00 C612.67,304.50 609.67,307.17 609.00,308.00 Z" fill="#60ff30" fill-opacity="0.90" /><path d="M588.00,322.00 C590.00,321.75 595.50,320.83 600.00,320.50 C604.50,320.17 608.33,320.33 615.00,320.00 C621.67,319.67 631.67,319.17 640.00,318.50 C648.33,317.83 657.83,317.92 665.00,316.00 C672.17,314.08 678.17,310.33 683.00,307.00 C687.83,303.67 690.83,299.83 694.00,296.00 C697.17,292.17 700.00,288.00 702.00,284.00 C704.00,280.00 704.83,275.67 706.00,272.00 C707.17,268.33 707.67,264.33 709.00,262.00 C710.33,259.67 713.17,244.17 714.00,258.00 C714.83,271.83 718.67,330.50 714.00,345.00 C709.33,359.50 694.17,344.67 686.00,345.00 C677.83,345.33 671.83,346.50 665.00,347.00 C658.17,347.50 651.67,347.17 645.00,348.00 C638.33,348.83 632.50,350.83 625.00,352.00 C617.50,353.17 605.17,356.17 600.00,355.00 C594.83,353.83 595.00,346.67 594.00,345.00 Z" fill="#12a0ff" fill-opacity="1.00" /><path d="M596.00,325.00 C600.83,324.83 614.33,324.67 625.00,324.00 C635.67,323.33 650.00,323.00 660.00,321.00 C670.00,319.00 678.33,315.83 685.00,312.00 C691.67,308.17 695.17,303.33 700.00,298.00 C704.83,292.67 711.67,283.00 714.00,280.00" fill="none" stroke="#0850f6" stroke-width="1.80" stroke-opacity="0.70" stroke-linecap="round" stroke-linejoin="round" /><path d="M596.00,329.50 C600.83,329.25 614.33,328.75 625.00,328.00 C635.67,327.25 650.00,326.83 660.00,325.00 C670.00,323.17 678.33,320.33 685.00,317.00 C691.67,313.67 695.17,309.67 700.00,305.00 C704.83,300.33 711.67,291.67 714.00,289.00" fill="none" stroke="#40e8ff" stroke-width="1.80" stroke-opacity="0.70" stroke-linecap="round" stroke-linejoin="round" /><path d="M596.00,334.00 C600.83,333.67 614.33,332.83 625.00,332.00 C635.67,331.17 650.00,330.67 660.00,329.00 C670.00,327.33 678.33,324.83 685.00,322.00 C691.67,319.17 695.17,316.00 700.00,312.00 C704.83,308.00 711.67,300.33 714.00,298.00" fill="none" stroke="#0850f6" stroke-width="1.80" stroke-opacity="0.70" stroke-linecap="round" stroke-linejoin="round" /><path d="M596.00,338.50 C600.83,338.08 614.33,336.92 625.00,336.00 C635.67,335.08 650.00,334.50 660.00,333.00 C670.00,331.50 678.33,329.33 685.00,327.00 C691.67,324.67 695.17,322.33 700.00,319.00 C704.83,315.67 711.67,309.00 714.00,307.00" fill="none" stroke="#40e8ff" stroke-width="1.80" stroke-opacity="0.70" stroke-linecap="round" stroke-linejoin="round" /><path d="M596.00,343.00 C600.83,342.50 614.33,341.00 625.00,340.00 C635.67,339.00 650.00,338.33 660.00,337.00 C670.00,335.67 678.33,333.83 685.00,332.00 C691.67,330.17 695.17,328.67 700.00,326.00 C704.83,323.33 711.67,317.67 714.00,316.00" fill="none" stroke="#0850f6" stroke-width="1.80" stroke-opacity="0.70" stroke-linecap="round" stroke-linejoin="round" /><path d="M596.00,347.50 C600.83,346.92 614.33,345.08 625.00,344.00 C635.67,342.92 650.00,342.17 660.00,341.00 C670.00,339.83 678.33,338.33 685.00,337.00 C691.67,335.67 695.17,335.00 700.00,333.00 C704.83,331.00 711.67,326.33 714.00,325.00" fill="none" stroke="#40e8ff" stroke-width="1.80" stroke-opacity="0.70" stroke-linecap="round" stroke-linejoin="round" /><path d="M590.00,322.00 C594.17,321.83 606.67,321.42 615.00,321.00 C623.33,320.58 631.67,320.17 640.00,319.50 C648.33,318.83 657.83,318.92 665.00,317.00 C672.17,315.08 678.17,311.33 683.00,308.00 C687.83,304.67 690.83,300.83 694.00,297.00 C697.17,293.17 700.00,289.00 702.00,285.00 C704.00,281.00 704.83,276.67 706.00,273.00 C707.17,269.33 708.50,264.67 709.00,263.00" fill="none" stroke="#40ff40" stroke-width="1.30" stroke-opacity="0.75" stroke-linecap="round" stroke-linejoin="round" /><path d="M589.00,317.50 C590.83,317.08 595.67,315.67 600.00,315.00 C604.33,314.33 610.00,313.92 615.00,313.50 C620.00,313.08 625.00,312.83 630.00,312.50 C635.00,312.17 640.00,312.33 645.00,311.50 C650.00,310.67 656.17,309.08 660.00,307.50 C663.83,305.92 665.33,305.58 668.00,302.00 C670.67,298.42 673.83,291.33 676.00,286.00 C678.17,280.67 680.17,272.67 681.00,270.00" fill="none" stroke="#ff3010" stroke-width="0.80" stroke-opacity="0.70" stroke-linecap="round" stroke-linejoin="round" /><path d="M660.00,316.00 C661.33,315.33 665.50,312.50 668.00,312.00 C670.50,311.50 675.00,312.00 675.00,313.00 C675.00,314.00 669.17,317.17 668.00,318.00 Z" fill="#50ff40" fill-opacity="0.85" /><path d="M678.00,281.00 C679.00,280.17 682.67,275.83 684.00,276.00 C685.33,276.17 686.50,279.67 686.00,282.00 C685.50,284.33 682.50,288.50 681.00,290.00 C679.50,291.50 677.67,290.83 677.00,291.00 Z" fill="#ff2a10" fill-opacity="0.85" /><path d="M670.00,324.00 C673.00,322.67 683.00,319.67 688.00,316.00 C693.00,312.33 696.67,306.33 700.00,302.00 C703.33,297.67 705.67,292.83 708.00,290.00 C710.33,287.17 713.00,276.33 714.00,285.00 C715.00,293.67 718.00,332.83 714.00,342.00 C710.00,351.17 696.00,341.33 690.00,340.00 C684.00,338.67 680.00,335.00 678.00,334.00 Z" fill="#0a40f4" fill-opacity="0.70" /><path d="M640.00,327.00 C642.50,326.67 649.67,325.00 655.00,325.00 C660.33,325.00 667.83,325.50 672.00,327.00 C676.17,328.50 681.17,332.17 680.00,334.00 C678.83,335.83 670.33,337.50 665.00,338.00 C659.67,338.50 650.83,337.17 648.00,337.00 Z" fill="#0a48f6" fill-opacity="0.75" /><path d="M596.5,352 C600,341 620,331.5 640,330.5 C650,330 651,338 642,343 C630,349 608,356 596.5,352 Z" fill="#0826ee"/><path d="M597.3,350 C602,340 622,333 646,332" fill="none" stroke="#ff3010" stroke-width="1.40" stroke-opacity="0.95" stroke-linecap="round" stroke-linejoin="round" /><path d="M598,353 C610,352 630,347 646,338" fill="none" stroke="#ff3010" stroke-width="1.10" stroke-opacity="0.90" stroke-linecap="round" stroke-linejoin="round" /><path d="M603,347 C610,340 625,336 640,335" fill="none" stroke="#40ff40" stroke-width="1.00" stroke-opacity="0.80" stroke-linecap="round" stroke-linejoin="round" /><path d="M600,355 C615,355 640,348 655,338" fill="none" stroke="#40ff40" stroke-width="1.00" stroke-opacity="0.70" stroke-linecap="round" stroke-linejoin="round" /><path d="M564.60,362.00 C564.42,359.17 563.27,349.50 563.50,345.00 C563.73,340.50 564.52,337.77 566.00,335.00 C567.48,332.23 569.52,330.77 572.40,328.40 C575.28,326.03 580.20,322.20 583.30,320.80 C586.40,319.40 589.63,317.47 591.00,320.00 C592.37,322.53 591.42,329.00 591.50,336.00 C591.58,343.00 591.50,357.67 591.50,362.00 Z" fill="#1028ec" fill-opacity="1.00" /><path d="M562.50,362.00 C562.42,359.17 561.42,350.00 562.00,345.00 C562.58,340.00 564.00,335.50 566.00,332.00 C568.00,328.50 571.00,326.17 574.00,324.00 C577.00,321.83 581.00,320.00 584.00,319.00 C587.00,318.00 590.67,318.17 592.00,318.00" fill="none" stroke="#ff3010" stroke-width="0.90" stroke-opacity="0.85" stroke-linecap="round" stroke-linejoin="round" /><path d="M561.30,362.00 C561.22,359.17 560.27,350.00 560.80,345.00 C561.33,340.00 562.47,335.70 564.50,332.00 C566.53,328.30 569.75,325.17 573.00,322.80 C576.25,320.43 580.83,318.77 584.00,317.80 C587.17,316.83 590.67,317.13 592.00,317.00" fill="none" stroke="#40ff40" stroke-width="0.90" stroke-opacity="0.85" stroke-linecap="round" stroke-linejoin="round" /><path d="M560.10,362.00 C560.02,359.17 559.12,350.00 559.60,345.00 C560.08,340.00 560.93,335.90 563.00,332.00 C565.07,328.10 568.50,324.17 572.00,321.60 C575.50,319.03 580.67,317.53 584.00,316.60 C587.33,315.67 590.67,316.10 592.00,316.00" fill="none" stroke="#ff3010" stroke-width="0.90" stroke-opacity="0.85" stroke-linecap="round" stroke-linejoin="round" /><path d="M558.90,362.00 C558.82,359.17 557.97,350.00 558.40,345.00 C558.83,340.00 559.40,336.10 561.50,332.00 C563.60,327.90 567.25,323.17 571.00,320.40 C574.75,317.63 580.50,316.30 584.00,315.40 C587.50,314.50 590.67,315.07 592.00,315.00" fill="none" stroke="#30e0ff" stroke-width="0.90" stroke-opacity="0.85" stroke-linecap="round" stroke-linejoin="round" /><path d="M592.00,319.00 C592.00,322.50 591.92,332.83 592.00,340.00 C592.08,347.17 592.42,358.33 592.50,362.00" fill="none" stroke="#40ff40" stroke-width="1.60" stroke-opacity="0.90" stroke-linecap="round" stroke-linejoin="round" /><path d="M592.30,319.00 C592.30,322.50 592.22,332.83 592.30,340.00 C592.38,347.17 592.72,358.33 592.80,362.00" fill="none" stroke="#ff3010" stroke-width="0.70" stroke-opacity="0.90" stroke-linecap="round" stroke-linejoin="round" /><path d="M593.50,333.00 C593.92,332.67 595.17,330.17 596.00,331.00 C596.83,331.83 598.33,335.67 598.50,338.00 C598.67,340.33 597.75,344.00 597.00,345.00 C596.25,346.00 594.50,344.17 594.00,344.00 Z" fill="#ffffff" fill-opacity="1.00" /><path d="M627.00,349.00 C630.00,348.58 638.67,347.00 645.00,346.50 C651.33,346.00 658.17,346.58 665.00,346.00 C671.83,345.42 680.17,343.67 686.00,343.00 C691.83,342.33 695.33,342.33 700.00,342.00 C704.67,341.67 711.67,339.67 714.00,341.00 C716.33,342.33 718.00,348.33 714.00,350.00 C710.00,351.67 699.00,350.83 690.00,351.00 C681.00,351.17 668.33,350.75 660.00,351.00 C651.67,351.25 645.50,351.83 640.00,352.50 C634.50,353.17 629.17,354.58 627.00,355.00 Z" fill="#ffffff" fill-opacity="1.00" /><path d="M600.00,363.00 C604.17,362.00 617.83,358.92 625.00,357.00 C632.17,355.08 635.50,352.50 643.00,351.50 C650.50,350.50 658.17,351.25 670.00,351.00 C681.83,350.75 706.67,350.17 714.00,350.00 L714.00,365.00 L600.00,365.00 Z" fill="#0a30f0" fill-opacity="1.00" /><path d="M629.43,363.00 A5.26,4.21 0 0 1 639.95,363.00" fill="none" stroke="#20c0ff" stroke-width="1.10" stroke-opacity="0.70" stroke-linecap="round" stroke-linejoin="round" /><path d="M627.86,363.00 A6.83,6.15 0 0 1 641.53,363.00" fill="none" stroke="#e04020" stroke-width="0.90" stroke-opacity="0.70" stroke-linecap="round" stroke-linejoin="round" /><path d="M639.14,363.00 A5.10,4.08 0 0 1 649.33,363.00" fill="none" stroke="#20c0ff" stroke-width="1.10" stroke-opacity="0.70" stroke-linecap="round" stroke-linejoin="round" /><path d="M650.10,363.00 A4.57,3.66 0 0 1 659.24,363.00" fill="none" stroke="#20c0ff" stroke-width="1.10" stroke-opacity="0.70" stroke-linecap="round" stroke-linejoin="round" /><path d="M648.73,363.00 A5.94,5.35 0 0 1 660.61,363.00" fill="none" stroke="#e04020" stroke-width="0.90" stroke-opacity="0.70" stroke-linecap="round" stroke-linejoin="round" /><path d="M656.49,363.00 A5.98,4.78 0 0 1 668.45,363.00" fill="none" stroke="#20c0ff" stroke-width="1.10" stroke-opacity="0.70" stroke-linecap="round" stroke-linejoin="round" /><path d="M666.11,363.00 A6.31,5.05 0 0 1 678.74,363.00" fill="none" stroke="#20c0ff" stroke-width="1.10" stroke-opacity="0.70" stroke-linecap="round" stroke-linejoin="round" /><path d="M664.22,363.00 A8.21,7.39 0 0 1 680.63,363.00" fill="none" stroke="#e04020" stroke-width="0.90" stroke-opacity="0.70" stroke-linecap="round" stroke-linejoin="round" /><path d="M675.45,363.00 A5.04,4.03 0 0 1 685.52,363.00" fill="none" stroke="#20c0ff" stroke-width="1.10" stroke-opacity="0.70" stroke-linecap="round" stroke-linejoin="round" /><path d="M685.38,363.00 A4.51,3.61 0 0 1 694.39,363.00" fill="none" stroke="#20c0ff" stroke-width="1.10" stroke-opacity="0.70" stroke-linecap="round" stroke-linejoin="round" /><path d="M684.02,363.00 A5.86,5.28 0 0 1 695.75,363.00" fill="none" stroke="#e04020" stroke-width="0.90" stroke-opacity="0.70" stroke-linecap="round" stroke-linejoin="round" /><path d="M692.90,363.00 A5.40,4.32 0 0 1 703.70,363.00" fill="none" stroke="#20c0ff" stroke-width="1.10" stroke-opacity="0.70" stroke-linecap="round" stroke-linejoin="round" /><path d="M702.97,363.00 A5.55,4.44 0 0 1 714.08,363.00" fill="none" stroke="#20c0ff" stroke-width="1.10" stroke-opacity="0.70" stroke-linecap="round" stroke-linejoin="round" /><path d="M701.31,363.00 A7.22,6.50 0 0 1 715.74,363.00" fill="none" stroke="#e04020" stroke-width="0.90" stroke-opacity="0.70" stroke-linecap="round" stroke-linejoin="round" /><path d="M600.00,363.00 C604.17,362.00 617.83,358.92 625.00,357.00 C632.17,355.08 635.50,352.50 643.00,351.50 C650.50,350.50 658.17,351.25 670.00,351.00 C681.83,350.75 706.67,350.17 714.00,350.00" fill="none" stroke="#e03010" stroke-width="0.90" stroke-opacity="0.85" stroke-linecap="round" stroke-linejoin="round" /></g><rect x="11.40" y="12.50" width="162.30" height="162.70" fill="none" stroke="#111" stroke-width="1.15"/><rect x="191.30" y="13.60" width="161.70" height="162.60" fill="none" stroke="#111" stroke-width="1.15"/><rect x="368.80" y="14.20" width="161.70" height="162.40" fill="none" stroke="#111" stroke-width="1.15"/><rect x="548.80" y="14.70" width="161.80" height="162.30" fill="none" stroke="#111" stroke-width="1.15"/><rect x="12.30" y="197.60" width="162.60" height="162.60" fill="none" stroke="#111" stroke-width="1.15"/><rect x="191.90" y="198.40" width="162.20" height="162.40" fill="none" stroke="#111" stroke-width="1.15"/><rect x="369.40" y="199.40" width="162.10" height="161.80" fill="none" stroke="#111" stroke-width="1.15"/><rect x="549.80" y="199.80" width="162.60" height="161.90" fill="none" stroke="#111" stroke-width="1.15"/><path d="M19.81,175.20v-1.90M19.81,12.50v1.90M28.90,175.20v-1.90M28.90,12.50v1.90M38.00,175.20v-1.90M38.00,12.50v1.90M47.09,175.20v-3.40M47.09,12.50v3.40M56.18,175.20v-1.90M56.18,12.50v1.90M65.27,175.20v-1.90M65.27,12.50v1.90M74.37,175.20v-1.90M74.37,12.50v1.90M83.46,175.20v-1.90M83.46,12.50v1.90M92.55,175.20v-3.40M92.55,12.50v3.40M101.64,175.20v-1.90M101.64,12.50v1.90M110.73,175.20v-1.90M110.73,12.50v1.90M119.83,175.20v-1.90M119.83,12.50v1.90M128.92,175.20v-1.90M128.92,12.50v1.90M138.01,175.20v-3.40M138.01,12.50v3.40M147.10,175.20v-1.90M147.10,12.50v1.90M156.20,175.20v-1.90M156.20,12.50v1.90M165.29,175.20v-1.90M165.29,12.50v1.90M11.40,166.16h1.90M173.70,166.16h-1.90M11.40,157.12h1.90M173.70,157.12h-1.90M11.40,148.08h1.90M173.70,148.08h-1.90M11.40,139.04h1.90M173.70,139.04h-1.90M11.40,130.01h3.40M173.70,130.01h-3.40M11.40,120.97h1.90M173.70,120.97h-1.90M11.40,111.93h1.90M173.70,111.93h-1.90M11.40,102.89h1.90M173.70,102.89h-1.90M11.40,93.85h1.90M173.70,93.85h-1.90M11.40,84.81h3.40M173.70,84.81h-3.40M11.40,75.77h1.90M173.70,75.77h-1.90M11.40,66.73h1.90M173.70,66.73h-1.90M11.40,57.69h1.90M173.70,57.69h-1.90M11.40,48.66h1.90M173.70,48.66h-1.90M11.40,39.62h3.40M173.70,39.62h-3.40M11.40,30.58h1.90M173.70,30.58h-1.90M11.40,21.54h1.90M173.70,21.54h-1.90M199.68,176.20v-1.90M199.68,13.60v1.90M208.74,176.20v-1.90M208.74,13.60v1.90M217.80,176.20v-1.90M217.80,13.60v1.90M226.86,176.20v-3.40M226.86,13.60v3.40M235.91,176.20v-1.90M235.91,13.60v1.90M244.97,176.20v-1.90M244.97,13.60v1.90M254.03,176.20v-1.90M254.03,13.60v1.90M263.09,176.20v-1.90M263.09,13.60v1.90M272.15,176.20v-3.40M272.15,13.60v3.40M281.21,176.20v-1.90M281.21,13.60v1.90M290.27,176.20v-1.90M290.27,13.60v1.90M299.33,176.20v-1.90M299.33,13.60v1.90M308.39,176.20v-1.90M308.39,13.60v1.90M317.44,176.20v-3.40M317.44,13.60v3.40M326.50,176.20v-1.90M326.50,13.60v1.90M335.56,176.20v-1.90M335.56,13.60v1.90M344.62,176.20v-1.90M344.62,13.60v1.90M191.30,167.17h1.90M353.00,167.17h-1.90M191.30,158.13h1.90M353.00,158.13h-1.90M191.30,149.10h1.90M353.00,149.10h-1.90M191.30,140.07h1.90M353.00,140.07h-1.90M191.30,131.03h3.40M353.00,131.03h-3.40M191.30,122.00h1.90M353.00,122.00h-1.90M191.30,112.97h1.90M353.00,112.97h-1.90M191.30,103.93h1.90M353.00,103.93h-1.90M191.30,94.90h1.90M353.00,94.90h-1.90M191.30,85.87h3.40M353.00,85.87h-3.40M191.30,76.83h1.90M353.00,76.83h-1.90M191.30,67.80h1.90M353.00,67.80h-1.90M191.30,58.77h1.90M353.00,58.77h-1.90M191.30,49.73h1.90M353.00,49.73h-1.90M191.30,40.70h3.40M353.00,40.70h-3.40M191.30,31.67h1.90M353.00,31.67h-1.90M191.30,22.63h1.90M353.00,22.63h-1.90M377.18,176.60v-1.90M377.18,14.20v1.90M386.24,176.60v-1.90M386.24,14.20v1.90M395.30,176.60v-1.90M395.30,14.20v1.90M404.36,176.60v-3.40M404.36,14.20v3.40M413.41,176.60v-1.90M413.41,14.20v1.90M422.47,176.60v-1.90M422.47,14.20v1.90M431.53,176.60v-1.90M431.53,14.20v1.90M440.59,176.60v-1.90M440.59,14.20v1.90M449.65,176.60v-3.40M449.65,14.20v3.40M458.71,176.60v-1.90M458.71,14.20v1.90M467.77,176.60v-1.90M467.77,14.20v1.90M476.83,176.60v-1.90M476.83,14.20v1.90M485.89,176.60v-1.90M485.89,14.20v1.90M494.94,176.60v-3.40M494.94,14.20v3.40M504.00,176.60v-1.90M504.00,14.20v1.90M513.06,176.60v-1.90M513.06,14.20v1.90M522.12,176.60v-1.90M522.12,14.20v1.90M368.80,167.58h1.90M530.50,167.58h-1.90M368.80,158.56h1.90M530.50,158.56h-1.90M368.80,149.53h1.90M530.50,149.53h-1.90M368.80,140.51h1.90M530.50,140.51h-1.90M368.80,131.49h3.40M530.50,131.49h-3.40M368.80,122.47h1.90M530.50,122.47h-1.90M368.80,113.44h1.90M530.50,113.44h-1.90M368.80,104.42h1.90M530.50,104.42h-1.90M368.80,95.40h1.90M530.50,95.40h-1.90M368.80,86.38h3.40M530.50,86.38h-3.40M368.80,77.36h1.90M530.50,77.36h-1.90M368.80,68.33h1.90M530.50,68.33h-1.90M368.80,59.31h1.90M530.50,59.31h-1.90M368.80,50.29h1.90M530.50,50.29h-1.90M368.80,41.27h3.40M530.50,41.27h-3.40M368.80,32.24h1.90M530.50,32.24h-1.90M368.80,23.22h1.90M530.50,23.22h-1.90M557.18,177.00v-1.90M557.18,14.70v1.90M566.25,177.00v-1.90M566.25,14.70v1.90M575.31,177.00v-1.90M575.31,14.70v1.90M584.38,177.00v-3.40M584.38,14.70v3.40M593.44,177.00v-1.90M593.44,14.70v1.90M602.51,177.00v-1.90M602.51,14.70v1.90M611.57,177.00v-1.90M611.57,14.70v1.90M620.64,177.00v-1.90M620.64,14.70v1.90M629.70,177.00v-3.40M629.70,14.70v3.40M638.76,177.00v-1.90M638.76,14.70v1.90M647.83,177.00v-1.90M647.83,14.70v1.90M656.89,177.00v-1.90M656.89,14.70v1.90M665.96,177.00v-1.90M665.96,14.70v1.90M675.02,177.00v-3.40M675.02,14.70v3.40M684.09,177.00v-1.90M684.09,14.70v1.90M693.15,177.00v-1.90M693.15,14.70v1.90M702.22,177.00v-1.90M702.22,14.70v1.90M548.80,167.98h1.90M710.60,167.98h-1.90M548.80,158.97h1.90M710.60,158.97h-1.90M548.80,149.95h1.90M710.60,149.95h-1.90M548.80,140.93h1.90M710.60,140.93h-1.90M548.80,131.92h3.40M710.60,131.92h-3.40M548.80,122.90h1.90M710.60,122.90h-1.90M548.80,113.88h1.90M710.60,113.88h-1.90M548.80,104.87h1.90M710.60,104.87h-1.90M548.80,95.85h1.90M710.60,95.85h-1.90M548.80,86.83h3.40M710.60,86.83h-3.40M548.80,77.82h1.90M710.60,77.82h-1.90M548.80,68.80h1.90M710.60,68.80h-1.90M548.80,59.78h1.90M710.60,59.78h-1.90M548.80,50.77h1.90M710.60,50.77h-1.90M548.80,41.75h3.40M710.60,41.75h-3.40M548.80,32.73h1.90M710.60,32.73h-1.90M548.80,23.72h1.90M710.60,23.72h-1.90M20.73,360.20v-1.90M20.73,197.60v1.90M29.84,360.20v-1.90M29.84,197.60v1.90M38.94,360.20v-1.90M38.94,197.60v1.90M48.05,360.20v-3.40M48.05,197.60v3.40M57.16,360.20v-1.90M57.16,197.60v1.90M66.27,360.20v-1.90M66.27,197.60v1.90M75.38,360.20v-1.90M75.38,197.60v1.90M84.49,360.20v-1.90M84.49,197.60v1.90M93.60,360.20v-3.40M93.60,197.60v3.40M102.71,360.20v-1.90M102.71,197.60v1.90M111.82,360.20v-1.90M111.82,197.60v1.90M120.93,360.20v-1.90M120.93,197.60v1.90M130.04,360.20v-1.90M130.04,197.60v1.90M139.15,360.20v-3.40M139.15,197.60v3.40M148.26,360.20v-1.90M148.26,197.60v1.90M157.36,360.20v-1.90M157.36,197.60v1.90M166.47,360.20v-1.90M166.47,197.60v1.90M12.30,351.17h1.90M174.90,351.17h-1.90M12.30,342.13h1.90M174.90,342.13h-1.90M12.30,333.10h1.90M174.90,333.10h-1.90M12.30,324.07h1.90M174.90,324.07h-1.90M12.30,315.03h3.40M174.90,315.03h-3.40M12.30,306.00h1.90M174.90,306.00h-1.90M12.30,296.97h1.90M174.90,296.97h-1.90M12.30,287.93h1.90M174.90,287.93h-1.90M12.30,278.90h1.90M174.90,278.90h-1.90M12.30,269.87h3.40M174.90,269.87h-3.40M12.30,260.83h1.90M174.90,260.83h-1.90M12.30,251.80h1.90M174.90,251.80h-1.90M12.30,242.77h1.90M174.90,242.77h-1.90M12.30,233.73h1.90M174.90,233.73h-1.90M12.30,224.70h3.40M174.90,224.70h-3.40M12.30,215.67h1.90M174.90,215.67h-1.90M12.30,206.63h1.90M174.90,206.63h-1.90M200.31,360.80v-1.90M200.31,198.40v1.90M209.39,360.80v-1.90M209.39,198.40v1.90M218.48,360.80v-1.90M218.48,198.40v1.90M227.57,360.80v-3.40M227.57,198.40v3.40M236.65,360.80v-1.90M236.65,198.40v1.90M245.74,360.80v-1.90M245.74,198.40v1.90M254.83,360.80v-1.90M254.83,198.40v1.90M263.91,360.80v-1.90M263.91,198.40v1.90M273.00,360.80v-3.40M273.00,198.40v3.40M282.09,360.80v-1.90M282.09,198.40v1.90M291.17,360.80v-1.90M291.17,198.40v1.90M300.26,360.80v-1.90M300.26,198.40v1.90M309.35,360.80v-1.90M309.35,198.40v1.90M318.43,360.80v-3.40M318.43,198.40v3.40M327.52,360.80v-1.90M327.52,198.40v1.90M336.61,360.80v-1.90M336.61,198.40v1.90M345.69,360.80v-1.90M345.69,198.40v1.90M191.90,351.78h1.90M354.10,351.78h-1.90M191.90,342.76h1.90M354.10,342.76h-1.90M191.90,333.73h1.90M354.10,333.73h-1.90M191.90,324.71h1.90M354.10,324.71h-1.90M191.90,315.69h3.40M354.10,315.69h-3.40M191.90,306.67h1.90M354.10,306.67h-1.90M191.90,297.64h1.90M354.10,297.64h-1.90M191.90,288.62h1.90M354.10,288.62h-1.90M191.90,279.60h1.90M354.10,279.60h-1.90M191.90,270.58h3.40M354.10,270.58h-3.40M191.90,261.56h1.90M354.10,261.56h-1.90M191.90,252.53h1.90M354.10,252.53h-1.90M191.90,243.51h1.90M354.10,243.51h-1.90M191.90,234.49h1.90M354.10,234.49h-1.90M191.90,225.47h3.40M354.10,225.47h-3.40M191.90,216.44h1.90M354.10,216.44h-1.90M191.90,207.42h1.90M354.10,207.42h-1.90M377.80,361.20v-1.90M377.80,199.40v1.90M386.88,361.20v-1.90M386.88,199.40v1.90M395.96,361.20v-1.90M395.96,199.40v1.90M405.04,361.20v-3.40M405.04,199.40v3.40M414.13,361.20v-1.90M414.13,199.40v1.90M423.21,361.20v-1.90M423.21,199.40v1.90M432.29,361.20v-1.90M432.29,199.40v1.90M441.37,361.20v-1.90M441.37,199.40v1.90M450.45,361.20v-3.40M450.45,199.40v3.40M459.53,361.20v-1.90M459.53,199.40v1.90M468.61,361.20v-1.90M468.61,199.40v1.90M477.69,361.20v-1.90M477.69,199.40v1.90M486.77,361.20v-1.90M486.77,199.40v1.90M495.86,361.20v-3.40M495.86,199.40v3.40M504.94,361.20v-1.90M504.94,199.40v1.90M514.02,361.20v-1.90M514.02,199.40v1.90M523.10,361.20v-1.90M523.10,199.40v1.90M369.40,352.21h1.90M531.50,352.21h-1.90M369.40,343.22h1.90M531.50,343.22h-1.90M369.40,334.23h1.90M531.50,334.23h-1.90M369.40,325.24h1.90M531.50,325.24h-1.90M369.40,316.26h3.40M531.50,316.26h-3.40M369.40,307.27h1.90M531.50,307.27h-1.90M369.40,298.28h1.90M531.50,298.28h-1.90M369.40,289.29h1.90M531.50,289.29h-1.90M369.40,280.30h1.90M531.50,280.30h-1.90M369.40,271.31h3.40M531.50,271.31h-3.40M369.40,262.32h1.90M531.50,262.32h-1.90M369.40,253.33h1.90M531.50,253.33h-1.90M369.40,244.34h1.90M531.50,244.34h-1.90M369.40,235.36h1.90M531.50,235.36h-1.90M369.40,226.37h3.40M531.50,226.37h-3.40M369.40,217.38h1.90M531.50,217.38h-1.90M369.40,208.39h1.90M531.50,208.39h-1.90M558.23,361.70v-1.90M558.23,199.80v1.90M567.34,361.70v-1.90M567.34,199.80v1.90M576.44,361.70v-1.90M576.44,199.80v1.90M585.55,361.70v-3.40M585.55,199.80v3.40M594.66,361.70v-1.90M594.66,199.80v1.90M603.77,361.70v-1.90M603.77,199.80v1.90M612.88,361.70v-1.90M612.88,199.80v1.90M621.99,361.70v-1.90M621.99,199.80v1.90M631.10,361.70v-3.40M631.10,199.80v3.40M640.21,361.70v-1.90M640.21,199.80v1.90M649.32,361.70v-1.90M649.32,199.80v1.90M658.43,361.70v-1.90M658.43,199.80v1.90M667.54,361.70v-1.90M667.54,199.80v1.90M676.65,361.70v-3.40M676.65,199.80v3.40M685.76,361.70v-1.90M685.76,199.80v1.90M694.86,361.70v-1.90M694.86,199.80v1.90M703.97,361.70v-1.90M703.97,199.80v1.90M549.80,352.71h1.90M712.40,352.71h-1.90M549.80,343.71h1.90M712.40,343.71h-1.90M549.80,334.72h1.90M712.40,334.72h-1.90M549.80,325.72h1.90M712.40,325.72h-1.90M549.80,316.73h3.40M712.40,316.73h-3.40M549.80,307.73h1.90M712.40,307.73h-1.90M549.80,298.74h1.90M712.40,298.74h-1.90M549.80,289.74h1.90M712.40,289.74h-1.90M549.80,280.75h1.90M712.40,280.75h-1.90M549.80,271.76h3.40M712.40,271.76h-3.40M549.80,262.76h1.90M712.40,262.76h-1.90M549.80,253.77h1.90M712.40,253.77h-1.90M549.80,244.77h1.90M712.40,244.77h-1.90M549.80,235.78h1.90M712.40,235.78h-1.90M549.80,226.78h3.40M712.40,226.78h-3.40M549.80,217.79h1.90M712.40,217.79h-1.90M549.80,208.79h1.90M712.40,208.79h-1.90" stroke="#111" stroke-width="1.05" fill="none"/><text x="66.7" y="10.3" font-family="Liberation Sans, sans-serif" font-size="10.8" word-spacing="1.4" fill="#111">n = 30,000</text><text x="241.8" y="10.3" font-family="Liberation Sans, sans-serif" font-size="10.8" word-spacing="1.4" fill="#111">n = 50,000</text><text x="417.5" y="10.0" font-family="Liberation Sans, sans-serif" font-size="10.8" word-spacing="1.4" fill="#111">n = 70,000</text><text x="595.8" y="9.8" font-family="Liberation Sans, sans-serif" font-size="10.8" word-spacing="1.4" fill="#111">n = 90,000</text><text x="66.7" y="195.3" font-family="Liberation Sans, sans-serif" font-size="10.8" word-spacing="1.4" fill="#111">n = 110,000</text><text x="241.7" y="195.3" font-family="Liberation Sans, sans-serif" font-size="10.8" word-spacing="1.4" fill="#111">n = 130,000</text><text x="417.7" y="195.1" font-family="Liberation Sans, sans-serif" font-size="10.8" word-spacing="1.4" fill="#111">n = 140,000</text><text x="595.9" y="195.1" font-family="Liberation Sans, sans-serif" font-size="10.8" word-spacing="1.4" fill="#111">n = 160,000</text><text x="17.9" y="29.1" font-family="Liberation Sans, sans-serif" font-size="9.8" font-weight="bold" fill="#111">z</text><text x="157.8" y="167.2" font-family="Liberation Sans, sans-serif" font-size="8.0" font-weight="bold" fill="#111">y</text><text x="197.8" y="30.2" font-family="Liberation Sans, sans-serif" font-size="9.8" font-weight="bold" fill="#111">z</text><text x="337.1" y="168.2" font-family="Liberation Sans, sans-serif" font-size="8.0" font-weight="bold" fill="#111">y</text><text x="375.3" y="30.8" font-family="Liberation Sans, sans-serif" font-size="9.8" font-weight="bold" fill="#111">z</text><text x="514.6" y="168.6" font-family="Liberation Sans, sans-serif" font-size="8.0" font-weight="bold" fill="#111">y</text><text x="555.3" y="31.3" font-family="Liberation Sans, sans-serif" font-size="9.8" font-weight="bold" fill="#111">z</text><text x="694.7" y="169.0" font-family="Liberation Sans, sans-serif" font-size="8.0" font-weight="bold" fill="#111">y</text><text x="18.8" y="214.2" font-family="Liberation Sans, sans-serif" font-size="9.8" font-weight="bold" fill="#111">z</text><text x="159.0" y="352.2" font-family="Liberation Sans, sans-serif" font-size="8.0" font-weight="bold" fill="#111">y</text><text x="198.4" y="215.0" font-family="Liberation Sans, sans-serif" font-size="9.8" font-weight="bold" fill="#111">z</text><text x="338.2" y="352.8" font-family="Liberation Sans, sans-serif" font-size="8.0" font-weight="bold" fill="#111">y</text><text x="375.9" y="216.0" font-family="Liberation Sans, sans-serif" font-size="9.8" font-weight="bold" fill="#111">z</text><text x="515.6" y="353.2" font-family="Liberation Sans, sans-serif" font-size="8.0" font-weight="bold" fill="#111">y</text><text x="556.3" y="216.4" font-family="Liberation Sans, sans-serif" font-size="9.8" font-weight="bold" fill="#111">z</text><text x="696.5" y="353.7" font-family="Liberation Sans, sans-serif" font-size="8.0" font-weight="bold" fill="#111">y</text><text transform="translate(7.30,130.01) rotate(-90)" font-family="Liberation Sans, sans-serif" font-size="8.4" text-anchor="middle" fill="#111">100</text><text transform="translate(7.30,84.81) rotate(-90)" font-family="Liberation Sans, sans-serif" font-size="8.4" text-anchor="middle" fill="#111">200</text><text transform="translate(7.30,39.62) rotate(-90)" font-family="Liberation Sans, sans-serif" font-size="8.4" text-anchor="middle" fill="#111">300</text><text transform="translate(8.20,315.03) rotate(-90)" font-family="Liberation Sans, sans-serif" font-size="8.4" text-anchor="middle" fill="#111">100</text><text transform="translate(8.20,269.87) rotate(-90)" font-family="Liberation Sans, sans-serif" font-size="8.4" text-anchor="middle" fill="#111">200</text><text transform="translate(8.20,224.70) rotate(-90)" font-family="Liberation Sans, sans-serif" font-size="8.4" text-anchor="middle" fill="#111">300</text><text x="46.85" y="369.50" font-family="Liberation Sans, sans-serif" font-size="8.2" text-anchor="middle" fill="#111">−100</text><text x="93.60" y="369.50" font-family="Liberation Sans, sans-serif" font-size="8.2" text-anchor="middle" fill="#111">0</text><text x="139.15" y="369.50" font-family="Liberation Sans, sans-serif" font-size="8.2" text-anchor="middle" fill="#111">100</text><text x="226.37" y="370.10" font-family="Liberation Sans, sans-serif" font-size="8.2" text-anchor="middle" fill="#111">−100</text><text x="273.00" y="370.10" font-family="Liberation Sans, sans-serif" font-size="8.2" text-anchor="middle" fill="#111">0</text><text x="318.43" y="370.10" font-family="Liberation Sans, sans-serif" font-size="8.2" text-anchor="middle" fill="#111">100</text><text x="403.84" y="370.50" font-family="Liberation Sans, sans-serif" font-size="8.2" text-anchor="middle" fill="#111">−100</text><text x="450.45" y="370.50" font-family="Liberation Sans, sans-serif" font-size="8.2" text-anchor="middle" fill="#111">0</text><text x="495.86" y="370.50" font-family="Liberation Sans, sans-serif" font-size="8.2" text-anchor="middle" fill="#111">100</text><text x="584.35" y="371.00" font-family="Liberation Sans, sans-serif" font-size="8.2" text-anchor="middle" fill="#111">−100</text><text x="631.10" y="371.00" font-family="Liberation Sans, sans-serif" font-size="8.2" text-anchor="middle" fill="#111">0</text><text x="676.65" y="371.00" font-family="Liberation Sans, sans-serif" font-size="8.2" text-anchor="middle" fill="#111">100</text><rect x="716.40" y="14.50" width="13.40" height="162.20" fill="url(#cbg)" stroke="#111" stroke-width="1"/><path d="M716.40,160.48h2.2M729.80,160.48h-2.2M716.40,144.26h2.2M729.80,144.26h-2.2M716.40,128.04h2.2M729.80,128.04h-2.2M716.40,111.82h2.2M729.80,111.82h-2.2M716.40,95.60h2.2M729.80,95.60h-2.2M716.40,79.38h2.2M729.80,79.38h-2.2M716.40,63.16h2.2M729.80,63.16h-2.2M716.40,46.94h2.2M729.80,46.94h-2.2M716.40,30.72h2.2M729.80,30.72h-2.2" stroke="#111" stroke-width="1" fill="none"/><text transform="translate(740.30,176.70) rotate(-90)" font-family="Liberation Sans, sans-serif" font-size="8.4" text-anchor="middle" fill="#111">0</text><text transform="translate(740.30,144.26) rotate(-90)" font-family="Liberation Sans, sans-serif" font-size="8.4" text-anchor="middle" fill="#111">2</text><text transform="translate(740.30,111.82) rotate(-90)" font-family="Liberation Sans, sans-serif" font-size="8.4" text-anchor="middle" fill="#111">4</text><text transform="translate(740.30,79.38) rotate(-90)" font-family="Liberation Sans, sans-serif" font-size="8.4" text-anchor="middle" fill="#111">6</text><text transform="translate(740.30,46.94) rotate(-90)" font-family="Liberation Sans, sans-serif" font-size="8.4" text-anchor="middle" fill="#111">8</text><text transform="translate(740.30,14.50) rotate(-90)" font-family="Liberation Sans, sans-serif" font-size="8.4" text-anchor="middle" fill="#111">10</text><text x="707.0" y="7.7" font-family="Liberation Sans, sans-serif" font-size="8.3" font-weight="bold" word-spacing="1.1" fill="#111">Log Q</text></svg></body></html>
